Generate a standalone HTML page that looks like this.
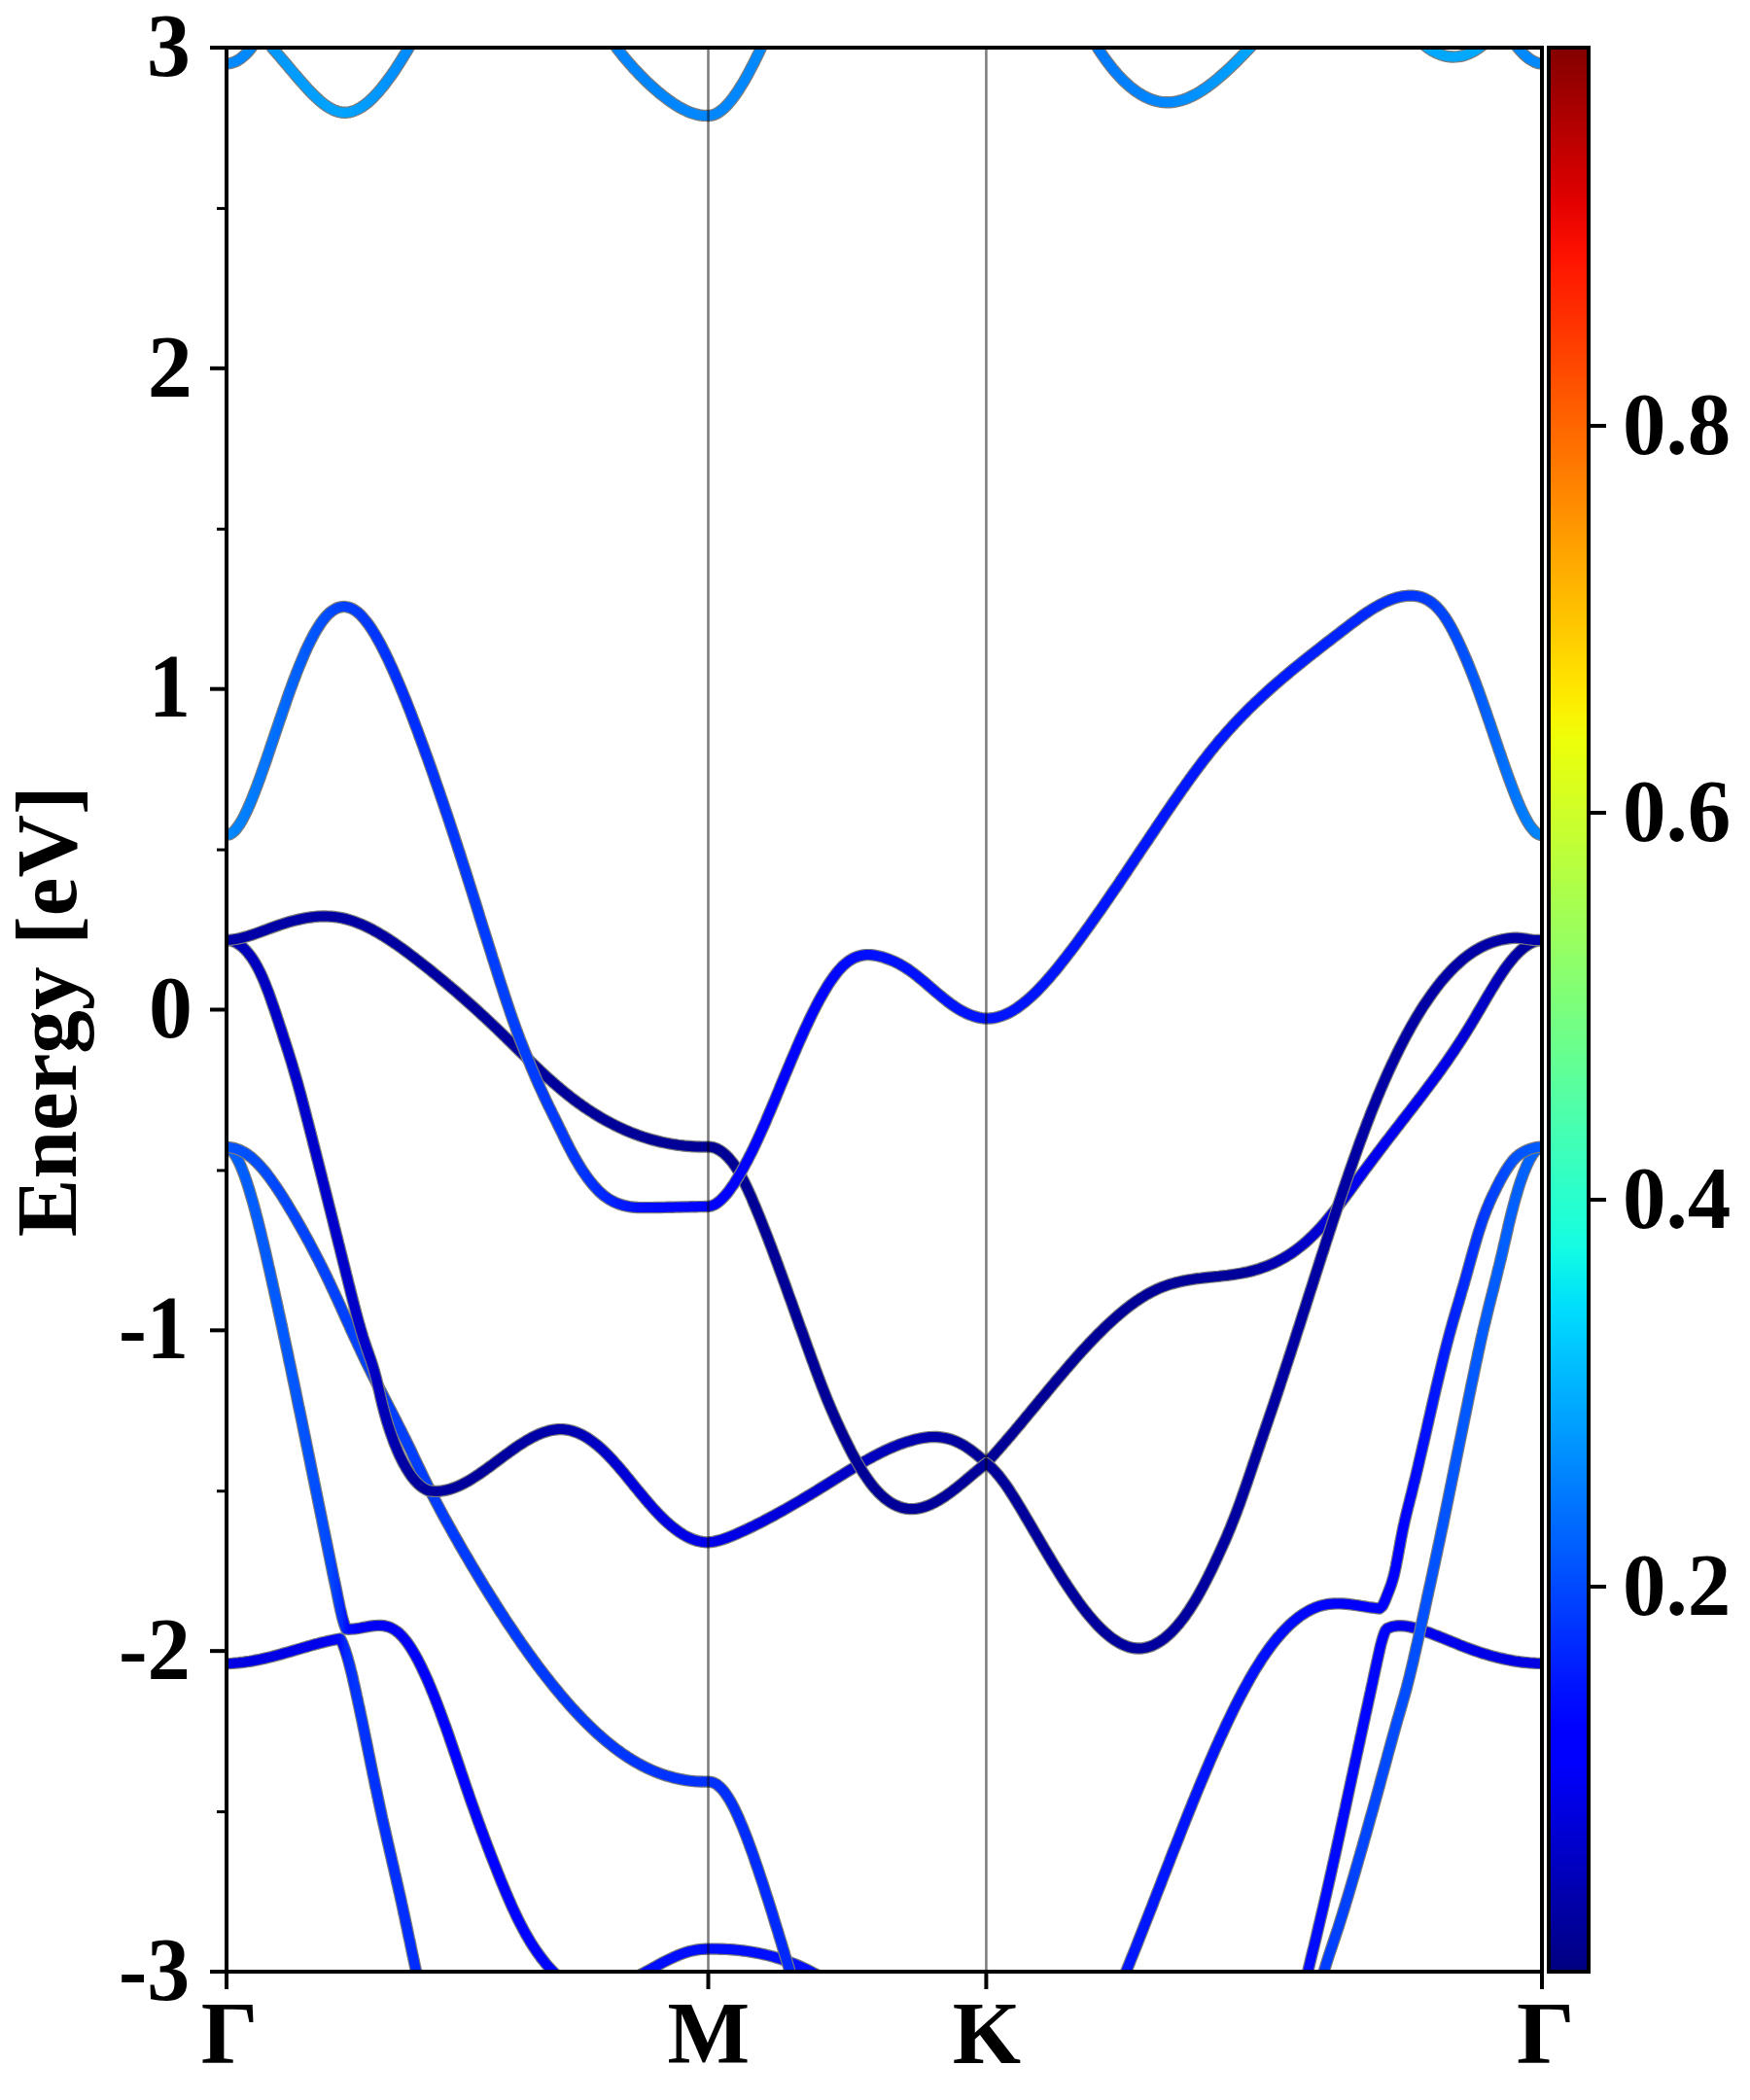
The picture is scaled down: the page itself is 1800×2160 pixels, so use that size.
<!DOCTYPE html>
<html lang="en"><head><meta charset="utf-8"><title>Band structure</title>
<style>html,body{margin:0;padding:0;background:#fff;overflow:hidden}svg{display:block}</style></head>
<body><svg width="1800" height="2160" viewBox="0 0 1800 2160"><defs><linearGradient id="gT1" gradientUnits="userSpaceOnUse" x1="233" y1="0" x2="265" y2="0"><stop offset="0.0000" stop-color="#0088ff"/><stop offset="1.0000" stop-color="#0088ff"/></linearGradient><linearGradient id="gT2" gradientUnits="userSpaceOnUse" x1="270" y1="0" x2="427" y2="0"><stop offset="0.0000" stop-color="#0096ff"/><stop offset="0.5223" stop-color="#00a4ff"/><stop offset="1.0000" stop-color="#0088ff"/></linearGradient><linearGradient id="gT3" gradientUnits="userSpaceOnUse" x1="626" y1="0" x2="788" y2="0"><stop offset="0.0000" stop-color="#0084ff"/><stop offset="1.0000" stop-color="#0088ff"/></linearGradient><linearGradient id="gT4" gradientUnits="userSpaceOnUse" x1="1122" y1="0" x2="1296" y2="0"><stop offset="0.0000" stop-color="#0078ff"/><stop offset="0.4540" stop-color="#0088ff"/><stop offset="1.0000" stop-color="#00a8ff"/></linearGradient><linearGradient id="gT5" gradientUnits="userSpaceOnUse" x1="1456" y1="0" x2="1534" y2="0"><stop offset="0.0000" stop-color="#00a8ff"/><stop offset="1.0000" stop-color="#00a8ff"/></linearGradient><linearGradient id="gT6" gradientUnits="userSpaceOnUse" x1="1554" y1="0" x2="1586" y2="0"><stop offset="0.0000" stop-color="#0088ff"/><stop offset="1.0000" stop-color="#0088ff"/></linearGradient><linearGradient id="gH" gradientUnits="userSpaceOnUse" x1="640" y1="0" x2="850" y2="0"><stop offset="0.0000" stop-color="#000cff"/><stop offset="1.0000" stop-color="#0010ff"/></linearGradient><linearGradient id="gG" gradientUnits="userSpaceOnUse" x1="233" y1="0" x2="433" y2="0"><stop offset="0.0000" stop-color="#0000e1"/><stop offset="0.4850" stop-color="#0000eb"/><stop offset="0.5800" stop-color="#0008fa"/><stop offset="0.6050" stop-color="#0024ff"/><stop offset="0.6600" stop-color="#0034ff"/><stop offset="1.0000" stop-color="#002cff"/></linearGradient><linearGradient id="gE" gradientUnits="userSpaceOnUse" x1="233" y1="0" x2="590" y2="0"><stop offset="0.0000" stop-color="#0060ff"/><stop offset="0.1877" stop-color="#0058ff"/><stop offset="0.2997" stop-color="#0048ff"/><stop offset="0.3333" stop-color="#0028ff"/><stop offset="0.3501" stop-color="#0008ff"/><stop offset="0.3838" stop-color="#0000f5"/><stop offset="0.6078" stop-color="#0000ff"/><stop offset="1.0000" stop-color="#0004ff"/></linearGradient><linearGradient id="gD" gradientUnits="userSpaceOnUse" x1="233" y1="0" x2="820" y2="0"><stop offset="0.0000" stop-color="#0054ff"/><stop offset="0.1141" stop-color="#0044ff"/><stop offset="0.3697" stop-color="#003cff"/><stop offset="0.6252" stop-color="#0038ff"/><stop offset="0.8433" stop-color="#0030ff"/><stop offset="1.0000" stop-color="#0028ff"/></linearGradient><linearGradient id="gC" gradientUnits="userSpaceOnUse" x1="233" y1="0" x2="1586" y2="0"><stop offset="0.0000" stop-color="#0000b4"/><stop offset="0.0495" stop-color="#0000cd"/><stop offset="0.1086" stop-color="#0000c8"/><stop offset="0.1382" stop-color="#0000a0"/><stop offset="0.1973" stop-color="#00009b"/><stop offset="0.2572" stop-color="#0000af"/><stop offset="0.3082" stop-color="#0000dc"/><stop offset="0.3659" stop-color="#0000eb"/><stop offset="0.4339" stop-color="#0000d7"/><stop offset="0.4930" stop-color="#0000be"/><stop offset="0.5373" stop-color="#0000aa"/><stop offset="0.5772" stop-color="#000096"/><stop offset="0.7738" stop-color="#00009b"/><stop offset="0.8182" stop-color="#0000c8"/><stop offset="0.8625" stop-color="#0000f0"/><stop offset="0.9217" stop-color="#0000eb"/><stop offset="0.9586" stop-color="#0000c3"/><stop offset="0.9845" stop-color="#0000a0"/><stop offset="1.0000" stop-color="#0000a0"/></linearGradient><linearGradient id="gB" gradientUnits="userSpaceOnUse" x1="233" y1="0" x2="1586" y2="0"><stop offset="0.0000" stop-color="#0000a8"/><stop offset="0.3659" stop-color="#000096"/><stop offset="0.5772" stop-color="#00009b"/><stop offset="1.0000" stop-color="#0000a8"/></linearGradient><linearGradient id="gA" gradientUnits="userSpaceOnUse" x1="233" y1="0" x2="1586" y2="0"><stop offset="0.0000" stop-color="#0088ff"/><stop offset="0.0347" stop-color="#0070ff"/><stop offset="0.0717" stop-color="#0050ff"/><stop offset="0.0894" stop-color="#0040ff"/><stop offset="0.1382" stop-color="#002cff"/><stop offset="0.2121" stop-color="#0040ff"/><stop offset="0.2712" stop-color="#0034ff"/><stop offset="0.3156" stop-color="#000cff"/><stop offset="0.3659" stop-color="#0000ff"/><stop offset="0.4560" stop-color="#0004ff"/><stop offset="0.4930" stop-color="#0010ff"/><stop offset="0.5772" stop-color="#0014ff"/><stop offset="0.7886" stop-color="#0018ff"/><stop offset="0.8625" stop-color="#0028ff"/><stop offset="0.8995" stop-color="#0034ff"/><stop offset="0.9364" stop-color="#004cff"/><stop offset="0.9734" stop-color="#0070ff"/><stop offset="1.0000" stop-color="#0088ff"/></linearGradient><linearGradient id="gG2" gradientUnits="userSpaceOnUse" x1="1340" y1="0" x2="1586" y2="0"><stop offset="0.0000" stop-color="#000cff"/><stop offset="0.3252" stop-color="#0004ff"/><stop offset="0.4065" stop-color="#0000f0"/><stop offset="1.0000" stop-color="#0000e1"/></linearGradient><linearGradient id="gE2" gradientUnits="userSpaceOnUse" x1="1355" y1="0" x2="1586" y2="0"><stop offset="0.0000" stop-color="#003cff"/><stop offset="0.4545" stop-color="#0050ff"/><stop offset="0.7576" stop-color="#005cff"/><stop offset="1.0000" stop-color="#0064ff"/></linearGradient><linearGradient id="gF2" gradientUnits="userSpaceOnUse" x1="1150" y1="0" x2="1586" y2="0"><stop offset="0.0000" stop-color="#0018ff"/><stop offset="0.3440" stop-color="#0010ff"/><stop offset="0.5275" stop-color="#0000fa"/><stop offset="0.6651" stop-color="#0000ff"/><stop offset="0.7569" stop-color="#0018ff"/><stop offset="0.8486" stop-color="#0034ff"/><stop offset="0.9404" stop-color="#0054ff"/><stop offset="1.0000" stop-color="#005cff"/></linearGradient><linearGradient id="jet" x1="0" y1="0" x2="0" y2="1"><stop offset="0.0000" stop-color="#840000"/><stop offset="0.0156" stop-color="#960000"/><stop offset="0.0312" stop-color="#a80000"/><stop offset="0.0469" stop-color="#bb0000"/><stop offset="0.0625" stop-color="#cd0000"/><stop offset="0.0781" stop-color="#df0000"/><stop offset="0.0938" stop-color="#f10800"/><stop offset="0.1094" stop-color="#ff1300"/><stop offset="0.1250" stop-color="#ff2200"/><stop offset="0.1406" stop-color="#ff3000"/><stop offset="0.1562" stop-color="#ff3f00"/><stop offset="0.1719" stop-color="#ff4e00"/><stop offset="0.1875" stop-color="#ff5d00"/><stop offset="0.2031" stop-color="#ff6c00"/><stop offset="0.2188" stop-color="#ff7a00"/><stop offset="0.2344" stop-color="#ff8900"/><stop offset="0.2500" stop-color="#ff9800"/><stop offset="0.2656" stop-color="#ffa700"/><stop offset="0.2812" stop-color="#ffb600"/><stop offset="0.2969" stop-color="#ffc400"/><stop offset="0.3125" stop-color="#ffd300"/><stop offset="0.3281" stop-color="#ffe200"/><stop offset="0.3438" stop-color="#fbf100"/><stop offset="0.3594" stop-color="#eeff09"/><stop offset="0.3750" stop-color="#e1ff16"/><stop offset="0.3906" stop-color="#d4ff23"/><stop offset="0.4062" stop-color="#c7ff30"/><stop offset="0.4219" stop-color="#baff3c"/><stop offset="0.4375" stop-color="#adff49"/><stop offset="0.4531" stop-color="#a0ff56"/><stop offset="0.4688" stop-color="#94ff63"/><stop offset="0.4844" stop-color="#87ff70"/><stop offset="0.5000" stop-color="#7aff7d"/><stop offset="0.5156" stop-color="#6dff8a"/><stop offset="0.5312" stop-color="#60ff97"/><stop offset="0.5469" stop-color="#53ffa4"/><stop offset="0.5625" stop-color="#46ffb1"/><stop offset="0.5781" stop-color="#39ffbe"/><stop offset="0.5938" stop-color="#2cffca"/><stop offset="0.6094" stop-color="#1fffd7"/><stop offset="0.6250" stop-color="#13fce4"/><stop offset="0.6406" stop-color="#06ecf1"/><stop offset="0.6562" stop-color="#00dcfe"/><stop offset="0.6719" stop-color="#00ccff"/><stop offset="0.6875" stop-color="#00bcff"/><stop offset="0.7031" stop-color="#00acff"/><stop offset="0.7188" stop-color="#009cff"/><stop offset="0.7344" stop-color="#008cff"/><stop offset="0.7500" stop-color="#007cff"/><stop offset="0.7656" stop-color="#006cff"/><stop offset="0.7812" stop-color="#005cff"/><stop offset="0.7969" stop-color="#004cff"/><stop offset="0.8125" stop-color="#003cff"/><stop offset="0.8281" stop-color="#002cff"/><stop offset="0.8438" stop-color="#001cff"/><stop offset="0.8594" stop-color="#000cff"/><stop offset="0.8750" stop-color="#0000ff"/><stop offset="0.8906" stop-color="#0000ff"/><stop offset="0.9062" stop-color="#0000ed"/><stop offset="0.9219" stop-color="#0000da"/><stop offset="0.9375" stop-color="#0000c8"/><stop offset="0.9531" stop-color="#0000b6"/><stop offset="0.9688" stop-color="#0000a4"/><stop offset="0.9844" stop-color="#000092"/><stop offset="1.0000" stop-color="#000080"/></linearGradient><clipPath id="ax"><rect x="233" y="49" width="1353" height="1979"/></clipPath></defs><rect width="1800" height="2160" fill="#fff"/><g clip-path="url(#ax)" fill="none" stroke-linejoin="round" stroke-linecap="butt"><path d="M233 65.5L236 65.2L239 64.5L241.8 63.5L244.6 62.1L247.2 60.4L249.6 58.5L251.9 56.4L254.1 54.3L256.2 52L258.1 49.6L260 47.2L261.8 44.7L263.5 42.2L265 40.0" stroke="#7c7c7c" stroke-width="12.4"/><path d="M233 65.5L236 65.2L239 64.5L241.8 63.5L244.6 62.1L247.2 60.4L249.6 58.5L251.9 56.4L254.1 54.3L256.2 52L258.1 49.6L260 47.2L261.8 44.7L263.5 42.2L265 40.0" stroke="url(#gT1)" stroke-width="10"/><path d="M270 38L272 40.2L274 42.5L276 44.7L278 47L280 49.2L281.9 51.5L283.9 53.8L285.9 56L287.9 58.3L289.8 60.6L291.8 62.9L293.7 65.1L295.7 67.4L297.6 69.7L299.5 72L301.5 74.3L303.4 76.6L305.4 78.9L307.3 81.1L309.3 83.4L311.3 85.6L313.3 87.9L315.3 90.1L317.3 92.3L319.3 94.4L321.4 96.5L323.5 98.6L325.7 100.7L327.9 102.7L330.1 104.6L332.4 106.5L334.8 108.2L337.2 109.9L339.8 111.4L342.4 112.8L345.1 113.9L347.9 114.9L350.8 115.5L353.7 115.8L356.7 115.7L359.7 115.3L362.7 114.5L365.5 113.5L368.3 112.2L371 110.7L373.5 109L376 107.2L378.4 105.3L380.6 103.3L382.9 101.2L385 99L387.1 96.8L389.1 94.6L391.1 92.3L393.1 89.9L394.9 87.6L396.8 85.2L398.6 82.7L400.4 80.3L402.2 77.8L403.9 75.4L405.6 72.9L407.3 70.3L408.9 67.8L410.6 65.3L412.2 62.7L413.8 60.2L415.4 57.6L416.9 55.1L418.5 52.5L420 49.9L421.6 47.3L423.1 44.7L424.6 42.1L426.1 39.5L427 38.0" stroke="#7c7c7c" stroke-width="12.4"/><path d="M270 38L272 40.2L274 42.5L276 44.7L278 47L280 49.2L281.9 51.5L283.9 53.8L285.9 56L287.9 58.3L289.8 60.6L291.8 62.9L293.7 65.1L295.7 67.4L297.6 69.7L299.5 72L301.5 74.3L303.4 76.6L305.4 78.9L307.3 81.1L309.3 83.4L311.3 85.6L313.3 87.9L315.3 90.1L317.3 92.3L319.3 94.4L321.4 96.5L323.5 98.6L325.7 100.7L327.9 102.7L330.1 104.6L332.4 106.5L334.8 108.2L337.2 109.9L339.8 111.4L342.4 112.8L345.1 113.9L347.9 114.9L350.8 115.5L353.7 115.8L356.7 115.7L359.7 115.3L362.7 114.5L365.5 113.5L368.3 112.2L371 110.7L373.5 109L376 107.2L378.4 105.3L380.6 103.3L382.9 101.2L385 99L387.1 96.8L389.1 94.6L391.1 92.3L393.1 89.9L394.9 87.6L396.8 85.2L398.6 82.7L400.4 80.3L402.2 77.8L403.9 75.4L405.6 72.9L407.3 70.3L408.9 67.8L410.6 65.3L412.2 62.7L413.8 60.2L415.4 57.6L416.9 55.1L418.5 52.5L420 49.9L421.6 47.3L423.1 44.7L424.6 42.1L426.1 39.5L427 38.0" stroke="url(#gT2)" stroke-width="10"/><path d="M626 38L627.7 40.4L629.5 42.8L631.3 45.2L633.1 47.6L634.9 50L636.7 52.3L638.6 54.7L640.4 57L642.3 59.3L644.3 61.6L646.2 63.9L648.2 66.1L650.1 68.3L652.1 70.6L654.2 72.7L656.2 74.9L658.3 77.1L660.4 79.2L662.5 81.3L664.6 83.4L666.8 85.5L668.9 87.5L671.2 89.5L673.4 91.5L675.6 93.4L677.9 95.4L680.2 97.3L682.6 99.1L684.9 100.9L687.3 102.7L689.7 104.4L692.2 106.1L694.7 107.7L697.2 109.3L699.8 110.8L702.4 112.2L705.1 113.5L707.8 114.8L710.5 115.9L713.4 116.8L716.2 117.6L719.1 118.3L722.1 118.7L725.1 118.9L728.1 119L728.4 119L731.4 118.7L734.3 117.9L737.2 116.7L739.8 115.1L742.3 113.2L744.7 111.2L746.9 109.1L749 106.8L751 104.5L752.9 102.1L754.7 99.7L756.5 97.2L758.2 94.7L759.9 92.2L761.5 89.6L763.1 87L764.7 84.4L766.2 81.8L767.7 79.2L769.2 76.5L770.6 73.9L772 71.2L773.4 68.5L774.8 65.8L776.2 63.1L777.5 60.4L778.8 57.7L780.2 55L781.4 52.3L782.7 49.6L784 46.8L785.3 44.1L786.5 41.3L787.7 38.6L788 38.0" stroke="#7c7c7c" stroke-width="12.4"/><path d="M626 38L627.7 40.4L629.5 42.8L631.3 45.2L633.1 47.6L634.9 50L636.7 52.3L638.6 54.7L640.4 57L642.3 59.3L644.3 61.6L646.2 63.9L648.2 66.1L650.1 68.3L652.1 70.6L654.2 72.7L656.2 74.9L658.3 77.1L660.4 79.2L662.5 81.3L664.6 83.4L666.8 85.5L668.9 87.5L671.2 89.5L673.4 91.5L675.6 93.4L677.9 95.4L680.2 97.3L682.6 99.1L684.9 100.9L687.3 102.7L689.7 104.4L692.2 106.1L694.7 107.7L697.2 109.3L699.8 110.8L702.4 112.2L705.1 113.5L707.8 114.8L710.5 115.9L713.4 116.8L716.2 117.6L719.1 118.3L722.1 118.7L725.1 118.9L728.1 119L728.4 119L731.4 118.7L734.3 117.9L737.2 116.7L739.8 115.1L742.3 113.2L744.7 111.2L746.9 109.1L749 106.8L751 104.5L752.9 102.1L754.7 99.7L756.5 97.2L758.2 94.7L759.9 92.2L761.5 89.6L763.1 87L764.7 84.4L766.2 81.8L767.7 79.2L769.2 76.5L770.6 73.9L772 71.2L773.4 68.5L774.8 65.8L776.2 63.1L777.5 60.4L778.8 57.7L780.2 55L781.4 52.3L782.7 49.6L784 46.8L785.3 44.1L786.5 41.3L787.7 38.6L788 38.0" stroke="url(#gT3)" stroke-width="10"/><path d="M1122 38L1123.5 40.5L1125.1 43.1L1126.6 45.6L1128.2 48.1L1129.9 50.6L1131.5 53.1L1133.2 55.6L1134.9 58L1136.6 60.4L1138.3 62.8L1140.1 65.2L1142 67.6L1143.8 69.9L1145.7 72.2L1147.6 74.4L1149.6 76.7L1151.6 78.9L1153.6 81L1155.7 83.1L1157.9 85.1L1160.1 87.1L1162.3 89.1L1164.6 90.9L1167 92.7L1169.4 94.5L1171.9 96.1L1174.4 97.6L1177 99.1L1179.7 100.4L1182.4 101.6L1185.2 102.6L1188 103.5L1190.9 104.2L1193.8 104.8L1196.8 105.1L1199.8 105.3L1202.8 105.2L1205.8 105L1208.7 104.6L1211.7 104L1214.6 103.3L1217.5 102.4L1220.4 101.4L1223.2 100.2L1225.9 98.9L1228.6 97.6L1231.3 96.1L1233.9 94.6L1236.4 93L1239 91.3L1241.4 89.6L1243.9 87.8L1246.3 86L1248.7 84.1L1251 82.2L1253.3 80.3L1255.6 78.3L1257.9 76.3L1260.1 74.3L1262.4 72.3L1264.6 70.2L1266.7 68.2L1268.9 66.1L1271 64L1273.2 61.8L1275.3 59.7L1277.4 57.5L1279.5 55.4L1281.6 53.2L1283.7 51.1L1285.7 48.9L1287.8 46.7L1289.9 44.5L1291.9 42.3L1294 40.1L1296 38.0" stroke="#7c7c7c" stroke-width="12.4"/><path d="M1122 38L1123.5 40.5L1125.1 43.1L1126.6 45.6L1128.2 48.1L1129.9 50.6L1131.5 53.1L1133.2 55.6L1134.9 58L1136.6 60.4L1138.3 62.8L1140.1 65.2L1142 67.6L1143.8 69.9L1145.7 72.2L1147.6 74.4L1149.6 76.7L1151.6 78.9L1153.6 81L1155.7 83.1L1157.9 85.1L1160.1 87.1L1162.3 89.1L1164.6 90.9L1167 92.7L1169.4 94.5L1171.9 96.1L1174.4 97.6L1177 99.1L1179.7 100.4L1182.4 101.6L1185.2 102.6L1188 103.5L1190.9 104.2L1193.8 104.8L1196.8 105.1L1199.8 105.3L1202.8 105.2L1205.8 105L1208.7 104.6L1211.7 104L1214.6 103.3L1217.5 102.4L1220.4 101.4L1223.2 100.2L1225.9 98.9L1228.6 97.6L1231.3 96.1L1233.9 94.6L1236.4 93L1239 91.3L1241.4 89.6L1243.9 87.8L1246.3 86L1248.7 84.1L1251 82.2L1253.3 80.3L1255.6 78.3L1257.9 76.3L1260.1 74.3L1262.4 72.3L1264.6 70.2L1266.7 68.2L1268.9 66.1L1271 64L1273.2 61.8L1275.3 59.7L1277.4 57.5L1279.5 55.4L1281.6 53.2L1283.7 51.1L1285.7 48.9L1287.8 46.7L1289.9 44.5L1291.9 42.3L1294 40.1L1296 38.0" stroke="url(#gT4)" stroke-width="10"/><path d="M1456 38L1458.1 40.1L1460.2 42.2L1462.4 44.2L1464.6 46.1L1467 47.9L1469.4 49.6L1471.8 51.3L1474.4 52.8L1477 54.1L1479.7 55.3L1482.5 56.4L1485.3 57.2L1488.2 57.9L1491.2 58.3L1494.1 58.5L1497.1 58.4L1500.1 58.1L1503.1 57.6L1506 56.9L1508.9 55.9L1511.7 54.7L1514.5 53.4L1517.1 51.9L1519.7 50.3L1522.2 48.5L1524.6 46.7L1526.9 44.7L1529.2 42.7L1531.4 40.6L1533.6 38.5L1534 38.0" stroke="#7c7c7c" stroke-width="12.4"/><path d="M1456 38L1458.1 40.1L1460.2 42.2L1462.4 44.2L1464.6 46.1L1467 47.9L1469.4 49.6L1471.8 51.3L1474.4 52.8L1477 54.1L1479.7 55.3L1482.5 56.4L1485.3 57.2L1488.2 57.9L1491.2 58.3L1494.1 58.5L1497.1 58.4L1500.1 58.1L1503.1 57.6L1506 56.9L1508.9 55.9L1511.7 54.7L1514.5 53.4L1517.1 51.9L1519.7 50.3L1522.2 48.5L1524.6 46.7L1526.9 44.7L1529.2 42.7L1531.4 40.6L1533.6 38.5L1534 38.0" stroke="url(#gT5)" stroke-width="10"/><path d="M1554 40L1555.8 42.4L1557.6 44.7L1559.5 47L1561.4 49.3L1563.3 51.5L1565.3 53.7L1567.4 55.8L1569.6 57.7L1571.8 59.6L1574.2 61.3L1576.7 62.8L1579.3 64.1L1582.1 65L1585 65.4L1586 65.5" stroke="#7c7c7c" stroke-width="12.4"/><path d="M1554 40L1555.8 42.4L1557.6 44.7L1559.5 47L1561.4 49.3L1563.3 51.5L1565.3 53.7L1567.4 55.8L1569.6 57.7L1571.8 59.6L1574.2 61.3L1576.7 62.8L1579.3 64.1L1582.1 65L1585 65.4L1586 65.5" stroke="url(#gT6)" stroke-width="10"/><path d="M640 2040L642.8 2038.9L645.6 2037.7L648.3 2036.4L651 2035.1L653.7 2033.8L656.4 2032.4L659 2031L661.7 2029.6L664.3 2028.1L667 2026.7L669.6 2025.3L672.2 2023.8L674.9 2022.4L677.5 2020.9L680.1 2019.5L682.8 2018.1L685.4 2016.8L688.1 2015.4L690.8 2014.2L693.5 2012.9L696.3 2011.7L699 2010.6L701.8 2009.5L704.6 2008.5L707.5 2007.6L710.4 2006.8L713.3 2006.2L716.2 2005.6L719.2 2005.2L722.1 2004.9L725.1 2004.7L728.1 2004.6L728.6 2004.6L731.6 2004.6L734.6 2004.6L737.6 2004.6L740.6 2004.7L743.6 2004.8L746.6 2004.9L749.6 2005.1L752.6 2005.3L755.6 2005.5L758.6 2005.8L761.6 2006.1L764.5 2006.5L767.5 2006.9L770.5 2007.3L773.4 2007.8L776.4 2008.3L779.4 2008.9L782.3 2009.5L785.2 2010.1L788.2 2010.8L791.1 2011.5L794 2012.3L796.9 2013.1L799.8 2014L802.6 2014.8L805.5 2015.8L808.3 2016.8L811.2 2017.8L814 2018.9L816.8 2020L819.5 2021.1L822.3 2022.3L825.1 2023.5L827.8 2024.8L830.5 2026.1L833.2 2027.5L835.9 2028.9L838.5 2030.3L841.1 2031.7L843.8 2033.2L846.4 2034.8L848.9 2036.3L850 2037.0" stroke="#7c7c7c" stroke-width="12.4"/><path d="M640 2040L642.8 2038.9L645.6 2037.7L648.3 2036.4L651 2035.1L653.7 2033.8L656.4 2032.4L659 2031L661.7 2029.6L664.3 2028.1L667 2026.7L669.6 2025.3L672.2 2023.8L674.9 2022.4L677.5 2020.9L680.1 2019.5L682.8 2018.1L685.4 2016.8L688.1 2015.4L690.8 2014.2L693.5 2012.9L696.3 2011.7L699 2010.6L701.8 2009.5L704.6 2008.5L707.5 2007.6L710.4 2006.8L713.3 2006.2L716.2 2005.6L719.2 2005.2L722.1 2004.9L725.1 2004.7L728.1 2004.6L728.6 2004.6L731.6 2004.6L734.6 2004.6L737.6 2004.6L740.6 2004.7L743.6 2004.8L746.6 2004.9L749.6 2005.1L752.6 2005.3L755.6 2005.5L758.6 2005.8L761.6 2006.1L764.5 2006.5L767.5 2006.9L770.5 2007.3L773.4 2007.8L776.4 2008.3L779.4 2008.9L782.3 2009.5L785.2 2010.1L788.2 2010.8L791.1 2011.5L794 2012.3L796.9 2013.1L799.8 2014L802.6 2014.8L805.5 2015.8L808.3 2016.8L811.2 2017.8L814 2018.9L816.8 2020L819.5 2021.1L822.3 2022.3L825.1 2023.5L827.8 2024.8L830.5 2026.1L833.2 2027.5L835.9 2028.9L838.5 2030.3L841.1 2031.7L843.8 2033.2L846.4 2034.8L848.9 2036.3L850 2037.0" stroke="url(#gH)" stroke-width="10"/><path d="M233 1711.2L236 1711.1L239 1710.9L242 1710.6L245 1710.4L248 1710L250.9 1709.7L253.9 1709.2L256.9 1708.8L259.8 1708.3L262.8 1707.7L265.7 1707.2L268.7 1706.5L271.6 1705.9L274.5 1705.2L277.5 1704.5L280.4 1703.8L283.3 1703L286.2 1702.2L289.1 1701.4L292 1700.6L294.9 1699.8L297.7 1699L300.6 1698.1L303.5 1697.3L306.4 1696.4L309.2 1695.6L312.1 1694.7L315 1693.9L317.9 1693.1L320.8 1692.2L323.7 1691.4L326.6 1690.7L329.4 1689.9L332.4 1689.2L335.3 1688.5L338.2 1687.8L341.1 1687.2L344 1686.6L347 1686L349.9 1685.5L350 1685.5L351.5 1688.4L352.8 1691.3L353.9 1694.3L355 1697.2L355.9 1700.2L356.8 1703.1L357.7 1706L358.5 1709L359.3 1711.9L360.1 1714.9L360.8 1717.8L361.6 1720.8L362.3 1723.7L363 1726.7L363.6 1729.6L364.3 1732.6L365 1735.5L365.6 1738.4L366.3 1741.4L366.9 1744.3L367.6 1747.3L368.2 1750.2L368.8 1753.1L369.5 1756.1L370.1 1759L370.7 1762L371.3 1764.9L372 1767.9L372.6 1770.8L373.2 1773.7L373.8 1776.7L374.4 1779.6L375 1782.6L375.6 1785.5L376.2 1788.5L376.8 1791.4L377.4 1794.3L378 1797.3L378.6 1800.2L379.2 1803.2L379.8 1806.1L380.4 1809L381 1812L381.6 1814.9L382.2 1817.9L382.8 1820.8L383.4 1823.7L384 1826.7L384.6 1829.6L385.2 1832.5L385.8 1835.5L386.4 1838.4L387.1 1841.3L387.7 1844.3L388.3 1847.2L388.9 1850.1L389.5 1853L390.2 1856L390.8 1858.9L391.4 1861.8L392.1 1864.7L392.7 1867.7L393.3 1870.6L394 1873.5L394.6 1876.4L395.3 1879.3L396 1882.3L396.6 1885.2L397.3 1888.1L397.9 1891L398.6 1893.9L399.3 1896.9L400 1899.8L400.6 1902.7L401.3 1905.6L402 1908.5L402.7 1911.5L403.3 1914.4L404 1917.3L404.7 1920.2L405.4 1923.2L406 1926.1L406.7 1929L407.4 1931.9L408 1934.9L408.7 1937.8L409.4 1940.7L410 1943.7L410.7 1946.6L411.4 1949.5L412 1952.5L412.7 1955.4L413.3 1958.3L414 1961.3L414.6 1964.2L415.2 1967.2L415.9 1970.1L416.5 1973L417.1 1976L417.7 1978.9L418.4 1981.9L419 1984.8L419.6 1987.7L420.2 1990.7L420.8 1993.6L421.5 1996.5L422.1 1999.5L422.7 2002.4L423.3 2005.4L423.9 2008.3L424.5 2011.2L425.2 2014.2L425.8 2017.1L426.4 2020L427 2022.9L427.7 2025.9L428.3 2028.8L428.9 2031.7L429.6 2034.6L430.2 2037.6L430.8 2040.5L431.5 2043.4L432.2 2046.3L432.8 2049.2L433 2050.0" stroke="#7c7c7c" stroke-width="12.4"/><path d="M233 1711.2L236 1711.1L239 1710.9L242 1710.6L245 1710.4L248 1710L250.9 1709.7L253.9 1709.2L256.9 1708.8L259.8 1708.3L262.8 1707.7L265.7 1707.2L268.7 1706.5L271.6 1705.9L274.5 1705.2L277.5 1704.5L280.4 1703.8L283.3 1703L286.2 1702.2L289.1 1701.4L292 1700.6L294.9 1699.8L297.7 1699L300.6 1698.1L303.5 1697.3L306.4 1696.4L309.2 1695.6L312.1 1694.7L315 1693.9L317.9 1693.1L320.8 1692.2L323.7 1691.4L326.6 1690.7L329.4 1689.9L332.4 1689.2L335.3 1688.5L338.2 1687.8L341.1 1687.2L344 1686.6L347 1686L349.9 1685.5L350 1685.5L351.5 1688.4L352.8 1691.3L353.9 1694.3L355 1697.2L355.9 1700.2L356.8 1703.1L357.7 1706L358.5 1709L359.3 1711.9L360.1 1714.9L360.8 1717.8L361.6 1720.8L362.3 1723.7L363 1726.7L363.6 1729.6L364.3 1732.6L365 1735.5L365.6 1738.4L366.3 1741.4L366.9 1744.3L367.6 1747.3L368.2 1750.2L368.8 1753.1L369.5 1756.1L370.1 1759L370.7 1762L371.3 1764.9L372 1767.9L372.6 1770.8L373.2 1773.7L373.8 1776.7L374.4 1779.6L375 1782.6L375.6 1785.5L376.2 1788.5L376.8 1791.4L377.4 1794.3L378 1797.3L378.6 1800.2L379.2 1803.2L379.8 1806.1L380.4 1809L381 1812L381.6 1814.9L382.2 1817.9L382.8 1820.8L383.4 1823.7L384 1826.7L384.6 1829.6L385.2 1832.5L385.8 1835.5L386.4 1838.4L387.1 1841.3L387.7 1844.3L388.3 1847.2L388.9 1850.1L389.5 1853L390.2 1856L390.8 1858.9L391.4 1861.8L392.1 1864.7L392.7 1867.7L393.3 1870.6L394 1873.5L394.6 1876.4L395.3 1879.3L396 1882.3L396.6 1885.2L397.3 1888.1L397.9 1891L398.6 1893.9L399.3 1896.9L400 1899.8L400.6 1902.7L401.3 1905.6L402 1908.5L402.7 1911.5L403.3 1914.4L404 1917.3L404.7 1920.2L405.4 1923.2L406 1926.1L406.7 1929L407.4 1931.9L408 1934.9L408.7 1937.8L409.4 1940.7L410 1943.7L410.7 1946.6L411.4 1949.5L412 1952.5L412.7 1955.4L413.3 1958.3L414 1961.3L414.6 1964.2L415.2 1967.2L415.9 1970.1L416.5 1973L417.1 1976L417.7 1978.9L418.4 1981.9L419 1984.8L419.6 1987.7L420.2 1990.7L420.8 1993.6L421.5 1996.5L422.1 1999.5L422.7 2002.4L423.3 2005.4L423.9 2008.3L424.5 2011.2L425.2 2014.2L425.8 2017.1L426.4 2020L427 2022.9L427.7 2025.9L428.3 2028.8L428.9 2031.7L429.6 2034.6L430.2 2037.6L430.8 2040.5L431.5 2043.4L432.2 2046.3L432.8 2049.2L433 2050.0" stroke="url(#gG)" stroke-width="10"/><path d="M233 1180L235.9 1181.3L238.4 1183.5L240.5 1186L242.2 1188.6L243.8 1191.4L245.2 1194.1L246.6 1196.9L247.8 1199.7L249 1202.6L250.1 1205.4L251.2 1208.3L252.2 1211.2L253.2 1214.1L254.2 1217L255.1 1219.8L256 1222.7L256.9 1225.6L257.8 1228.6L258.6 1231.5L259.5 1234.4L260.3 1237.3L261.1 1240.2L261.9 1243.1L262.7 1246L263.4 1249L264.2 1251.9L265 1254.8L265.7 1257.7L266.4 1260.6L267.2 1263.6L267.9 1266.5L268.6 1269.4L269.3 1272.4L270 1275.3L270.7 1278.2L271.4 1281.1L272.1 1284.1L272.8 1287L273.5 1289.9L274.1 1292.9L274.8 1295.8L275.5 1298.7L276.1 1301.6L276.8 1304.6L277.5 1307.5L278.1 1310.4L278.8 1313.4L279.4 1316.3L280.1 1319.2L280.7 1322.2L281.4 1325.1L282 1328L282.7 1331L283.3 1333.9L284 1336.8L284.6 1339.8L285.3 1342.7L285.9 1345.6L286.5 1348.6L287.2 1351.5L287.8 1354.4L288.5 1357.4L289.1 1360.3L289.7 1363.2L290.4 1366.2L291 1369.1L291.6 1372.1L292.2 1375L292.9 1377.9L293.5 1380.9L294.1 1383.8L294.7 1386.7L295.4 1389.7L296 1392.6L296.6 1395.5L297.2 1398.5L297.8 1401.4L298.5 1404.4L299.1 1407.3L299.7 1410.2L300.3 1413.2L300.9 1416.1L301.5 1419L302.2 1422L302.8 1424.9L303.4 1427.9L304 1430.8L304.6 1433.7L305.2 1436.7L305.8 1439.6L306.4 1442.6L307 1445.5L307.6 1448.4L308.3 1451.4L308.9 1454.3L309.5 1457.3L310.1 1460.2L310.7 1463.1L311.3 1466.1L311.9 1469L312.5 1472L313.1 1474.9L313.7 1477.8L314.3 1480.8L314.9 1483.7L315.5 1486.7L316.1 1489.6L316.7 1492.5L317.3 1495.5L317.9 1498.4L318.5 1501.3L319.1 1504.3L319.7 1507.2L320.3 1510.2L320.9 1513.1L321.5 1516L322.1 1519L322.7 1521.9L323.3 1524.9L323.9 1527.8L324.5 1530.7L325.1 1533.7L325.7 1536.6L326.3 1539.6L326.9 1542.5L327.5 1545.4L328.1 1548.4L328.7 1551.3L329.3 1554.3L329.9 1557.2L330.5 1560.1L331.1 1563.1L331.7 1566L332.3 1569L332.9 1571.9L333.5 1574.8L334.1 1577.8L334.7 1580.7L335.3 1583.7L335.9 1586.6L336.5 1589.5L337.1 1592.5L337.7 1595.4L338.3 1598.3L338.9 1601.3L339.5 1604.2L340.1 1607.2L340.7 1610.1L341.3 1613L341.9 1616L342.5 1618.9L343.1 1621.9L343.7 1624.8L344.4 1627.7L345 1630.7L345.6 1633.6L346.2 1636.5L346.8 1639.5L347.4 1642.4L348 1645.3L348.6 1648.3L349.2 1651.2L349.8 1654.1L350.5 1657L351.2 1659.8L351.8 1662.7L352.6 1665.5L353.4 1668.3L354.2 1671L355.2 1673.6L356 1675.5L359 1675.7L362 1675.6L365 1675.4L368 1675L370.9 1674.5L373.9 1673.9L376.8 1673.4L379.8 1672.8L382.7 1672.4L385.7 1672.1L388.7 1671.9L391.7 1671.9L394.7 1672.2L397.7 1672.8L400.6 1673.7L403.4 1675L406 1676.5L408.6 1678.3L410.9 1680.3L413.1 1682.5L415.2 1684.8L417.1 1687.2L419 1689.6L420.8 1692.2L422.4 1694.7L424.1 1697.3L425.6 1699.9L427.2 1702.6L428.6 1705.2L430.1 1707.9L431.4 1710.6L432.8 1713.3L434.1 1716L435.4 1718.8L436.7 1721.5L438 1724.3L439.2 1727L440.4 1729.8L441.6 1732.6L442.8 1735.4L443.9 1738.2L445.1 1741L446.2 1743.8L447.3 1746.6L448.4 1749.4L449.5 1752.2L450.6 1755L451.6 1757.8L452.7 1760.6L453.7 1763.5L454.8 1766.3L455.8 1769.1L456.8 1772L457.9 1774.8L458.9 1777.6L459.9 1780.5L460.9 1783.3L461.9 1786.1L462.8 1789L463.8 1791.8L464.8 1794.7L465.8 1797.5L466.7 1800.4L467.7 1803.2L468.7 1806L469.6 1808.9L470.6 1811.7L471.6 1814.6L472.5 1817.4L473.5 1820.3L474.4 1823.1L475.4 1825.9L476.4 1828.8L477.3 1831.6L478.3 1834.5L479.2 1837.3L480.2 1840.1L481.2 1843L482.2 1845.8L483.1 1848.6L484.1 1851.5L485.1 1854.3L486.1 1857.1L487.1 1859.9L488.1 1862.7L489.1 1865.6L490.1 1868.4L491.1 1871.2L492.1 1874L493.2 1876.8L494.2 1879.6L495.2 1882.4L496.3 1885.2L497.3 1888L498.4 1890.9L499.4 1893.7L500.5 1896.5L501.5 1899.3L502.6 1902.1L503.7 1904.9L504.7 1907.7L505.8 1910.4L506.9 1913.2L508 1916L509.1 1918.8L510.2 1921.6L511.3 1924.4L512.4 1927.2L513.5 1929.9L514.6 1932.7L515.7 1935.5L516.9 1938.3L518 1941L519.2 1943.8L520.3 1946.5L521.5 1949.3L522.7 1952L523.9 1954.7L525.1 1957.5L526.3 1960.2L527.5 1962.9L528.8 1965.6L530 1968.3L531.3 1971L532.6 1973.7L533.9 1976.3L535.3 1979L536.7 1981.6L538.1 1984.3L539.5 1986.9L540.9 1989.5L542.4 1992L543.9 1994.6L545.4 1997.1L547 1999.7L548.6 2002.2L550.2 2004.6L551.9 2007.1L553.6 2009.5L555.4 2011.9L557.1 2014.3L559 2016.6L560.8 2019L562.7 2021.2L564.7 2023.5L566.7 2025.7L568.7 2027.8L570.8 2030L572.9 2032L575 2034.1L577.3 2036.1L579.5 2038L581.8 2039.9L584.1 2041.7L586.5 2043.5L588.9 2045.3L590 2046.0" stroke="#7c7c7c" stroke-width="12.4"/><path d="M233 1180L235.9 1181.3L238.4 1183.5L240.5 1186L242.2 1188.6L243.8 1191.4L245.2 1194.1L246.6 1196.9L247.8 1199.7L249 1202.6L250.1 1205.4L251.2 1208.3L252.2 1211.2L253.2 1214.1L254.2 1217L255.1 1219.8L256 1222.7L256.9 1225.6L257.8 1228.6L258.6 1231.5L259.5 1234.4L260.3 1237.3L261.1 1240.2L261.9 1243.1L262.7 1246L263.4 1249L264.2 1251.9L265 1254.8L265.7 1257.7L266.4 1260.6L267.2 1263.6L267.9 1266.5L268.6 1269.4L269.3 1272.4L270 1275.3L270.7 1278.2L271.4 1281.1L272.1 1284.1L272.8 1287L273.5 1289.9L274.1 1292.9L274.8 1295.8L275.5 1298.7L276.1 1301.6L276.8 1304.6L277.5 1307.5L278.1 1310.4L278.8 1313.4L279.4 1316.3L280.1 1319.2L280.7 1322.2L281.4 1325.1L282 1328L282.7 1331L283.3 1333.9L284 1336.8L284.6 1339.8L285.3 1342.7L285.9 1345.6L286.5 1348.6L287.2 1351.5L287.8 1354.4L288.5 1357.4L289.1 1360.3L289.7 1363.2L290.4 1366.2L291 1369.1L291.6 1372.1L292.2 1375L292.9 1377.9L293.5 1380.9L294.1 1383.8L294.7 1386.7L295.4 1389.7L296 1392.6L296.6 1395.5L297.2 1398.5L297.8 1401.4L298.5 1404.4L299.1 1407.3L299.7 1410.2L300.3 1413.2L300.9 1416.1L301.5 1419L302.2 1422L302.8 1424.9L303.4 1427.9L304 1430.8L304.6 1433.7L305.2 1436.7L305.8 1439.6L306.4 1442.6L307 1445.5L307.6 1448.4L308.3 1451.4L308.9 1454.3L309.5 1457.3L310.1 1460.2L310.7 1463.1L311.3 1466.1L311.9 1469L312.5 1472L313.1 1474.9L313.7 1477.8L314.3 1480.8L314.9 1483.7L315.5 1486.7L316.1 1489.6L316.7 1492.5L317.3 1495.5L317.9 1498.4L318.5 1501.3L319.1 1504.3L319.7 1507.2L320.3 1510.2L320.9 1513.1L321.5 1516L322.1 1519L322.7 1521.9L323.3 1524.9L323.9 1527.8L324.5 1530.7L325.1 1533.7L325.7 1536.6L326.3 1539.6L326.9 1542.5L327.5 1545.4L328.1 1548.4L328.7 1551.3L329.3 1554.3L329.9 1557.2L330.5 1560.1L331.1 1563.1L331.7 1566L332.3 1569L332.9 1571.9L333.5 1574.8L334.1 1577.8L334.7 1580.7L335.3 1583.7L335.9 1586.6L336.5 1589.5L337.1 1592.5L337.7 1595.4L338.3 1598.3L338.9 1601.3L339.5 1604.2L340.1 1607.2L340.7 1610.1L341.3 1613L341.9 1616L342.5 1618.9L343.1 1621.9L343.7 1624.8L344.4 1627.7L345 1630.7L345.6 1633.6L346.2 1636.5L346.8 1639.5L347.4 1642.4L348 1645.3L348.6 1648.3L349.2 1651.2L349.8 1654.1L350.5 1657L351.2 1659.8L351.8 1662.7L352.6 1665.5L353.4 1668.3L354.2 1671L355.2 1673.6L356 1675.5L359 1675.7L362 1675.6L365 1675.4L368 1675L370.9 1674.5L373.9 1673.9L376.8 1673.4L379.8 1672.8L382.7 1672.4L385.7 1672.1L388.7 1671.9L391.7 1671.9L394.7 1672.2L397.7 1672.8L400.6 1673.7L403.4 1675L406 1676.5L408.6 1678.3L410.9 1680.3L413.1 1682.5L415.2 1684.8L417.1 1687.2L419 1689.6L420.8 1692.2L422.4 1694.7L424.1 1697.3L425.6 1699.9L427.2 1702.6L428.6 1705.2L430.1 1707.9L431.4 1710.6L432.8 1713.3L434.1 1716L435.4 1718.8L436.7 1721.5L438 1724.3L439.2 1727L440.4 1729.8L441.6 1732.6L442.8 1735.4L443.9 1738.2L445.1 1741L446.2 1743.8L447.3 1746.6L448.4 1749.4L449.5 1752.2L450.6 1755L451.6 1757.8L452.7 1760.6L453.7 1763.5L454.8 1766.3L455.8 1769.1L456.8 1772L457.9 1774.8L458.9 1777.6L459.9 1780.5L460.9 1783.3L461.9 1786.1L462.8 1789L463.8 1791.8L464.8 1794.7L465.8 1797.5L466.7 1800.4L467.7 1803.2L468.7 1806L469.6 1808.9L470.6 1811.7L471.6 1814.6L472.5 1817.4L473.5 1820.3L474.4 1823.1L475.4 1825.9L476.4 1828.8L477.3 1831.6L478.3 1834.5L479.2 1837.3L480.2 1840.1L481.2 1843L482.2 1845.8L483.1 1848.6L484.1 1851.5L485.1 1854.3L486.1 1857.1L487.1 1859.9L488.1 1862.7L489.1 1865.6L490.1 1868.4L491.1 1871.2L492.1 1874L493.2 1876.8L494.2 1879.6L495.2 1882.4L496.3 1885.2L497.3 1888L498.4 1890.9L499.4 1893.7L500.5 1896.5L501.5 1899.3L502.6 1902.1L503.7 1904.9L504.7 1907.7L505.8 1910.4L506.9 1913.2L508 1916L509.1 1918.8L510.2 1921.6L511.3 1924.4L512.4 1927.2L513.5 1929.9L514.6 1932.7L515.7 1935.5L516.9 1938.3L518 1941L519.2 1943.8L520.3 1946.5L521.5 1949.3L522.7 1952L523.9 1954.7L525.1 1957.5L526.3 1960.2L527.5 1962.9L528.8 1965.6L530 1968.3L531.3 1971L532.6 1973.7L533.9 1976.3L535.3 1979L536.7 1981.6L538.1 1984.3L539.5 1986.9L540.9 1989.5L542.4 1992L543.9 1994.6L545.4 1997.1L547 1999.7L548.6 2002.2L550.2 2004.6L551.9 2007.1L553.6 2009.5L555.4 2011.9L557.1 2014.3L559 2016.6L560.8 2019L562.7 2021.2L564.7 2023.5L566.7 2025.7L568.7 2027.8L570.8 2030L572.9 2032L575 2034.1L577.3 2036.1L579.5 2038L581.8 2039.9L584.1 2041.7L586.5 2043.5L588.9 2045.3L590 2046.0" stroke="url(#gE)" stroke-width="10"/><path d="M233 1180L236 1180.1L239 1180.6L241.9 1181.3L244.8 1182.3L247.6 1183.5L250.3 1184.9L252.9 1186.4L255.5 1188.2L257.9 1190L260.2 1192L262.5 1194.1L264.6 1196.2L266.7 1198.4L268.8 1200.7L270.8 1203L272.7 1205.3L274.6 1207.7L276.4 1210.1L278.2 1212.5L280 1215L281.7 1217.5L283.5 1220L285.2 1222.5L286.8 1225L288.5 1227.5L290.1 1230L291.7 1232.6L293.3 1235.2L294.9 1237.7L296.4 1240.3L298 1242.9L299.5 1245.5L301.1 1248L302.6 1250.6L304.1 1253.2L305.6 1255.8L307.1 1258.4L308.6 1261.1L310.1 1263.7L311.6 1266.3L313 1268.9L314.5 1271.6L315.9 1274.2L317.4 1276.8L318.8 1279.5L320.2 1282.1L321.6 1284.8L323 1287.5L324.4 1290.1L325.8 1292.8L327.2 1295.5L328.6 1298.2L329.9 1300.9L331.3 1303.5L332.6 1306.2L333.9 1308.9L335.3 1311.6L336.6 1314.4L337.9 1317.1L339.2 1319.8L340.4 1322.5L341.7 1325.2L343 1328L344.3 1330.7L345.5 1333.4L346.8 1336.1L348 1338.9L349.3 1341.6L350.5 1344.3L351.7 1347.1L353 1349.8L354.2 1352.6L355.4 1355.3L356.7 1358L357.9 1360.7L359.2 1363.5L360.4 1366.2L361.6 1368.9L362.9 1371.7L364.1 1374.4L365.4 1377.1L366.7 1379.8L367.9 1382.5L369.2 1385.2L370.5 1387.9L371.7 1390.7L373 1393.4L374.3 1396.1L375.6 1398.8L376.9 1401.4L378.2 1404.1L379.5 1406.8L380.9 1409.5L382.2 1412.2L383.5 1414.9L384.9 1417.5L386.2 1420.2L387.6 1422.9L389 1425.6L390.3 1428.2L391.7 1430.9L393.1 1433.5L394.4 1436.2L395.8 1438.9L397.2 1441.5L398.6 1444.2L399.9 1446.9L401.3 1449.5L402.7 1452.2L404.1 1454.9L405.4 1457.5L406.8 1460.2L408.2 1462.9L409.5 1465.6L410.9 1468.3L412.3 1470.9L413.6 1473.6L414.9 1476.3L416.3 1479L417.6 1481.7L418.9 1484.4L420.3 1487.1L421.6 1489.8L422.9 1492.5L424.2 1495.2L425.4 1498L426.7 1500.7L428 1503.4L429.3 1506.1L430.6 1508.8L431.9 1511.5L433.2 1514.2L434.5 1516.9L435.8 1519.6L437.1 1522.3L438.4 1525L439.7 1527.7L441 1530.3L442.4 1533L443.7 1535.7L445.1 1538.3L446.5 1541L447.9 1543.6L449.3 1546.3L450.7 1548.9L452.1 1551.6L453.5 1554.2L454.9 1556.8L456.3 1559.5L457.8 1562.1L459.2 1564.7L460.7 1567.3L462.1 1569.9L463.6 1572.6L465.1 1575.2L466.5 1577.8L468 1580.4L469.5 1583L471 1585.6L472.4 1588.2L473.9 1590.8L475.4 1593.4L476.9 1596L478.4 1598.6L480 1601.1L481.5 1603.7L483 1606.3L484.5 1608.9L486 1611.5L487.6 1614L489.1 1616.6L490.7 1619.2L492.2 1621.7L493.8 1624.3L495.3 1626.9L496.9 1629.4L498.4 1632L500 1634.5L501.6 1637.1L503.2 1639.6L504.8 1642.2L506.4 1644.7L508 1647.2L509.6 1649.8L511.2 1652.3L512.8 1654.8L514.4 1657.3L516 1659.8L517.7 1662.3L519.3 1664.9L520.9 1667.4L522.6 1669.9L524.2 1672.3L525.9 1674.8L527.6 1677.3L529.3 1679.8L530.9 1682.3L532.6 1684.8L534.3 1687.2L536 1689.7L537.7 1692.1L539.5 1694.6L541.2 1697L542.9 1699.5L544.7 1701.9L546.4 1704.3L548.2 1706.7L550 1709.1L551.7 1711.6L553.5 1714L555.3 1716.3L557.1 1718.7L559 1721.1L560.8 1723.5L562.6 1725.8L564.5 1728.2L566.3 1730.5L568.2 1732.9L570.1 1735.2L572 1737.5L573.9 1739.8L575.8 1742.1L577.7 1744.4L579.6 1746.7L581.6 1748.9L583.6 1751.2L585.5 1753.4L587.5 1755.7L589.5 1757.9L591.6 1760.1L593.6 1762.3L595.6 1764.4L597.7 1766.6L599.8 1768.8L601.9 1770.9L604 1773L606.1 1775.1L608.3 1777.2L610.4 1779.2L612.6 1781.3L614.8 1783.3L617.1 1785.3L619.3 1787.3L621.6 1789.2L623.8 1791.1L626.1 1793L628.5 1794.9L630.8 1796.8L633.2 1798.6L635.6 1800.4L638 1802.1L640.4 1803.9L642.9 1805.5L645.4 1807.2L647.9 1808.8L650.4 1810.4L653 1811.9L655.6 1813.4L658.2 1814.8L660.8 1816.2L663.5 1817.6L666.2 1818.9L668.9 1820.1L671.6 1821.3L674.4 1822.5L677.2 1823.6L680 1824.6L682.8 1825.6L685.6 1826.5L688.5 1827.3L691.4 1828.1L694.3 1828.9L697.2 1829.5L700.1 1830.1L703.1 1830.7L706 1831.2L709 1831.6L712 1831.9L715 1832.2L717.9 1832.4L720.9 1832.5L723.9 1832.6L726.9 1832.6L728.6 1832.6L731.6 1832.9L734.5 1833.9L737.3 1835.4L739.7 1837.4L742 1839.6L744.1 1841.9L746 1844.4L747.7 1846.9L749.4 1849.5L751 1852.2L752.5 1854.8L753.9 1857.5L755.3 1860.2L756.6 1863L757.9 1865.7L759.2 1868.5L760.4 1871.3L761.6 1874.1L762.8 1876.9L764 1879.7L765.1 1882.5L766.2 1885.3L767.3 1888.1L768.4 1890.9L769.4 1893.7L770.5 1896.6L771.5 1899.4L772.5 1902.2L773.6 1905.1L774.6 1907.9L775.6 1910.8L776.5 1913.6L777.5 1916.5L778.5 1919.3L779.5 1922.1L780.4 1925L781.4 1927.9L782.3 1930.7L783.3 1933.6L784.2 1936.4L785.2 1939.3L786.1 1942.1L787 1945L787.9 1947.9L788.8 1950.7L789.8 1953.6L790.7 1956.5L791.6 1959.3L792.5 1962.2L793.4 1965.1L794.3 1967.9L795.2 1970.8L796 1973.7L796.9 1976.5L797.8 1979.4L798.7 1982.3L799.6 1985.1L800.5 1988L801.3 1990.9L802.2 1993.8L803.1 1996.6L804 1999.5L804.8 2002.4L805.7 2005.3L806.6 2008.1L807.4 2011L808.3 2013.9L809.2 2016.7L810 2019.6L810.9 2022.5L811.8 2025.4L812.6 2028.2L813.5 2031.1L814.4 2034L815.2 2036.9L816.1 2039.7L817 2042.6L817.8 2045.5L818.7 2048.3L819.6 2051.2L820.4 2054.1L821 2056.0" stroke="#7c7c7c" stroke-width="12.4"/><path d="M233 1180L236 1180.1L239 1180.6L241.9 1181.3L244.8 1182.3L247.6 1183.5L250.3 1184.9L252.9 1186.4L255.5 1188.2L257.9 1190L260.2 1192L262.5 1194.1L264.6 1196.2L266.7 1198.4L268.8 1200.7L270.8 1203L272.7 1205.3L274.6 1207.7L276.4 1210.1L278.2 1212.5L280 1215L281.7 1217.5L283.5 1220L285.2 1222.5L286.8 1225L288.5 1227.5L290.1 1230L291.7 1232.6L293.3 1235.2L294.9 1237.7L296.4 1240.3L298 1242.9L299.5 1245.5L301.1 1248L302.6 1250.6L304.1 1253.2L305.6 1255.8L307.1 1258.4L308.6 1261.1L310.1 1263.7L311.6 1266.3L313 1268.9L314.5 1271.6L315.9 1274.2L317.4 1276.8L318.8 1279.5L320.2 1282.1L321.6 1284.8L323 1287.5L324.4 1290.1L325.8 1292.8L327.2 1295.5L328.6 1298.2L329.9 1300.9L331.3 1303.5L332.6 1306.2L333.9 1308.9L335.3 1311.6L336.6 1314.4L337.9 1317.1L339.2 1319.8L340.4 1322.5L341.7 1325.2L343 1328L344.3 1330.7L345.5 1333.4L346.8 1336.1L348 1338.9L349.3 1341.6L350.5 1344.3L351.7 1347.1L353 1349.8L354.2 1352.6L355.4 1355.3L356.7 1358L357.9 1360.7L359.2 1363.5L360.4 1366.2L361.6 1368.9L362.9 1371.7L364.1 1374.4L365.4 1377.1L366.7 1379.8L367.9 1382.5L369.2 1385.2L370.5 1387.9L371.7 1390.7L373 1393.4L374.3 1396.1L375.6 1398.8L376.9 1401.4L378.2 1404.1L379.5 1406.8L380.9 1409.5L382.2 1412.2L383.5 1414.9L384.9 1417.5L386.2 1420.2L387.6 1422.9L389 1425.6L390.3 1428.2L391.7 1430.9L393.1 1433.5L394.4 1436.2L395.8 1438.9L397.2 1441.5L398.6 1444.2L399.9 1446.9L401.3 1449.5L402.7 1452.2L404.1 1454.9L405.4 1457.5L406.8 1460.2L408.2 1462.9L409.5 1465.6L410.9 1468.3L412.3 1470.9L413.6 1473.6L414.9 1476.3L416.3 1479L417.6 1481.7L418.9 1484.4L420.3 1487.1L421.6 1489.8L422.9 1492.5L424.2 1495.2L425.4 1498L426.7 1500.7L428 1503.4L429.3 1506.1L430.6 1508.8L431.9 1511.5L433.2 1514.2L434.5 1516.9L435.8 1519.6L437.1 1522.3L438.4 1525L439.7 1527.7L441 1530.3L442.4 1533L443.7 1535.7L445.1 1538.3L446.5 1541L447.9 1543.6L449.3 1546.3L450.7 1548.9L452.1 1551.6L453.5 1554.2L454.9 1556.8L456.3 1559.5L457.8 1562.1L459.2 1564.7L460.7 1567.3L462.1 1569.9L463.6 1572.6L465.1 1575.2L466.5 1577.8L468 1580.4L469.5 1583L471 1585.6L472.4 1588.2L473.9 1590.8L475.4 1593.4L476.9 1596L478.4 1598.6L480 1601.1L481.5 1603.7L483 1606.3L484.5 1608.9L486 1611.5L487.6 1614L489.1 1616.6L490.7 1619.2L492.2 1621.7L493.8 1624.3L495.3 1626.9L496.9 1629.4L498.4 1632L500 1634.5L501.6 1637.1L503.2 1639.6L504.8 1642.2L506.4 1644.7L508 1647.2L509.6 1649.8L511.2 1652.3L512.8 1654.8L514.4 1657.3L516 1659.8L517.7 1662.3L519.3 1664.9L520.9 1667.4L522.6 1669.9L524.2 1672.3L525.9 1674.8L527.6 1677.3L529.3 1679.8L530.9 1682.3L532.6 1684.8L534.3 1687.2L536 1689.7L537.7 1692.1L539.5 1694.6L541.2 1697L542.9 1699.5L544.7 1701.9L546.4 1704.3L548.2 1706.7L550 1709.1L551.7 1711.6L553.5 1714L555.3 1716.3L557.1 1718.7L559 1721.1L560.8 1723.5L562.6 1725.8L564.5 1728.2L566.3 1730.5L568.2 1732.9L570.1 1735.2L572 1737.5L573.9 1739.8L575.8 1742.1L577.7 1744.4L579.6 1746.7L581.6 1748.9L583.6 1751.2L585.5 1753.4L587.5 1755.7L589.5 1757.9L591.6 1760.1L593.6 1762.3L595.6 1764.4L597.7 1766.6L599.8 1768.8L601.9 1770.9L604 1773L606.1 1775.1L608.3 1777.2L610.4 1779.2L612.6 1781.3L614.8 1783.3L617.1 1785.3L619.3 1787.3L621.6 1789.2L623.8 1791.1L626.1 1793L628.5 1794.9L630.8 1796.8L633.2 1798.6L635.6 1800.4L638 1802.1L640.4 1803.9L642.9 1805.5L645.4 1807.2L647.9 1808.8L650.4 1810.4L653 1811.9L655.6 1813.4L658.2 1814.8L660.8 1816.2L663.5 1817.6L666.2 1818.9L668.9 1820.1L671.6 1821.3L674.4 1822.5L677.2 1823.6L680 1824.6L682.8 1825.6L685.6 1826.5L688.5 1827.3L691.4 1828.1L694.3 1828.9L697.2 1829.5L700.1 1830.1L703.1 1830.7L706 1831.2L709 1831.6L712 1831.9L715 1832.2L717.9 1832.4L720.9 1832.5L723.9 1832.6L726.9 1832.6L728.6 1832.6L731.6 1832.9L734.5 1833.9L737.3 1835.4L739.7 1837.4L742 1839.6L744.1 1841.9L746 1844.4L747.7 1846.9L749.4 1849.5L751 1852.2L752.5 1854.8L753.9 1857.5L755.3 1860.2L756.6 1863L757.9 1865.7L759.2 1868.5L760.4 1871.3L761.6 1874.1L762.8 1876.9L764 1879.7L765.1 1882.5L766.2 1885.3L767.3 1888.1L768.4 1890.9L769.4 1893.7L770.5 1896.6L771.5 1899.4L772.5 1902.2L773.6 1905.1L774.6 1907.9L775.6 1910.8L776.5 1913.6L777.5 1916.5L778.5 1919.3L779.5 1922.1L780.4 1925L781.4 1927.9L782.3 1930.7L783.3 1933.6L784.2 1936.4L785.2 1939.3L786.1 1942.1L787 1945L787.9 1947.9L788.8 1950.7L789.8 1953.6L790.7 1956.5L791.6 1959.3L792.5 1962.2L793.4 1965.1L794.3 1967.9L795.2 1970.8L796 1973.7L796.9 1976.5L797.8 1979.4L798.7 1982.3L799.6 1985.1L800.5 1988L801.3 1990.9L802.2 1993.8L803.1 1996.6L804 1999.5L804.8 2002.4L805.7 2005.3L806.6 2008.1L807.4 2011L808.3 2013.9L809.2 2016.7L810 2019.6L810.9 2022.5L811.8 2025.4L812.6 2028.2L813.5 2031.1L814.4 2034L815.2 2036.9L816.1 2039.7L817 2042.6L817.8 2045.5L818.7 2048.3L819.6 2051.2L820.4 2054.1L821 2056.0" stroke="url(#gD)" stroke-width="10"/><path d="M233 967L236 967.2L239 967.9L241.8 969L244.5 970.5L247.1 972.2L249.5 974.2L251.7 976.3L253.9 978.6L255.8 980.9L257.7 983.4L259.5 985.9L261.2 988.5L262.7 991.1L264.3 993.8L265.7 996.5L267.1 999.3L268.4 1002L269.7 1004.8L270.9 1007.6L272.1 1010.4L273.2 1013.2L274.3 1016.1L275.4 1018.9L276.5 1021.7L277.5 1024.6L278.5 1027.4L279.5 1030.3L280.5 1033.1L281.5 1036L282.5 1038.8L283.4 1041.7L284.4 1044.5L285.3 1047.4L286.3 1050.3L287.2 1053.1L288.1 1056L289.1 1058.8L290 1061.7L290.9 1064.5L291.8 1067.4L292.7 1070.3L293.7 1073.1L294.6 1076L295.5 1078.9L296.4 1081.7L297.3 1084.6L298.2 1087.5L299.1 1090.3L300 1093.2L300.8 1096.1L301.7 1099L302.5 1101.9L303.4 1104.8L304.2 1107.7L305.1 1110.6L305.9 1113.5L306.7 1116.4L307.5 1119.3L308.3 1122.2L309.1 1125.1L309.9 1128L310.6 1130.9L311.4 1133.8L312.2 1136.8L312.9 1139.7L313.7 1142.6L314.4 1145.5L315.2 1148.4L315.9 1151.3L316.7 1154.2L317.4 1157.1L318.2 1160L318.9 1162.9L319.7 1165.8L320.4 1168.7L321.2 1171.7L321.9 1174.6L322.6 1177.5L323.4 1180.4L324.1 1183.3L324.9 1186.2L325.6 1189.1L326.3 1192L327.1 1194.9L327.8 1197.8L328.5 1200.7L329.3 1203.6L330 1206.6L330.8 1209.5L331.5 1212.4L332.2 1215.3L333 1218.2L333.7 1221.1L334.4 1224L335.2 1226.9L335.9 1229.8L336.6 1232.7L337.4 1235.7L338.1 1238.6L338.8 1241.5L339.6 1244.4L340.3 1247.3L341 1250.2L341.8 1253.1L342.5 1256L343.2 1258.9L343.9 1261.8L344.7 1264.8L345.4 1267.7L346.1 1270.6L346.9 1273.5L347.6 1276.4L348.3 1279.3L349.1 1282.2L349.8 1285.1L350.5 1288L351.2 1290.9L352 1293.9L352.7 1296.8L353.4 1299.7L354.2 1302.6L354.9 1305.5L355.6 1308.4L356.3 1311.3L357.1 1314.2L357.8 1317.1L358.5 1320L359.3 1323L360 1325.9L360.7 1328.8L361.4 1331.7L362.2 1334.6L362.9 1337.5L363.7 1340.4L364.4 1343.3L365.2 1346.2L365.9 1349L366.7 1351.9L367.5 1354.8L368.3 1357.7L369 1360.6L369.9 1363.4L370.7 1366.3L371.5 1369.1L372.4 1372L373.2 1374.8L374.1 1377.6L375 1380.4L376 1383.2L376.9 1386.1L377.9 1388.9L378.9 1391.7L379.9 1394.5L380.9 1397.4L381.9 1400.3L382.8 1403.2L383.7 1406.1L384.6 1409.1L385.4 1412L386.2 1415L387 1417.9L387.7 1420.9L388.4 1423.9L389.1 1426.8L389.8 1429.7L390.5 1432.7L391.1 1435.6L391.8 1438.5L392.5 1441.4L393.2 1444.3L393.9 1447.1L394.7 1450L395.4 1452.8L396.2 1455.7L397 1458.5L397.8 1461.4L398.7 1464.2L399.6 1467L400.5 1469.8L401.4 1472.6L402.4 1475.4L403.4 1478.2L404.4 1481L405.4 1483.8L406.5 1486.5L407.6 1489.2L408.8 1492L410 1494.7L411.2 1497.4L412.5 1500L413.8 1502.7L415.1 1505.3L416.6 1507.8L418 1510.4L419.6 1512.9L421.2 1515.4L422.8 1517.8L424.6 1520.1L426.4 1522.3L428.4 1524.5L430.5 1526.6L432.7 1528.5L435 1530.2L437.5 1531.7L440 1533L442.9 1533.5L445.9 1533.8L448.9 1533.9L451.9 1533.8L454.9 1533.4L457.9 1532.9L460.8 1532.2L463.7 1531.4L466.6 1530.4L469.4 1529.4L472.2 1528.2L474.9 1526.9L477.6 1525.5L480.3 1524.1L482.9 1522.6L485.5 1521L488 1519.4L490.5 1517.8L493.1 1516.1L495.5 1514.4L498 1512.7L500.4 1510.9L502.9 1509.1L505.3 1507.4L507.7 1505.6L510.1 1503.8L512.5 1502L514.9 1500.2L517.3 1498.4L519.7 1496.6L522.2 1494.9L524.6 1493.1L527 1491.4L529.5 1489.6L531.9 1487.9L534.4 1486.3L536.9 1484.7L539.4 1483.1L542 1481.5L544.6 1480.1L547.2 1478.6L549.9 1477.3L552.5 1476L555.3 1474.8L558.1 1473.7L560.9 1472.8L563.7 1471.9L566.6 1471.2L569.6 1470.7L572.5 1470.3L575.5 1470.1L578.5 1470.1L581.5 1470.4L584.5 1470.8L587.4 1471.5L590.3 1472.4L593.2 1473.4L596 1474.6L598.7 1475.9L601.4 1477.4L604 1478.9L606.5 1480.6L609 1482.3L611.4 1484.2L613.8 1486L616.1 1488L618.4 1490L620.6 1492.1L622.8 1494.2L624.9 1496.3L627 1498.5L629.1 1500.7L631.1 1502.9L633.1 1505.2L635.1 1507.4L637.1 1509.7L639 1512L641 1514.3L642.9 1516.6L644.8 1519L646.7 1521.3L648.6 1523.6L650.5 1525.9L652.4 1528.3L654.3 1530.6L656.2 1532.9L658.1 1535.2L660 1537.5L661.9 1539.8L663.8 1542.1L665.8 1544.4L667.7 1546.7L669.7 1548.9L671.7 1551.2L673.7 1553.4L675.7 1555.5L677.8 1557.7L679.8 1559.8L682 1561.9L684.1 1564L686.3 1566L688.5 1567.9L690.8 1569.9L693.1 1571.7L695.5 1573.5L697.9 1575.3L700.3 1576.9L702.8 1578.5L705.4 1580L708.1 1581.3L710.8 1582.6L713.5 1583.6L716.3 1584.6L719.2 1585.3L722.1 1585.9L725.1 1586.2L728.1 1586.4L728.6 1586.4L731.6 1586L734.6 1585.6L737.5 1584.9L740.4 1584.2L743.3 1583.3L746.2 1582.3L749 1581.3L751.8 1580.2L754.6 1579.1L757.4 1577.9L760.1 1576.6L762.8 1575.4L765.6 1574.2L768.3 1572.9L771 1571.6L773.7 1570.3L776.4 1569L779.1 1567.6L781.8 1566.3L784.5 1564.9L787.1 1563.5L789.8 1562.1L792.4 1560.7L795.1 1559.3L797.7 1557.8L800.3 1556.4L803 1554.9L805.6 1553.5L808.2 1552L810.8 1550.5L813.4 1549L816 1547.5L818.6 1546L821.2 1544.5L823.8 1543L826.4 1541.4L829 1539.9L831.5 1538.3L834.1 1536.8L836.7 1535.2L839.2 1533.7L841.8 1532.1L844.3 1530.5L846.9 1528.9L849.4 1527.4L852 1525.8L854.5 1524.2L857.1 1522.6L859.6 1521L862.2 1519.4L864.7 1517.8L867.3 1516.3L869.8 1514.7L872.4 1513.1L874.9 1511.6L877.5 1510L880.1 1508.5L882.7 1507L885.2 1505.4L887.8 1503.9L890.4 1502.5L893 1501L895.7 1499.6L898.3 1498.1L901 1496.7L903.6 1495.4L906.3 1494L909 1492.7L911.7 1491.4L914.4 1490.2L917.1 1489L919.9 1487.8L922.7 1486.7L925.4 1485.6L928.3 1484.6L931.1 1483.6L933.9 1482.7L936.8 1481.9L939.7 1481.1L942.6 1480.3L945.5 1479.7L948.4 1479.1L951.4 1478.7L954.4 1478.3L957.4 1478.1L960.4 1478L963.4 1478L966.3 1478.2L969.3 1478.6L972.3 1479.1L975.2 1479.8L978.2 1480.6L981 1481.6L983.8 1482.8L986.6 1484.1L989.2 1485.5L991.9 1487L994.4 1488.6L996.9 1490.3L999.4 1492.1L1001.8 1493.9L1004.2 1495.8L1006.5 1497.8L1008.8 1499.8L1011 1501.8L1013.2 1503.9L1014.4 1505L1016.4 1502.8L1018.5 1500.6L1020.5 1498.3L1022.5 1496.1L1024.5 1493.8L1026.5 1491.6L1028.5 1489.3L1030.4 1487.1L1032.4 1484.8L1034.4 1482.5L1036.3 1480.2L1038.3 1478L1040.2 1475.7L1042.2 1473.4L1044.1 1471.1L1046 1468.8L1048 1466.5L1049.9 1464.2L1051.8 1461.9L1053.7 1459.6L1055.6 1457.3L1057.6 1454.9L1059.5 1452.6L1061.4 1450.3L1063.3 1448L1065.2 1445.7L1067.1 1443.4L1069 1441.1L1070.9 1438.8L1072.9 1436.5L1074.8 1434.2L1076.7 1431.8L1078.6 1429.5L1080.5 1427.2L1082.5 1424.9L1084.4 1422.6L1086.3 1420.3L1088.2 1418.1L1090.2 1415.8L1092.1 1413.5L1094.1 1411.2L1096 1408.9L1098 1406.7L1099.9 1404.4L1101.9 1402.1L1103.9 1399.9L1105.8 1397.6L1107.8 1395.4L1109.8 1393.2L1111.8 1390.9L1113.8 1388.7L1115.9 1386.5L1117.9 1384.3L1119.9 1382.1L1122 1380L1124.1 1377.8L1126.1 1375.7L1128.2 1373.5L1130.3 1371.4L1132.5 1369.3L1134.6 1367.2L1136.7 1365.1L1138.9 1363L1141.1 1361L1143.3 1359L1145.5 1357L1147.7 1355L1150 1353L1152.2 1351.1L1154.5 1349.2L1156.8 1347.3L1159.2 1345.4L1161.5 1343.6L1163.9 1341.8L1166.3 1340.1L1168.8 1338.3L1171.3 1336.7L1173.8 1335L1176.3 1333.5L1178.8 1331.9L1181.4 1330.5L1184.1 1329L1186.7 1327.7L1189.4 1326.4L1192.1 1325.2L1194.9 1324L1197.7 1323L1200.5 1322L1203.3 1321L1206.2 1320.2L1209.1 1319.4L1212 1318.7L1214.9 1318L1217.8 1317.4L1220.8 1316.8L1223.7 1316.3L1226.7 1315.9L1229.6 1315.4L1232.6 1315L1235.6 1314.7L1238.6 1314.3L1241.5 1314L1244.5 1313.7L1247.5 1313.4L1250.5 1313.1L1253.5 1312.8L1256.5 1312.4L1259.4 1312.1L1262.4 1311.8L1265.4 1311.4L1268.4 1311L1271.4 1310.5L1274.3 1310L1277.3 1309.5L1280.2 1308.9L1283.2 1308.3L1286.1 1307.6L1289 1306.9L1291.9 1306L1294.8 1305.2L1297.6 1304.2L1300.5 1303.2L1303.3 1302.2L1306.1 1301L1308.9 1299.8L1311.6 1298.6L1314.3 1297.2L1317 1295.8L1319.6 1294.4L1322.2 1292.9L1324.8 1291.3L1327.3 1289.7L1329.9 1288L1332.3 1286.2L1334.7 1284.4L1337.1 1282.6L1339.5 1280.7L1341.8 1278.7L1344.1 1276.7L1346.3 1274.7L1348.5 1272.6L1350.7 1270.5L1352.8 1268.4L1354.9 1266.2L1357 1264L1359 1261.7L1361 1259.5L1363 1257.2L1364.9 1254.9L1366.9 1252.5L1368.8 1250.2L1370.6 1247.9L1372.5 1245.5L1374.4 1243.1L1376.2 1240.8L1378 1238.4L1379.9 1236L1381.7 1233.6L1383.5 1231.2L1385.3 1228.7L1387.1 1226.3L1388.8 1223.9L1390.6 1221.5L1392.4 1219.1L1394.2 1216.6L1395.9 1214.2L1397.7 1211.8L1399.5 1209.4L1401.2 1207L1403 1204.5L1404.8 1202.1L1406.6 1199.7L1408.4 1197.3L1410.2 1194.9L1412 1192.5L1413.8 1190.1L1415.6 1187.7L1417.4 1185.3L1419.2 1183L1421 1180.6L1422.8 1178.2L1424.6 1175.8L1426.4 1173.4L1428.3 1171L1430.1 1168.7L1431.9 1166.3L1433.8 1163.9L1435.6 1161.5L1437.4 1159.2L1439.3 1156.8L1441.1 1154.4L1442.9 1152L1444.8 1149.7L1446.6 1147.3L1448.4 1144.9L1450.3 1142.6L1452.1 1140.2L1454 1137.8L1455.8 1135.4L1457.6 1133.1L1459.4 1130.7L1461.3 1128.3L1463.1 1125.9L1464.9 1123.5L1466.7 1121.1L1468.5 1118.7L1470.3 1116.3L1472.1 1113.9L1473.9 1111.5L1475.7 1109.1L1477.5 1106.7L1479.3 1104.2L1481 1101.8L1482.8 1099.3L1484.5 1096.9L1486.3 1094.4L1488 1092L1489.7 1089.5L1491.4 1087L1493.1 1084.5L1494.8 1082.1L1496.5 1079.6L1498.1 1077L1499.8 1074.5L1501.4 1072L1503.1 1069.5L1504.7 1067L1506.3 1064.4L1507.9 1061.9L1509.5 1059.3L1511.1 1056.7L1512.7 1054.2L1514.2 1051.6L1515.8 1049L1517.3 1046.4L1518.8 1043.8L1520.3 1041.2L1521.9 1038.7L1523.4 1036.1L1524.9 1033.5L1526.4 1030.9L1527.9 1028.3L1529.4 1025.7L1531 1023.1L1532.5 1020.6L1534 1018L1535.6 1015.5L1537.2 1012.9L1538.7 1010.4L1540.3 1007.9L1541.9 1005.4L1543.6 1002.9L1545.2 1000.4L1546.9 997.9L1548.6 995.5L1550.4 993.1L1552.2 990.8L1554 988.4L1555.9 986.2L1557.8 983.9L1559.8 981.8L1561.9 979.7L1564 977.6L1566.3 975.7L1568.6 973.9L1571 972.2L1573.5 970.7L1576.1 969.4L1578.9 968.3L1581.7 967.5L1584.6 967.1L1586 967.0" stroke="#7c7c7c" stroke-width="12.4"/><path d="M233 967L236 967.2L239 967.9L241.8 969L244.5 970.5L247.1 972.2L249.5 974.2L251.7 976.3L253.9 978.6L255.8 980.9L257.7 983.4L259.5 985.9L261.2 988.5L262.7 991.1L264.3 993.8L265.7 996.5L267.1 999.3L268.4 1002L269.7 1004.8L270.9 1007.6L272.1 1010.4L273.2 1013.2L274.3 1016.1L275.4 1018.9L276.5 1021.7L277.5 1024.6L278.5 1027.4L279.5 1030.3L280.5 1033.1L281.5 1036L282.5 1038.8L283.4 1041.7L284.4 1044.5L285.3 1047.4L286.3 1050.3L287.2 1053.1L288.1 1056L289.1 1058.8L290 1061.7L290.9 1064.5L291.8 1067.4L292.7 1070.3L293.7 1073.1L294.6 1076L295.5 1078.9L296.4 1081.7L297.3 1084.6L298.2 1087.5L299.1 1090.3L300 1093.2L300.8 1096.1L301.7 1099L302.5 1101.9L303.4 1104.8L304.2 1107.7L305.1 1110.6L305.9 1113.5L306.7 1116.4L307.5 1119.3L308.3 1122.2L309.1 1125.1L309.9 1128L310.6 1130.9L311.4 1133.8L312.2 1136.8L312.9 1139.7L313.7 1142.6L314.4 1145.5L315.2 1148.4L315.9 1151.3L316.7 1154.2L317.4 1157.1L318.2 1160L318.9 1162.9L319.7 1165.8L320.4 1168.7L321.2 1171.7L321.9 1174.6L322.6 1177.5L323.4 1180.4L324.1 1183.3L324.9 1186.2L325.6 1189.1L326.3 1192L327.1 1194.9L327.8 1197.8L328.5 1200.7L329.3 1203.6L330 1206.6L330.8 1209.5L331.5 1212.4L332.2 1215.3L333 1218.2L333.7 1221.1L334.4 1224L335.2 1226.9L335.9 1229.8L336.6 1232.7L337.4 1235.7L338.1 1238.6L338.8 1241.5L339.6 1244.4L340.3 1247.3L341 1250.2L341.8 1253.1L342.5 1256L343.2 1258.9L343.9 1261.8L344.7 1264.8L345.4 1267.7L346.1 1270.6L346.9 1273.5L347.6 1276.4L348.3 1279.3L349.1 1282.2L349.8 1285.1L350.5 1288L351.2 1290.9L352 1293.9L352.7 1296.8L353.4 1299.7L354.2 1302.6L354.9 1305.5L355.6 1308.4L356.3 1311.3L357.1 1314.2L357.8 1317.1L358.5 1320L359.3 1323L360 1325.9L360.7 1328.8L361.4 1331.7L362.2 1334.6L362.9 1337.5L363.7 1340.4L364.4 1343.3L365.2 1346.2L365.9 1349L366.7 1351.9L367.5 1354.8L368.3 1357.7L369 1360.6L369.9 1363.4L370.7 1366.3L371.5 1369.1L372.4 1372L373.2 1374.8L374.1 1377.6L375 1380.4L376 1383.2L376.9 1386.1L377.9 1388.9L378.9 1391.7L379.9 1394.5L380.9 1397.4L381.9 1400.3L382.8 1403.2L383.7 1406.1L384.6 1409.1L385.4 1412L386.2 1415L387 1417.9L387.7 1420.9L388.4 1423.9L389.1 1426.8L389.8 1429.7L390.5 1432.7L391.1 1435.6L391.8 1438.5L392.5 1441.4L393.2 1444.3L393.9 1447.1L394.7 1450L395.4 1452.8L396.2 1455.7L397 1458.5L397.8 1461.4L398.7 1464.2L399.6 1467L400.5 1469.8L401.4 1472.6L402.4 1475.4L403.4 1478.2L404.4 1481L405.4 1483.8L406.5 1486.5L407.6 1489.2L408.8 1492L410 1494.7L411.2 1497.4L412.5 1500L413.8 1502.7L415.1 1505.3L416.6 1507.8L418 1510.4L419.6 1512.9L421.2 1515.4L422.8 1517.8L424.6 1520.1L426.4 1522.3L428.4 1524.5L430.5 1526.6L432.7 1528.5L435 1530.2L437.5 1531.7L440 1533L442.9 1533.5L445.9 1533.8L448.9 1533.9L451.9 1533.8L454.9 1533.4L457.9 1532.9L460.8 1532.2L463.7 1531.4L466.6 1530.4L469.4 1529.4L472.2 1528.2L474.9 1526.9L477.6 1525.5L480.3 1524.1L482.9 1522.6L485.5 1521L488 1519.4L490.5 1517.8L493.1 1516.1L495.5 1514.4L498 1512.7L500.4 1510.9L502.9 1509.1L505.3 1507.4L507.7 1505.6L510.1 1503.8L512.5 1502L514.9 1500.2L517.3 1498.4L519.7 1496.6L522.2 1494.9L524.6 1493.1L527 1491.4L529.5 1489.6L531.9 1487.9L534.4 1486.3L536.9 1484.7L539.4 1483.1L542 1481.5L544.6 1480.1L547.2 1478.6L549.9 1477.3L552.5 1476L555.3 1474.8L558.1 1473.7L560.9 1472.8L563.7 1471.9L566.6 1471.2L569.6 1470.7L572.5 1470.3L575.5 1470.1L578.5 1470.1L581.5 1470.4L584.5 1470.8L587.4 1471.5L590.3 1472.4L593.2 1473.4L596 1474.6L598.7 1475.9L601.4 1477.4L604 1478.9L606.5 1480.6L609 1482.3L611.4 1484.2L613.8 1486L616.1 1488L618.4 1490L620.6 1492.1L622.8 1494.2L624.9 1496.3L627 1498.5L629.1 1500.7L631.1 1502.9L633.1 1505.2L635.1 1507.4L637.1 1509.7L639 1512L641 1514.3L642.9 1516.6L644.8 1519L646.7 1521.3L648.6 1523.6L650.5 1525.9L652.4 1528.3L654.3 1530.6L656.2 1532.9L658.1 1535.2L660 1537.5L661.9 1539.8L663.8 1542.1L665.8 1544.4L667.7 1546.7L669.7 1548.9L671.7 1551.2L673.7 1553.4L675.7 1555.5L677.8 1557.7L679.8 1559.8L682 1561.9L684.1 1564L686.3 1566L688.5 1567.9L690.8 1569.9L693.1 1571.7L695.5 1573.5L697.9 1575.3L700.3 1576.9L702.8 1578.5L705.4 1580L708.1 1581.3L710.8 1582.6L713.5 1583.6L716.3 1584.6L719.2 1585.3L722.1 1585.9L725.1 1586.2L728.1 1586.4L728.6 1586.4L731.6 1586L734.6 1585.6L737.5 1584.9L740.4 1584.2L743.3 1583.3L746.2 1582.3L749 1581.3L751.8 1580.2L754.6 1579.1L757.4 1577.9L760.1 1576.6L762.8 1575.4L765.6 1574.2L768.3 1572.9L771 1571.6L773.7 1570.3L776.4 1569L779.1 1567.6L781.8 1566.3L784.5 1564.9L787.1 1563.5L789.8 1562.1L792.4 1560.7L795.1 1559.3L797.7 1557.8L800.3 1556.4L803 1554.9L805.6 1553.5L808.2 1552L810.8 1550.5L813.4 1549L816 1547.5L818.6 1546L821.2 1544.5L823.8 1543L826.4 1541.4L829 1539.9L831.5 1538.3L834.1 1536.8L836.7 1535.2L839.2 1533.7L841.8 1532.1L844.3 1530.5L846.9 1528.9L849.4 1527.4L852 1525.8L854.5 1524.2L857.1 1522.6L859.6 1521L862.2 1519.4L864.7 1517.8L867.3 1516.3L869.8 1514.7L872.4 1513.1L874.9 1511.6L877.5 1510L880.1 1508.5L882.7 1507L885.2 1505.4L887.8 1503.9L890.4 1502.5L893 1501L895.7 1499.6L898.3 1498.1L901 1496.7L903.6 1495.4L906.3 1494L909 1492.7L911.7 1491.4L914.4 1490.2L917.1 1489L919.9 1487.8L922.7 1486.7L925.4 1485.6L928.3 1484.6L931.1 1483.6L933.9 1482.7L936.8 1481.9L939.7 1481.1L942.6 1480.3L945.5 1479.7L948.4 1479.1L951.4 1478.7L954.4 1478.3L957.4 1478.1L960.4 1478L963.4 1478L966.3 1478.2L969.3 1478.6L972.3 1479.1L975.2 1479.8L978.2 1480.6L981 1481.6L983.8 1482.8L986.6 1484.1L989.2 1485.5L991.9 1487L994.4 1488.6L996.9 1490.3L999.4 1492.1L1001.8 1493.9L1004.2 1495.8L1006.5 1497.8L1008.8 1499.8L1011 1501.8L1013.2 1503.9L1014.4 1505L1016.4 1502.8L1018.5 1500.6L1020.5 1498.3L1022.5 1496.1L1024.5 1493.8L1026.5 1491.6L1028.5 1489.3L1030.4 1487.1L1032.4 1484.8L1034.4 1482.5L1036.3 1480.2L1038.3 1478L1040.2 1475.7L1042.2 1473.4L1044.1 1471.1L1046 1468.8L1048 1466.5L1049.9 1464.2L1051.8 1461.9L1053.7 1459.6L1055.6 1457.3L1057.6 1454.9L1059.5 1452.6L1061.4 1450.3L1063.3 1448L1065.2 1445.7L1067.1 1443.4L1069 1441.1L1070.9 1438.8L1072.9 1436.5L1074.8 1434.2L1076.7 1431.8L1078.6 1429.5L1080.5 1427.2L1082.5 1424.9L1084.4 1422.6L1086.3 1420.3L1088.2 1418.1L1090.2 1415.8L1092.1 1413.5L1094.1 1411.2L1096 1408.9L1098 1406.7L1099.9 1404.4L1101.9 1402.1L1103.9 1399.9L1105.8 1397.6L1107.8 1395.4L1109.8 1393.2L1111.8 1390.9L1113.8 1388.7L1115.9 1386.5L1117.9 1384.3L1119.9 1382.1L1122 1380L1124.1 1377.8L1126.1 1375.7L1128.2 1373.5L1130.3 1371.4L1132.5 1369.3L1134.6 1367.2L1136.7 1365.1L1138.9 1363L1141.1 1361L1143.3 1359L1145.5 1357L1147.7 1355L1150 1353L1152.2 1351.1L1154.5 1349.2L1156.8 1347.3L1159.2 1345.4L1161.5 1343.6L1163.9 1341.8L1166.3 1340.1L1168.8 1338.3L1171.3 1336.7L1173.8 1335L1176.3 1333.5L1178.8 1331.9L1181.4 1330.5L1184.1 1329L1186.7 1327.7L1189.4 1326.4L1192.1 1325.2L1194.9 1324L1197.7 1323L1200.5 1322L1203.3 1321L1206.2 1320.2L1209.1 1319.4L1212 1318.7L1214.9 1318L1217.8 1317.4L1220.8 1316.8L1223.7 1316.3L1226.7 1315.9L1229.6 1315.4L1232.6 1315L1235.6 1314.7L1238.6 1314.3L1241.5 1314L1244.5 1313.7L1247.5 1313.4L1250.5 1313.1L1253.5 1312.8L1256.5 1312.4L1259.4 1312.1L1262.4 1311.8L1265.4 1311.4L1268.4 1311L1271.4 1310.5L1274.3 1310L1277.3 1309.5L1280.2 1308.9L1283.2 1308.3L1286.1 1307.6L1289 1306.9L1291.9 1306L1294.8 1305.2L1297.6 1304.2L1300.5 1303.2L1303.3 1302.2L1306.1 1301L1308.9 1299.8L1311.6 1298.6L1314.3 1297.2L1317 1295.8L1319.6 1294.4L1322.2 1292.9L1324.8 1291.3L1327.3 1289.7L1329.9 1288L1332.3 1286.2L1334.7 1284.4L1337.1 1282.6L1339.5 1280.7L1341.8 1278.7L1344.1 1276.7L1346.3 1274.7L1348.5 1272.6L1350.7 1270.5L1352.8 1268.4L1354.9 1266.2L1357 1264L1359 1261.7L1361 1259.5L1363 1257.2L1364.9 1254.9L1366.9 1252.5L1368.8 1250.2L1370.6 1247.9L1372.5 1245.5L1374.4 1243.1L1376.2 1240.8L1378 1238.4L1379.9 1236L1381.7 1233.6L1383.5 1231.2L1385.3 1228.7L1387.1 1226.3L1388.8 1223.9L1390.6 1221.5L1392.4 1219.1L1394.2 1216.6L1395.9 1214.2L1397.7 1211.8L1399.5 1209.4L1401.2 1207L1403 1204.5L1404.8 1202.1L1406.6 1199.7L1408.4 1197.3L1410.2 1194.9L1412 1192.5L1413.8 1190.1L1415.6 1187.7L1417.4 1185.3L1419.2 1183L1421 1180.6L1422.8 1178.2L1424.6 1175.8L1426.4 1173.4L1428.3 1171L1430.1 1168.7L1431.9 1166.3L1433.8 1163.9L1435.6 1161.5L1437.4 1159.2L1439.3 1156.8L1441.1 1154.4L1442.9 1152L1444.8 1149.7L1446.6 1147.3L1448.4 1144.9L1450.3 1142.6L1452.1 1140.2L1454 1137.8L1455.8 1135.4L1457.6 1133.1L1459.4 1130.7L1461.3 1128.3L1463.1 1125.9L1464.9 1123.5L1466.7 1121.1L1468.5 1118.7L1470.3 1116.3L1472.1 1113.9L1473.9 1111.5L1475.7 1109.1L1477.5 1106.7L1479.3 1104.2L1481 1101.8L1482.8 1099.3L1484.5 1096.9L1486.3 1094.4L1488 1092L1489.7 1089.5L1491.4 1087L1493.1 1084.5L1494.8 1082.1L1496.5 1079.6L1498.1 1077L1499.8 1074.5L1501.4 1072L1503.1 1069.5L1504.7 1067L1506.3 1064.4L1507.9 1061.9L1509.5 1059.3L1511.1 1056.7L1512.7 1054.2L1514.2 1051.6L1515.8 1049L1517.3 1046.4L1518.8 1043.8L1520.3 1041.2L1521.9 1038.7L1523.4 1036.1L1524.9 1033.5L1526.4 1030.9L1527.9 1028.3L1529.4 1025.7L1531 1023.1L1532.5 1020.6L1534 1018L1535.6 1015.5L1537.2 1012.9L1538.7 1010.4L1540.3 1007.9L1541.9 1005.4L1543.6 1002.9L1545.2 1000.4L1546.9 997.9L1548.6 995.5L1550.4 993.1L1552.2 990.8L1554 988.4L1555.9 986.2L1557.8 983.9L1559.8 981.8L1561.9 979.7L1564 977.6L1566.3 975.7L1568.6 973.9L1571 972.2L1573.5 970.7L1576.1 969.4L1578.9 968.3L1581.7 967.5L1584.6 967.1L1586 967.0" stroke="url(#gC)" stroke-width="10"/><path d="M233 967L236 966.8L239 966.5L242 966L244.9 965.5L247.9 964.8L250.8 964.1L253.7 963.3L256.6 962.4L259.4 961.5L262.3 960.5L265.1 959.5L267.9 958.5L270.7 957.4L273.6 956.4L276.4 955.3L279.2 954.3L282 953.3L284.8 952.3L287.7 951.3L290.5 950.4L293.4 949.5L296.2 948.6L299.1 947.8L302 947L304.9 946.3L307.8 945.6L310.7 945L313.7 944.4L316.6 943.9L319.6 943.5L322.6 943.1L325.5 942.8L328.5 942.6L331.5 942.5L334.5 942.5L337.5 942.6L340.5 942.7L343.5 943L346.5 943.4L349.5 943.8L352.4 944.4L355.4 945.1L358.3 945.9L361.2 946.8L364 947.7L366.8 948.8L369.6 949.9L372.4 951L375.2 952.3L377.9 953.6L380.6 954.9L383.3 956.3L385.9 957.8L388.5 959.2L391.1 960.8L393.7 962.3L396.3 963.9L398.8 965.5L401.3 967.2L403.8 968.8L406.3 970.5L408.8 972.3L411.2 974L413.7 975.7L416.1 977.5L418.5 979.3L420.9 981.1L423.3 982.9L425.7 984.7L428.1 986.6L430.5 988.4L432.9 990.3L435.2 992.1L437.6 994L439.9 995.8L442.3 997.7L444.6 999.6L446.9 1001.5L449.3 1003.4L451.6 1005.3L453.9 1007.2L456.2 1009.1L458.5 1011L460.8 1013L463.1 1014.9L465.4 1016.9L467.7 1018.8L470 1020.8L472.2 1022.7L474.5 1024.7L476.8 1026.7L479 1028.7L481.3 1030.7L483.5 1032.7L485.8 1034.7L488 1036.7L490.2 1038.7L492.4 1040.7L494.6 1042.8L496.8 1044.8L499.1 1046.8L501.2 1048.9L503.4 1050.9L505.6 1053L507.8 1055.1L510 1057.1L512.1 1059.2L514.3 1061.3L516.5 1063.4L518.6 1065.5L520.8 1067.6L522.9 1069.7L525.1 1071.8L527.2 1073.9L529.4 1076L531.5 1078.1L533.6 1080.2L535.8 1082.3L537.9 1084.4L540.1 1086.4L542.2 1088.5L544.4 1090.6L546.6 1092.7L548.7 1094.8L550.9 1096.8L553.1 1098.9L555.2 1101L557.4 1103L559.6 1105L561.8 1107.1L564 1109.1L566.3 1111.1L568.5 1113.1L570.8 1115L573 1117L575.3 1118.9L577.6 1120.9L579.9 1122.8L582.2 1124.7L584.5 1126.5L586.9 1128.4L589.3 1130.2L591.6 1132L594 1133.8L596.5 1135.5L598.9 1137.3L601.4 1139L603.8 1140.6L606.3 1142.3L608.8 1143.9L611.3 1145.5L613.9 1147.1L616.4 1148.6L619 1150.2L621.6 1151.6L624.2 1153.1L626.9 1154.5L629.5 1155.9L632.2 1157.3L634.9 1158.6L637.6 1159.9L640.3 1161.1L643 1162.4L645.7 1163.5L648.5 1164.7L651.3 1165.8L654.1 1166.8L656.9 1167.9L659.7 1168.9L662.6 1169.8L665.4 1170.7L668.3 1171.6L671.2 1172.4L674.1 1173.1L677 1173.9L679.9 1174.6L682.8 1175.2L685.7 1175.8L688.7 1176.4L691.6 1176.9L694.6 1177.3L697.6 1177.8L700.5 1178.1L703.5 1178.5L706.5 1178.8L709.5 1179L712.5 1179.2L715.5 1179.4L718.5 1179.5L721.5 1179.6L724.5 1179.6L727.5 1179.6L728.4 1179.6L731.4 1179.8L734.4 1180.4L737.2 1181.5L740 1183L742.6 1184.7L745 1186.6L747.3 1188.7L749.4 1190.9L751.4 1193.2L753.4 1195.6L755.2 1198.1L756.9 1200.6L758.6 1203.2L760.1 1205.8L761.7 1208.5L763.1 1211.2L764.5 1213.9L765.9 1216.6L767.2 1219.3L768.5 1222.1L769.8 1224.8L771 1227.6L772.3 1230.3L773.5 1233.1L774.6 1235.9L775.8 1238.7L777 1241.4L778.1 1244.2L779.3 1247L780.4 1249.8L781.6 1252.6L782.7 1255.4L783.8 1258.2L784.9 1261L786 1263.8L787.1 1266.6L788.2 1269.4L789.3 1272.2L790.4 1275L791.4 1277.8L792.5 1280.6L793.6 1283.4L794.6 1286.2L795.7 1289L796.7 1291.9L797.8 1294.7L798.8 1297.5L799.9 1300.3L800.9 1303.1L801.9 1306L803 1308.8L804 1311.6L805 1314.4L806 1317.2L807.1 1320.1L808.1 1322.9L809.1 1325.7L810.1 1328.5L811.1 1331.4L812.1 1334.2L813.2 1337L814.2 1339.8L815.2 1342.7L816.2 1345.5L817.2 1348.3L818.2 1351.2L819.2 1354L820.2 1356.8L821.2 1359.6L822.2 1362.5L823.2 1365.3L824.3 1368.1L825.3 1370.9L826.3 1373.7L827.3 1376.6L828.3 1379.4L829.3 1382.2L830.3 1385L831.4 1387.9L832.4 1390.7L833.4 1393.5L834.4 1396.3L835.4 1399.1L836.5 1401.9L837.5 1404.7L838.5 1407.6L839.6 1410.4L840.6 1413.2L841.7 1416L842.7 1418.8L843.8 1421.6L844.8 1424.4L845.9 1427.1L847 1429.9L848.1 1432.7L849.2 1435.5L850.3 1438.3L851.4 1441L852.6 1443.8L853.7 1446.5L854.9 1449.3L856.1 1452L857.3 1454.7L858.5 1457.5L859.7 1460.2L860.9 1462.9L862.2 1465.6L863.4 1468.3L864.7 1471.1L866 1473.8L867.2 1476.4L868.5 1479.1L869.9 1481.8L871.2 1484.5L872.5 1487.2L873.9 1489.8L875.2 1492.5L876.6 1495.1L878 1497.7L879.5 1500.3L880.9 1502.9L882.4 1505.5L883.9 1508.1L885.4 1510.6L887 1513.2L888.6 1515.7L890.2 1518.1L891.9 1520.6L893.6 1523L895.3 1525.4L897.1 1527.7L899 1530L900.9 1532.2L902.9 1534.4L905 1536.5L907.1 1538.5L909.3 1540.5L911.6 1542.3L914 1544.1L916.5 1545.7L919 1547.2L921.7 1548.5L924.4 1549.6L927.2 1550.6L930.1 1551.3L933 1551.8L936 1552.1L939 1552.1L942 1551.9L945 1551.4L947.9 1550.8L950.8 1549.9L953.7 1548.9L956.5 1547.8L959.2 1546.5L961.9 1545.2L964.6 1543.7L967.2 1542.1L969.7 1540.5L972.3 1538.9L974.7 1537.1L977.2 1535.4L979.6 1533.6L982 1531.7L984.4 1529.9L986.7 1528L989.1 1526.1L991.4 1524.2L993.7 1522.3L996 1520.3L998.3 1518.4L1000.6 1516.4L1002.9 1514.5L1005.2 1512.6L1007.5 1510.7L1009.8 1508.8L1012.1 1506.9L1014.4 1505L1016.8 1506.9L1019.1 1508.9L1021.3 1511.1L1023.4 1513.3L1025.4 1515.6L1027.4 1517.9L1029.3 1520.3L1031.1 1522.7L1032.9 1525.2L1034.7 1527.6L1036.4 1530.1L1038.1 1532.6L1039.7 1535.2L1041.4 1537.7L1043 1540.3L1044.6 1542.8L1046.2 1545.4L1047.7 1548L1049.3 1550.5L1050.8 1553.1L1052.4 1555.7L1053.9 1558.3L1055.4 1560.9L1057 1563.5L1058.5 1566.1L1060 1568.6L1061.5 1571.2L1063 1573.8L1064.5 1576.4L1066.1 1579L1067.6 1581.6L1069.1 1584.2L1070.6 1586.8L1072.1 1589.3L1073.6 1591.9L1075.2 1594.5L1076.7 1597.1L1078.2 1599.7L1079.8 1602.2L1081.3 1604.8L1082.9 1607.4L1084.4 1609.9L1086 1612.5L1087.6 1615L1089.1 1617.5L1090.7 1620.1L1092.3 1622.6L1093.9 1625.1L1095.5 1627.6L1097.2 1630.1L1098.8 1632.6L1100.5 1635.1L1102.2 1637.6L1103.9 1640.1L1105.6 1642.5L1107.3 1644.9L1109 1647.4L1110.8 1649.8L1112.6 1652.2L1114.4 1654.5L1116.2 1656.9L1118.1 1659.2L1119.9 1661.5L1121.9 1663.8L1123.8 1666L1125.8 1668.3L1127.8 1670.5L1129.8 1672.6L1131.9 1674.7L1134.1 1676.8L1136.2 1678.8L1138.5 1680.7L1140.7 1682.6L1143.1 1684.5L1145.5 1686.2L1148 1687.8L1150.5 1689.4L1153.1 1690.8L1155.8 1692L1158.5 1693.1L1161.3 1694.1L1164.2 1694.8L1167.1 1695.3L1170.1 1695.5L1173.1 1695.5L1176.1 1695.2L1179.1 1694.6L1182 1693.8L1184.9 1692.8L1187.6 1691.5L1190.3 1690.1L1192.9 1688.5L1195.5 1686.8L1197.9 1685L1200.2 1683L1202.5 1681L1204.7 1678.9L1206.9 1676.7L1208.9 1674.5L1210.9 1672.2L1212.9 1669.9L1214.8 1667.5L1216.7 1665.1L1218.5 1662.7L1220.2 1660.2L1222 1657.7L1223.7 1655.2L1225.3 1652.6L1226.9 1650.1L1228.5 1647.5L1230.1 1644.9L1231.6 1642.3L1233.1 1639.7L1234.6 1637L1236 1634.4L1237.5 1631.7L1238.9 1629L1240.3 1626.3L1241.6 1623.7L1243 1621L1244.3 1618.3L1245.7 1615.6L1247 1612.8L1248.3 1610.1L1249.6 1607.4L1250.8 1604.7L1252.1 1602L1253.4 1599.2L1254.6 1596.5L1255.9 1593.7L1257.1 1591L1258.3 1588.2L1259.6 1585.5L1260.8 1582.7L1262 1580L1263.1 1577.2L1264.3 1574.4L1265.5 1571.6L1266.6 1568.8L1267.7 1566L1268.8 1563.2L1269.9 1560.4L1271 1557.6L1272.1 1554.7L1273.1 1551.9L1274.2 1549.1L1275.2 1546.3L1276.2 1543.4L1277.2 1540.6L1278.2 1537.7L1279.2 1534.9L1280.2 1532.1L1281.2 1529.2L1282.2 1526.4L1283.2 1523.5L1284.1 1520.7L1285.1 1517.8L1286.1 1515L1287 1512.2L1288 1509.3L1288.9 1506.5L1289.9 1503.6L1290.9 1500.8L1291.8 1497.9L1292.8 1495.1L1293.7 1492.3L1294.7 1489.4L1295.7 1486.6L1296.6 1483.7L1297.6 1480.9L1298.6 1478.1L1299.5 1475.2L1300.5 1472.4L1301.5 1469.5L1302.4 1466.7L1303.4 1463.9L1304.4 1461L1305.3 1458.2L1306.3 1455.3L1307.3 1452.5L1308.2 1449.7L1309.2 1446.8L1310.2 1444L1311.1 1441.1L1312.1 1438.3L1313 1435.4L1314 1432.6L1314.9 1429.7L1315.9 1426.9L1316.8 1424L1317.7 1421.2L1318.7 1418.3L1319.6 1415.5L1320.5 1412.6L1321.5 1409.8L1322.4 1406.9L1323.3 1404L1324.3 1401.2L1325.2 1398.3L1326.1 1395.5L1327.1 1392.6L1328 1389.8L1328.9 1386.9L1329.8 1384.1L1330.8 1381.2L1331.7 1378.3L1332.6 1375.5L1333.5 1372.6L1334.4 1369.8L1335.3 1366.9L1336.3 1364.1L1337.2 1361.2L1338.1 1358.3L1339 1355.5L1339.9 1352.6L1340.8 1349.8L1341.8 1346.9L1342.7 1344.1L1343.6 1341.2L1344.5 1338.3L1345.4 1335.5L1346.3 1332.6L1347.2 1329.8L1348.1 1326.9L1349.1 1324L1350 1321.2L1350.9 1318.3L1351.8 1315.5L1352.7 1312.6L1353.6 1309.8L1354.5 1306.9L1355.5 1304L1356.4 1301.2L1357.3 1298.3L1358.2 1295.5L1359.1 1292.6L1360 1289.8L1361 1286.9L1361.9 1284.1L1362.8 1281.2L1363.7 1278.4L1364.6 1275.5L1365.6 1272.7L1366.5 1269.8L1367.4 1266.9L1368.4 1264.1L1369.3 1261.2L1370.2 1258.4L1371.1 1255.6L1372.1 1252.7L1373 1249.9L1374 1247L1374.9 1244.2L1375.8 1241.3L1376.8 1238.5L1377.7 1235.6L1378.7 1232.8L1379.6 1230L1380.6 1227.1L1381.5 1224.3L1382.5 1221.4L1383.5 1218.6L1384.4 1215.8L1385.4 1212.9L1386.4 1210.1L1387.3 1207.3L1388.3 1204.4L1389.3 1201.6L1390.3 1198.8L1391.3 1196L1392.3 1193.1L1393.3 1190.3L1394.3 1187.5L1395.3 1184.7L1396.3 1181.8L1397.3 1179L1398.3 1176.2L1399.3 1173.4L1400.4 1170.6L1401.4 1167.8L1402.5 1165L1403.5 1162.2L1404.6 1159.4L1405.6 1156.6L1406.7 1153.8L1407.8 1151L1408.9 1148.2L1409.9 1145.4L1411 1142.7L1412.1 1139.9L1413.3 1137.1L1414.4 1134.3L1415.5 1131.6L1416.6 1128.8L1417.8 1126L1419 1123.3L1420.1 1120.5L1421.3 1117.8L1422.5 1115L1423.7 1112.3L1424.9 1109.6L1426.1 1106.8L1427.3 1104.1L1428.5 1101.4L1429.8 1098.7L1431 1096L1432.3 1093.3L1433.6 1090.6L1434.9 1087.9L1436.2 1085.2L1437.5 1082.5L1438.8 1079.8L1440.1 1077.2L1441.5 1074.5L1442.9 1071.8L1444.2 1069.2L1445.6 1066.6L1447 1063.9L1448.5 1061.3L1449.9 1058.7L1451.3 1056.1L1452.8 1053.5L1454.3 1050.9L1455.8 1048.3L1457.3 1045.8L1458.9 1043.2L1460.4 1040.7L1462 1038.2L1463.6 1035.6L1465.3 1033.1L1466.9 1030.7L1468.6 1028.2L1470.3 1025.7L1472 1023.3L1473.7 1020.9L1475.5 1018.5L1477.3 1016.1L1479.1 1013.8L1480.9 1011.4L1482.8 1009.1L1484.7 1006.8L1486.7 1004.6L1488.6 1002.4L1490.7 1000.2L1492.7 998L1494.8 995.9L1496.9 993.8L1499.1 991.8L1501.3 989.8L1503.5 987.8L1505.8 985.9L1508.1 984.1L1510.5 982.3L1512.9 980.6L1515.4 978.9L1517.9 977.4L1520.5 975.9L1523.1 974.4L1525.8 973.1L1528.5 971.8L1531.2 970.7L1534 969.6L1536.8 968.6L1539.7 967.8L1542.5 967L1545.4 966.3L1548.4 965.8L1551.3 965.3L1554.3 965L1557.3 964.8L1560.3 964.8L1563.3 965L1566.3 965.3L1569.3 965.7L1572.2 966.2L1575.2 966.6L1578.2 966.9L1581.2 967L1584.2 967L1586 967.0" stroke="#7c7c7c" stroke-width="12.4"/><path d="M233 967L236 966.8L239 966.5L242 966L244.9 965.5L247.9 964.8L250.8 964.1L253.7 963.3L256.6 962.4L259.4 961.5L262.3 960.5L265.1 959.5L267.9 958.5L270.7 957.4L273.6 956.4L276.4 955.3L279.2 954.3L282 953.3L284.8 952.3L287.7 951.3L290.5 950.4L293.4 949.5L296.2 948.6L299.1 947.8L302 947L304.9 946.3L307.8 945.6L310.7 945L313.7 944.4L316.6 943.9L319.6 943.5L322.6 943.1L325.5 942.8L328.5 942.6L331.5 942.5L334.5 942.5L337.5 942.6L340.5 942.7L343.5 943L346.5 943.4L349.5 943.8L352.4 944.4L355.4 945.1L358.3 945.9L361.2 946.8L364 947.7L366.8 948.8L369.6 949.9L372.4 951L375.2 952.3L377.9 953.6L380.6 954.9L383.3 956.3L385.9 957.8L388.5 959.2L391.1 960.8L393.7 962.3L396.3 963.9L398.8 965.5L401.3 967.2L403.8 968.8L406.3 970.5L408.8 972.3L411.2 974L413.7 975.7L416.1 977.5L418.5 979.3L420.9 981.1L423.3 982.9L425.7 984.7L428.1 986.6L430.5 988.4L432.9 990.3L435.2 992.1L437.6 994L439.9 995.8L442.3 997.7L444.6 999.6L446.9 1001.5L449.3 1003.4L451.6 1005.3L453.9 1007.2L456.2 1009.1L458.5 1011L460.8 1013L463.1 1014.9L465.4 1016.9L467.7 1018.8L470 1020.8L472.2 1022.7L474.5 1024.7L476.8 1026.7L479 1028.7L481.3 1030.7L483.5 1032.7L485.8 1034.7L488 1036.7L490.2 1038.7L492.4 1040.7L494.6 1042.8L496.8 1044.8L499.1 1046.8L501.2 1048.9L503.4 1050.9L505.6 1053L507.8 1055.1L510 1057.1L512.1 1059.2L514.3 1061.3L516.5 1063.4L518.6 1065.5L520.8 1067.6L522.9 1069.7L525.1 1071.8L527.2 1073.9L529.4 1076L531.5 1078.1L533.6 1080.2L535.8 1082.3L537.9 1084.4L540.1 1086.4L542.2 1088.5L544.4 1090.6L546.6 1092.7L548.7 1094.8L550.9 1096.8L553.1 1098.9L555.2 1101L557.4 1103L559.6 1105L561.8 1107.1L564 1109.1L566.3 1111.1L568.5 1113.1L570.8 1115L573 1117L575.3 1118.9L577.6 1120.9L579.9 1122.8L582.2 1124.7L584.5 1126.5L586.9 1128.4L589.3 1130.2L591.6 1132L594 1133.8L596.5 1135.5L598.9 1137.3L601.4 1139L603.8 1140.6L606.3 1142.3L608.8 1143.9L611.3 1145.5L613.9 1147.1L616.4 1148.6L619 1150.2L621.6 1151.6L624.2 1153.1L626.9 1154.5L629.5 1155.9L632.2 1157.3L634.9 1158.6L637.6 1159.9L640.3 1161.1L643 1162.4L645.7 1163.5L648.5 1164.7L651.3 1165.8L654.1 1166.8L656.9 1167.9L659.7 1168.9L662.6 1169.8L665.4 1170.7L668.3 1171.6L671.2 1172.4L674.1 1173.1L677 1173.9L679.9 1174.6L682.8 1175.2L685.7 1175.8L688.7 1176.4L691.6 1176.9L694.6 1177.3L697.6 1177.8L700.5 1178.1L703.5 1178.5L706.5 1178.8L709.5 1179L712.5 1179.2L715.5 1179.4L718.5 1179.5L721.5 1179.6L724.5 1179.6L727.5 1179.6L728.4 1179.6L731.4 1179.8L734.4 1180.4L737.2 1181.5L740 1183L742.6 1184.7L745 1186.6L747.3 1188.7L749.4 1190.9L751.4 1193.2L753.4 1195.6L755.2 1198.1L756.9 1200.6L758.6 1203.2L760.1 1205.8L761.7 1208.5L763.1 1211.2L764.5 1213.9L765.9 1216.6L767.2 1219.3L768.5 1222.1L769.8 1224.8L771 1227.6L772.3 1230.3L773.5 1233.1L774.6 1235.9L775.8 1238.7L777 1241.4L778.1 1244.2L779.3 1247L780.4 1249.8L781.6 1252.6L782.7 1255.4L783.8 1258.2L784.9 1261L786 1263.8L787.1 1266.6L788.2 1269.4L789.3 1272.2L790.4 1275L791.4 1277.8L792.5 1280.6L793.6 1283.4L794.6 1286.2L795.7 1289L796.7 1291.9L797.8 1294.7L798.8 1297.5L799.9 1300.3L800.9 1303.1L801.9 1306L803 1308.8L804 1311.6L805 1314.4L806 1317.2L807.1 1320.1L808.1 1322.9L809.1 1325.7L810.1 1328.5L811.1 1331.4L812.1 1334.2L813.2 1337L814.2 1339.8L815.2 1342.7L816.2 1345.5L817.2 1348.3L818.2 1351.2L819.2 1354L820.2 1356.8L821.2 1359.6L822.2 1362.5L823.2 1365.3L824.3 1368.1L825.3 1370.9L826.3 1373.7L827.3 1376.6L828.3 1379.4L829.3 1382.2L830.3 1385L831.4 1387.9L832.4 1390.7L833.4 1393.5L834.4 1396.3L835.4 1399.1L836.5 1401.9L837.5 1404.7L838.5 1407.6L839.6 1410.4L840.6 1413.2L841.7 1416L842.7 1418.8L843.8 1421.6L844.8 1424.4L845.9 1427.1L847 1429.9L848.1 1432.7L849.2 1435.5L850.3 1438.3L851.4 1441L852.6 1443.8L853.7 1446.5L854.9 1449.3L856.1 1452L857.3 1454.7L858.5 1457.5L859.7 1460.2L860.9 1462.9L862.2 1465.6L863.4 1468.3L864.7 1471.1L866 1473.8L867.2 1476.4L868.5 1479.1L869.9 1481.8L871.2 1484.5L872.5 1487.2L873.9 1489.8L875.2 1492.5L876.6 1495.1L878 1497.7L879.5 1500.3L880.9 1502.9L882.4 1505.5L883.9 1508.1L885.4 1510.6L887 1513.2L888.6 1515.7L890.2 1518.1L891.9 1520.6L893.6 1523L895.3 1525.4L897.1 1527.7L899 1530L900.9 1532.2L902.9 1534.4L905 1536.5L907.1 1538.5L909.3 1540.5L911.6 1542.3L914 1544.1L916.5 1545.7L919 1547.2L921.7 1548.5L924.4 1549.6L927.2 1550.6L930.1 1551.3L933 1551.8L936 1552.1L939 1552.1L942 1551.9L945 1551.4L947.9 1550.8L950.8 1549.9L953.7 1548.9L956.5 1547.8L959.2 1546.5L961.9 1545.2L964.6 1543.7L967.2 1542.1L969.7 1540.5L972.3 1538.9L974.7 1537.1L977.2 1535.4L979.6 1533.6L982 1531.7L984.4 1529.9L986.7 1528L989.1 1526.1L991.4 1524.2L993.7 1522.3L996 1520.3L998.3 1518.4L1000.6 1516.4L1002.9 1514.5L1005.2 1512.6L1007.5 1510.7L1009.8 1508.8L1012.1 1506.9L1014.4 1505L1016.8 1506.9L1019.1 1508.9L1021.3 1511.1L1023.4 1513.3L1025.4 1515.6L1027.4 1517.9L1029.3 1520.3L1031.1 1522.7L1032.9 1525.2L1034.7 1527.6L1036.4 1530.1L1038.1 1532.6L1039.7 1535.2L1041.4 1537.7L1043 1540.3L1044.6 1542.8L1046.2 1545.4L1047.7 1548L1049.3 1550.5L1050.8 1553.1L1052.4 1555.7L1053.9 1558.3L1055.4 1560.9L1057 1563.5L1058.5 1566.1L1060 1568.6L1061.5 1571.2L1063 1573.8L1064.5 1576.4L1066.1 1579L1067.6 1581.6L1069.1 1584.2L1070.6 1586.8L1072.1 1589.3L1073.6 1591.9L1075.2 1594.5L1076.7 1597.1L1078.2 1599.7L1079.8 1602.2L1081.3 1604.8L1082.9 1607.4L1084.4 1609.9L1086 1612.5L1087.6 1615L1089.1 1617.5L1090.7 1620.1L1092.3 1622.6L1093.9 1625.1L1095.5 1627.6L1097.2 1630.1L1098.8 1632.6L1100.5 1635.1L1102.2 1637.6L1103.9 1640.1L1105.6 1642.5L1107.3 1644.9L1109 1647.4L1110.8 1649.8L1112.6 1652.2L1114.4 1654.5L1116.2 1656.9L1118.1 1659.2L1119.9 1661.5L1121.9 1663.8L1123.8 1666L1125.8 1668.3L1127.8 1670.5L1129.8 1672.6L1131.9 1674.7L1134.1 1676.8L1136.2 1678.8L1138.5 1680.7L1140.7 1682.6L1143.1 1684.5L1145.5 1686.2L1148 1687.8L1150.5 1689.4L1153.1 1690.8L1155.8 1692L1158.5 1693.1L1161.3 1694.1L1164.2 1694.8L1167.1 1695.3L1170.1 1695.5L1173.1 1695.5L1176.1 1695.2L1179.1 1694.6L1182 1693.8L1184.9 1692.8L1187.6 1691.5L1190.3 1690.1L1192.9 1688.5L1195.5 1686.8L1197.9 1685L1200.2 1683L1202.5 1681L1204.7 1678.9L1206.9 1676.7L1208.9 1674.5L1210.9 1672.2L1212.9 1669.9L1214.8 1667.5L1216.7 1665.1L1218.5 1662.7L1220.2 1660.2L1222 1657.7L1223.7 1655.2L1225.3 1652.6L1226.9 1650.1L1228.5 1647.5L1230.1 1644.9L1231.6 1642.3L1233.1 1639.7L1234.6 1637L1236 1634.4L1237.5 1631.7L1238.9 1629L1240.3 1626.3L1241.6 1623.7L1243 1621L1244.3 1618.3L1245.7 1615.6L1247 1612.8L1248.3 1610.1L1249.6 1607.4L1250.8 1604.7L1252.1 1602L1253.4 1599.2L1254.6 1596.5L1255.9 1593.7L1257.1 1591L1258.3 1588.2L1259.6 1585.5L1260.8 1582.7L1262 1580L1263.1 1577.2L1264.3 1574.4L1265.5 1571.6L1266.6 1568.8L1267.7 1566L1268.8 1563.2L1269.9 1560.4L1271 1557.6L1272.1 1554.7L1273.1 1551.9L1274.2 1549.1L1275.2 1546.3L1276.2 1543.4L1277.2 1540.6L1278.2 1537.7L1279.2 1534.9L1280.2 1532.1L1281.2 1529.2L1282.2 1526.4L1283.2 1523.5L1284.1 1520.7L1285.1 1517.8L1286.1 1515L1287 1512.2L1288 1509.3L1288.9 1506.5L1289.9 1503.6L1290.9 1500.8L1291.8 1497.9L1292.8 1495.1L1293.7 1492.3L1294.7 1489.4L1295.7 1486.6L1296.6 1483.7L1297.6 1480.9L1298.6 1478.1L1299.5 1475.2L1300.5 1472.4L1301.5 1469.5L1302.4 1466.7L1303.4 1463.9L1304.4 1461L1305.3 1458.2L1306.3 1455.3L1307.3 1452.5L1308.2 1449.7L1309.2 1446.8L1310.2 1444L1311.1 1441.1L1312.1 1438.3L1313 1435.4L1314 1432.6L1314.9 1429.7L1315.9 1426.9L1316.8 1424L1317.7 1421.2L1318.7 1418.3L1319.6 1415.5L1320.5 1412.6L1321.5 1409.8L1322.4 1406.9L1323.3 1404L1324.3 1401.2L1325.2 1398.3L1326.1 1395.5L1327.1 1392.6L1328 1389.8L1328.9 1386.9L1329.8 1384.1L1330.8 1381.2L1331.7 1378.3L1332.6 1375.5L1333.5 1372.6L1334.4 1369.8L1335.3 1366.9L1336.3 1364.1L1337.2 1361.2L1338.1 1358.3L1339 1355.5L1339.9 1352.6L1340.8 1349.8L1341.8 1346.9L1342.7 1344.1L1343.6 1341.2L1344.5 1338.3L1345.4 1335.5L1346.3 1332.6L1347.2 1329.8L1348.1 1326.9L1349.1 1324L1350 1321.2L1350.9 1318.3L1351.8 1315.5L1352.7 1312.6L1353.6 1309.8L1354.5 1306.9L1355.5 1304L1356.4 1301.2L1357.3 1298.3L1358.2 1295.5L1359.1 1292.6L1360 1289.8L1361 1286.9L1361.9 1284.1L1362.8 1281.2L1363.7 1278.4L1364.6 1275.5L1365.6 1272.7L1366.5 1269.8L1367.4 1266.9L1368.4 1264.1L1369.3 1261.2L1370.2 1258.4L1371.1 1255.6L1372.1 1252.7L1373 1249.9L1374 1247L1374.9 1244.2L1375.8 1241.3L1376.8 1238.5L1377.7 1235.6L1378.7 1232.8L1379.6 1230L1380.6 1227.1L1381.5 1224.3L1382.5 1221.4L1383.5 1218.6L1384.4 1215.8L1385.4 1212.9L1386.4 1210.1L1387.3 1207.3L1388.3 1204.4L1389.3 1201.6L1390.3 1198.8L1391.3 1196L1392.3 1193.1L1393.3 1190.3L1394.3 1187.5L1395.3 1184.7L1396.3 1181.8L1397.3 1179L1398.3 1176.2L1399.3 1173.4L1400.4 1170.6L1401.4 1167.8L1402.5 1165L1403.5 1162.2L1404.6 1159.4L1405.6 1156.6L1406.7 1153.8L1407.8 1151L1408.9 1148.2L1409.9 1145.4L1411 1142.7L1412.1 1139.9L1413.3 1137.1L1414.4 1134.3L1415.5 1131.6L1416.6 1128.8L1417.8 1126L1419 1123.3L1420.1 1120.5L1421.3 1117.8L1422.5 1115L1423.7 1112.3L1424.9 1109.6L1426.1 1106.8L1427.3 1104.1L1428.5 1101.4L1429.8 1098.7L1431 1096L1432.3 1093.3L1433.6 1090.6L1434.9 1087.9L1436.2 1085.2L1437.5 1082.5L1438.8 1079.8L1440.1 1077.2L1441.5 1074.5L1442.9 1071.8L1444.2 1069.2L1445.6 1066.6L1447 1063.9L1448.5 1061.3L1449.9 1058.7L1451.3 1056.1L1452.8 1053.5L1454.3 1050.9L1455.8 1048.3L1457.3 1045.8L1458.9 1043.2L1460.4 1040.7L1462 1038.2L1463.6 1035.6L1465.3 1033.1L1466.9 1030.7L1468.6 1028.2L1470.3 1025.7L1472 1023.3L1473.7 1020.9L1475.5 1018.5L1477.3 1016.1L1479.1 1013.8L1480.9 1011.4L1482.8 1009.1L1484.7 1006.8L1486.7 1004.6L1488.6 1002.4L1490.7 1000.2L1492.7 998L1494.8 995.9L1496.9 993.8L1499.1 991.8L1501.3 989.8L1503.5 987.8L1505.8 985.9L1508.1 984.1L1510.5 982.3L1512.9 980.6L1515.4 978.9L1517.9 977.4L1520.5 975.9L1523.1 974.4L1525.8 973.1L1528.5 971.8L1531.2 970.7L1534 969.6L1536.8 968.6L1539.7 967.8L1542.5 967L1545.4 966.3L1548.4 965.8L1551.3 965.3L1554.3 965L1557.3 964.8L1560.3 964.8L1563.3 965L1566.3 965.3L1569.3 965.7L1572.2 966.2L1575.2 966.6L1578.2 966.9L1581.2 967L1584.2 967L1586 967.0" stroke="url(#gB)" stroke-width="10"/><path d="M233 859L236 858.3L238.8 856.7L241.2 854.6L243.3 852.2L245.1 849.7L246.9 847.1L248.5 844.4L250 841.7L251.4 839L252.7 836.3L254.1 833.5L255.3 830.8L256.5 828L257.7 825.2L258.9 822.4L260 819.6L261.1 816.7L262.2 813.9L263.3 811.1L264.4 808.3L265.4 805.4L266.5 802.6L267.5 799.8L268.5 797L269.5 794.1L270.5 791.3L271.5 788.4L272.5 785.6L273.5 782.8L274.5 779.9L275.4 777.1L276.4 774.2L277.4 771.4L278.3 768.5L279.3 765.7L280.3 762.8L281.2 760L282.2 757.2L283.1 754.3L284.1 751.5L285.1 748.6L286 745.8L287 742.9L287.9 740.1L288.9 737.3L289.9 734.4L290.8 731.6L291.8 728.8L292.8 725.9L293.8 723.1L294.7 720.3L295.7 717.5L296.7 714.6L297.7 711.8L298.7 709L299.8 706.2L300.8 703.4L301.8 700.6L302.9 697.8L304 695L305 692.2L306.1 689.5L307.2 686.7L308.3 683.9L309.5 681.2L310.6 678.4L311.8 675.7L312.9 673L314.1 670.2L315.4 667.5L316.6 664.8L317.9 662.2L319.2 659.5L320.6 656.9L321.9 654.3L323.3 651.7L324.8 649.1L326.3 646.6L327.9 644.1L329.5 641.6L331.2 639.2L333 636.9L334.8 634.7L336.8 632.5L338.9 630.5L341.2 628.7L343.6 627.1L346.1 625.7L348.9 624.7L351.8 624.1L354.7 624L357.7 624.5L360.7 625.4L363.4 626.7L366 628.4L368.5 630.3L370.8 632.4L372.9 634.7L374.9 637L376.8 639.4L378.7 641.8L380.4 644.3L382.1 646.8L383.8 649.4L385.4 652L386.9 654.6L388.4 657.3L389.9 659.9L391.4 662.6L392.8 665.3L394.1 667.9L395.5 670.6L396.8 673.4L398.2 676.1L399.5 678.8L400.7 681.5L402 684.3L403.3 687L404.5 689.8L405.7 692.5L406.9 695.3L408.1 698.1L409.3 700.8L410.5 703.6L411.7 706.4L412.8 709.2L414 711.9L415.1 714.7L416.2 717.5L417.4 720.3L418.5 723.1L419.6 725.9L420.7 728.7L421.8 731.5L422.9 734.3L423.9 737.1L425 739.9L426.1 742.8L427.1 745.6L428.2 748.4L429.3 751.2L430.3 754L431.3 756.8L432.4 759.7L433.4 762.5L434.4 765.3L435.5 768.1L436.5 771L437.5 773.8L438.5 776.6L439.6 779.4L440.6 782.3L441.6 785.1L442.6 787.9L443.6 790.8L444.6 793.6L445.6 796.4L446.6 799.3L447.5 802.1L448.5 804.9L449.5 807.8L450.5 810.6L451.5 813.5L452.5 816.3L453.4 819.1L454.4 822L455.4 824.8L456.3 827.7L457.3 830.5L458.2 833.4L459.2 836.2L460.2 839.1L461.1 841.9L462.1 844.8L463 847.6L464 850.5L464.9 853.3L465.8 856.2L466.8 859L467.7 861.9L468.6 864.7L469.6 867.6L470.5 870.4L471.4 873.3L472.4 876.2L473.3 879L474.2 881.9L475.1 884.7L476 887.6L476.9 890.5L477.9 893.3L478.8 896.2L479.7 899L480.6 901.9L481.5 904.8L482.4 907.6L483.3 910.5L484.2 913.4L485.1 916.2L486 919.1L486.9 921.9L487.8 924.8L488.7 927.7L489.6 930.5L490.5 933.4L491.4 936.3L492.3 939.1L493.1 942L494 944.9L494.9 947.7L495.8 950.6L496.7 953.5L497.6 956.3L498.5 959.2L499.4 962.1L500.3 964.9L501.2 967.8L502.1 970.6L503 973.5L503.9 976.4L504.8 979.2L505.7 982.1L506.5 984.9L507.5 987.8L508.4 990.7L509.3 993.5L510.2 996.4L511.1 999.2L512 1002.1L512.9 1004.9L513.8 1007.8L514.7 1010.6L515.6 1013.5L516.6 1016.3L517.5 1019.2L518.4 1022L519.3 1024.9L520.3 1027.7L521.2 1030.6L522.2 1033.4L523.1 1036.2L524.1 1039.1L525 1041.9L526 1044.7L527 1047.6L528 1050.4L529 1053.2L530 1056L531 1058.8L532 1061.6L533.1 1064.4L534.1 1067.2L535.2 1070L536.3 1072.7L537.4 1075.5L538.5 1078.3L539.6 1081.1L540.7 1083.8L541.9 1086.6L543 1089.4L544.1 1092.1L545.3 1094.9L546.4 1097.7L547.6 1100.4L548.8 1103.2L549.9 1105.9L551.1 1108.7L552.3 1111.4L553.5 1114.2L554.7 1116.9L555.9 1119.6L557.2 1122.3L558.4 1125L559.7 1127.7L560.9 1130.4L562.2 1133.1L563.5 1135.8L564.8 1138.5L566.2 1141.2L567.5 1143.9L568.8 1146.6L570.1 1149.3L571.5 1151.9L572.8 1154.6L574.1 1157.3L575.4 1160L576.8 1162.7L578.1 1165.4L579.4 1168.1L580.7 1170.8L582 1173.5L583.4 1176.2L584.7 1178.8L586.1 1181.5L587.5 1184.1L588.9 1186.7L590.3 1189.3L591.8 1191.9L593.3 1194.5L594.8 1197L596.3 1199.6L597.9 1202.1L599.5 1204.6L601.2 1207L602.9 1209.5L604.6 1211.9L606.4 1214.2L608.2 1216.5L610.1 1218.8L612.1 1221L614.1 1223.2L616.1 1225.3L618.3 1227.3L620.5 1229.2L622.9 1231L625.3 1232.7L627.8 1234.2L630.4 1235.7L633 1236.9L635.8 1238.1L638.6 1239L641.4 1239.9L644.4 1240.5L647.3 1241.1L650.3 1241.5L653.2 1241.8L656.2 1242L659.2 1242.1L662.2 1242.1L665.2 1242.1L668.2 1242.1L671.2 1242.1L674.2 1242L677.2 1242L680.2 1242L683.2 1241.9L686.2 1241.8L689.2 1241.8L692.2 1241.7L695.2 1241.6L698.2 1241.6L701.2 1241.5L704.2 1241.4L707.2 1241.4L710.2 1241.3L713.2 1241.3L716.2 1241.2L719.2 1241.1L722.2 1241.1L725.2 1241L728.2 1241L728.4 1241L731.4 1240.4L734.3 1239.3L737 1237.8L739.5 1235.9L741.8 1233.9L744 1231.7L746.1 1229.4L748.1 1227.1L749.9 1224.7L751.7 1222.2L753.5 1219.7L755.2 1217.2L756.8 1214.6L758.4 1212L760 1209.4L761.5 1206.8L763 1204.2L764.5 1201.5L765.9 1198.9L767.3 1196.2L768.8 1193.6L770.1 1190.9L771.5 1188.2L772.9 1185.5L774.2 1182.8L775.5 1180.1L776.8 1177.3L778.1 1174.6L779.4 1171.9L780.6 1169.1L781.9 1166.4L783.1 1163.6L784.3 1160.9L785.6 1158.1L786.8 1155.4L788 1152.6L789.1 1149.8L790.3 1147.1L791.5 1144.3L792.7 1141.5L793.8 1138.8L795 1136L796.2 1133.2L797.3 1130.5L798.5 1127.7L799.6 1124.9L800.8 1122.1L801.9 1119.4L803 1116.6L804.2 1113.8L805.3 1111.1L806.5 1108.3L807.6 1105.5L808.8 1102.8L810 1100L811.1 1097.2L812.3 1094.5L813.4 1091.7L814.6 1088.9L815.8 1086.2L817 1083.4L818.2 1080.7L819.3 1077.9L820.5 1075.2L821.7 1072.5L822.9 1069.7L824.2 1067L825.4 1064.3L826.6 1061.5L827.8 1058.8L829.1 1056.1L830.4 1053.4L831.6 1050.7L832.9 1048L834.2 1045.3L835.5 1042.6L836.8 1040L838.2 1037.3L839.5 1034.6L840.9 1032L842.3 1029.4L843.7 1026.8L845.2 1024.2L846.7 1021.6L848.2 1019L849.7 1016.5L851.2 1013.9L852.8 1011.5L854.5 1009L856.2 1006.6L857.9 1004.2L859.7 1001.8L861.5 999.5L863.4 997.3L865.4 995.1L867.5 993L869.7 991.1L871.9 989.3L874.3 987.6L876.9 986.1L879.5 984.8L882.3 983.8L885.1 983L888 982.4L891 982.1L894 982.1L897 982.3L900 982.7L902.9 983.3L905.9 984L908.8 984.8L911.6 985.8L914.5 986.8L917.3 987.9L920.1 989.1L922.8 990.4L925.5 991.8L928.1 993.3L930.7 994.8L933.2 996.5L935.7 998.2L938.2 1000L940.6 1001.8L943 1003.7L945.3 1005.6L947.7 1007.5L950 1009.4L952.3 1011.3L954.5 1013.3L956.8 1015.3L959.1 1017.2L961.4 1019.2L963.6 1021.1L965.9 1023L968.2 1024.9L970.5 1026.8L972.9 1028.7L975.2 1030.5L977.6 1032.3L980.1 1034L982.5 1035.7L985 1037.3L987.6 1038.8L990.2 1040.3L992.8 1041.6L995.5 1042.9L998.3 1044L1001.1 1045L1003.9 1045.9L1006.8 1046.6L1009.7 1047.1L1012.7 1047.5L1014.4 1047.6L1017.4 1047.5L1020.4 1047.3L1023.4 1046.8L1026.3 1046.1L1029.2 1045.3L1032.1 1044.2L1034.9 1043.1L1037.6 1041.8L1040.3 1040.3L1042.9 1038.8L1045.5 1037.2L1048 1035.4L1050.4 1033.6L1052.8 1031.8L1055.1 1029.9L1057.4 1027.9L1059.7 1025.9L1061.9 1023.9L1064.1 1021.8L1066.3 1019.7L1068.4 1017.5L1070.5 1015.3L1072.6 1013.1L1074.6 1010.9L1076.6 1008.7L1078.6 1006.4L1080.6 1004.1L1082.5 1001.8L1084.5 999.5L1086.4 997.2L1088.3 994.8L1090.2 992.5L1092 990.1L1093.9 987.8L1095.8 985.4L1097.6 983L1099.4 980.6L1101.3 978.3L1103.1 975.9L1104.9 973.5L1106.7 971.1L1108.5 968.6L1110.3 966.2L1112 963.8L1113.8 961.4L1115.6 958.9L1117.3 956.5L1119.1 954.1L1120.9 951.6L1122.6 949.2L1124.3 946.7L1126.1 944.3L1127.8 941.8L1129.5 939.4L1131.3 936.9L1133 934.4L1134.7 932L1136.4 929.5L1138.1 927L1139.8 924.6L1141.5 922.1L1143.2 919.6L1144.9 917.1L1146.6 914.7L1148.3 912.2L1150 909.7L1151.7 907.2L1153.3 904.7L1155 902.2L1156.7 899.7L1158.4 897.3L1160 894.8L1161.7 892.3L1163.4 889.8L1165.1 887.3L1166.7 884.8L1168.4 882.3L1170.1 879.8L1171.7 877.3L1173.4 874.8L1175.1 872.3L1176.8 869.8L1178.4 867.4L1180.1 864.9L1181.8 862.4L1183.4 859.9L1185.1 857.4L1186.8 854.9L1188.5 852.4L1190.1 849.9L1191.8 847.4L1193.5 844.9L1195.2 842.5L1196.8 840L1198.5 837.5L1200.2 835L1201.9 832.5L1203.6 830.1L1205.3 827.6L1207 825.1L1208.7 822.7L1210.4 820.2L1212.1 817.7L1213.8 815.3L1215.5 812.8L1217.3 810.4L1219 807.9L1220.7 805.5L1222.5 803.1L1224.2 800.6L1226 798.2L1227.7 795.8L1229.5 793.4L1231.3 791L1233.1 788.6L1234.9 786.2L1236.7 783.8L1238.5 781.4L1240.4 779.1L1242.2 776.7L1244 774.4L1245.9 772L1247.8 769.7L1249.7 767.4L1251.6 765.1L1253.5 762.8L1255.4 760.5L1257.4 758.3L1259.4 756L1261.3 753.8L1263.3 751.5L1265.3 749.3L1267.3 747.1L1269.4 744.9L1271.4 742.7L1273.5 740.5L1275.5 738.4L1277.6 736.2L1279.7 734.1L1281.8 732L1283.9 729.8L1286 727.7L1288.2 725.7L1290.3 723.6L1292.5 721.5L1294.7 719.5L1296.9 717.4L1299.1 715.4L1301.3 713.4L1303.5 711.3L1305.7 709.3L1307.9 707.3L1310.2 705.4L1312.4 703.4L1314.7 701.4L1317 699.5L1319.2 697.5L1321.5 695.6L1323.8 693.7L1326.1 691.7L1328.4 689.8L1330.7 687.9L1333.1 686L1335.4 684.1L1337.7 682.3L1340 680.4L1342.4 678.5L1344.7 676.6L1347.1 674.8L1349.4 672.9L1351.8 671.1L1354.1 669.2L1356.5 667.4L1358.9 665.5L1361.2 663.7L1363.6 661.8L1366 660L1368.4 658.2L1370.7 656.4L1373.1 654.5L1375.5 652.7L1377.9 650.9L1380.2 649L1382.6 647.2L1385 645.4L1387.4 643.6L1389.8 641.7L1392.2 639.9L1394.6 638.2L1397 636.4L1399.4 634.6L1401.8 632.9L1404.3 631.2L1406.8 629.5L1409.3 627.9L1411.8 626.3L1414.3 624.8L1416.9 623.3L1419.5 621.8L1422.2 620.5L1424.9 619.2L1427.6 618L1430.4 616.8L1433.2 615.8L1436 614.9L1438.9 614.2L1441.8 613.5L1444.7 613.1L1447.7 612.8L1450.7 612.7L1453.7 612.8L1456.7 613.1L1459.7 613.6L1462.6 614.5L1465.4 615.6L1468.2 617L1470.8 618.6L1473.3 620.4L1475.7 622.3L1477.9 624.5L1480 626.7L1482 629.1L1483.9 631.5L1485.7 634L1487.4 636.6L1489 639.2L1490.6 641.8L1492.1 644.4L1493.5 647.1L1495 649.8L1496.3 652.5L1497.7 655.2L1499 657.9L1500.3 660.7L1501.6 663.4L1502.8 666.2L1504.1 668.9L1505.3 671.7L1506.5 674.4L1507.7 677.2L1508.9 680L1510 682.8L1511.2 685.6L1512.3 688.4L1513.4 691.2L1514.5 694L1515.6 696.8L1516.7 699.6L1517.8 702.4L1518.8 705.3L1519.8 708.1L1520.9 710.9L1521.9 713.8L1522.9 716.6L1523.9 719.4L1524.9 722.3L1525.9 725.1L1526.9 728L1527.9 730.8L1528.9 733.6L1529.8 736.5L1530.8 739.3L1531.8 742.2L1532.8 745L1533.7 747.9L1534.7 750.7L1535.7 753.5L1536.6 756.4L1537.6 759.2L1538.5 762.1L1539.5 764.9L1540.5 767.7L1541.4 770.6L1542.4 773.4L1543.4 776.2L1544.4 779.1L1545.3 781.9L1546.3 784.7L1547.3 787.5L1548.3 790.4L1549.3 793.2L1550.3 796L1551.3 798.8L1552.3 801.6L1553.4 804.4L1554.4 807.2L1555.5 810L1556.5 812.8L1557.6 815.6L1558.7 818.4L1559.8 821.1L1560.9 823.9L1562.1 826.6L1563.2 829.3L1564.4 832L1565.7 834.7L1567 837.4L1568.3 840L1569.7 842.6L1571.1 845.1L1572.6 847.6L1574.2 850L1576 852.3L1577.9 854.5L1579.9 856.4L1582.3 857.9L1584.9 858.9L1586 859.0" stroke="#7c7c7c" stroke-width="12.4"/><path d="M233 859L236 858.3L238.8 856.7L241.2 854.6L243.3 852.2L245.1 849.7L246.9 847.1L248.5 844.4L250 841.7L251.4 839L252.7 836.3L254.1 833.5L255.3 830.8L256.5 828L257.7 825.2L258.9 822.4L260 819.6L261.1 816.7L262.2 813.9L263.3 811.1L264.4 808.3L265.4 805.4L266.5 802.6L267.5 799.8L268.5 797L269.5 794.1L270.5 791.3L271.5 788.4L272.5 785.6L273.5 782.8L274.5 779.9L275.4 777.1L276.4 774.2L277.4 771.4L278.3 768.5L279.3 765.7L280.3 762.8L281.2 760L282.2 757.2L283.1 754.3L284.1 751.5L285.1 748.6L286 745.8L287 742.9L287.9 740.1L288.9 737.3L289.9 734.4L290.8 731.6L291.8 728.8L292.8 725.9L293.8 723.1L294.7 720.3L295.7 717.5L296.7 714.6L297.7 711.8L298.7 709L299.8 706.2L300.8 703.4L301.8 700.6L302.9 697.8L304 695L305 692.2L306.1 689.5L307.2 686.7L308.3 683.9L309.5 681.2L310.6 678.4L311.8 675.7L312.9 673L314.1 670.2L315.4 667.5L316.6 664.8L317.9 662.2L319.2 659.5L320.6 656.9L321.9 654.3L323.3 651.7L324.8 649.1L326.3 646.6L327.9 644.1L329.5 641.6L331.2 639.2L333 636.9L334.8 634.7L336.8 632.5L338.9 630.5L341.2 628.7L343.6 627.1L346.1 625.7L348.9 624.7L351.8 624.1L354.7 624L357.7 624.5L360.7 625.4L363.4 626.7L366 628.4L368.5 630.3L370.8 632.4L372.9 634.7L374.9 637L376.8 639.4L378.7 641.8L380.4 644.3L382.1 646.8L383.8 649.4L385.4 652L386.9 654.6L388.4 657.3L389.9 659.9L391.4 662.6L392.8 665.3L394.1 667.9L395.5 670.6L396.8 673.4L398.2 676.1L399.5 678.8L400.7 681.5L402 684.3L403.3 687L404.5 689.8L405.7 692.5L406.9 695.3L408.1 698.1L409.3 700.8L410.5 703.6L411.7 706.4L412.8 709.2L414 711.9L415.1 714.7L416.2 717.5L417.4 720.3L418.5 723.1L419.6 725.9L420.7 728.7L421.8 731.5L422.9 734.3L423.9 737.1L425 739.9L426.1 742.8L427.1 745.6L428.2 748.4L429.3 751.2L430.3 754L431.3 756.8L432.4 759.7L433.4 762.5L434.4 765.3L435.5 768.1L436.5 771L437.5 773.8L438.5 776.6L439.6 779.4L440.6 782.3L441.6 785.1L442.6 787.9L443.6 790.8L444.6 793.6L445.6 796.4L446.6 799.3L447.5 802.1L448.5 804.9L449.5 807.8L450.5 810.6L451.5 813.5L452.5 816.3L453.4 819.1L454.4 822L455.4 824.8L456.3 827.7L457.3 830.5L458.2 833.4L459.2 836.2L460.2 839.1L461.1 841.9L462.1 844.8L463 847.6L464 850.5L464.9 853.3L465.8 856.2L466.8 859L467.7 861.9L468.6 864.7L469.6 867.6L470.5 870.4L471.4 873.3L472.4 876.2L473.3 879L474.2 881.9L475.1 884.7L476 887.6L476.9 890.5L477.9 893.3L478.8 896.2L479.7 899L480.6 901.9L481.5 904.8L482.4 907.6L483.3 910.5L484.2 913.4L485.1 916.2L486 919.1L486.9 921.9L487.8 924.8L488.7 927.7L489.6 930.5L490.5 933.4L491.4 936.3L492.3 939.1L493.1 942L494 944.9L494.9 947.7L495.8 950.6L496.7 953.5L497.6 956.3L498.5 959.2L499.4 962.1L500.3 964.9L501.2 967.8L502.1 970.6L503 973.5L503.9 976.4L504.8 979.2L505.7 982.1L506.5 984.9L507.5 987.8L508.4 990.7L509.3 993.5L510.2 996.4L511.1 999.2L512 1002.1L512.9 1004.9L513.8 1007.8L514.7 1010.6L515.6 1013.5L516.6 1016.3L517.5 1019.2L518.4 1022L519.3 1024.9L520.3 1027.7L521.2 1030.6L522.2 1033.4L523.1 1036.2L524.1 1039.1L525 1041.9L526 1044.7L527 1047.6L528 1050.4L529 1053.2L530 1056L531 1058.8L532 1061.6L533.1 1064.4L534.1 1067.2L535.2 1070L536.3 1072.7L537.4 1075.5L538.5 1078.3L539.6 1081.1L540.7 1083.8L541.9 1086.6L543 1089.4L544.1 1092.1L545.3 1094.9L546.4 1097.7L547.6 1100.4L548.8 1103.2L549.9 1105.9L551.1 1108.7L552.3 1111.4L553.5 1114.2L554.7 1116.9L555.9 1119.6L557.2 1122.3L558.4 1125L559.7 1127.7L560.9 1130.4L562.2 1133.1L563.5 1135.8L564.8 1138.5L566.2 1141.2L567.5 1143.9L568.8 1146.6L570.1 1149.3L571.5 1151.9L572.8 1154.6L574.1 1157.3L575.4 1160L576.8 1162.7L578.1 1165.4L579.4 1168.1L580.7 1170.8L582 1173.5L583.4 1176.2L584.7 1178.8L586.1 1181.5L587.5 1184.1L588.9 1186.7L590.3 1189.3L591.8 1191.9L593.3 1194.5L594.8 1197L596.3 1199.6L597.9 1202.1L599.5 1204.6L601.2 1207L602.9 1209.5L604.6 1211.9L606.4 1214.2L608.2 1216.5L610.1 1218.8L612.1 1221L614.1 1223.2L616.1 1225.3L618.3 1227.3L620.5 1229.2L622.9 1231L625.3 1232.7L627.8 1234.2L630.4 1235.7L633 1236.9L635.8 1238.1L638.6 1239L641.4 1239.9L644.4 1240.5L647.3 1241.1L650.3 1241.5L653.2 1241.8L656.2 1242L659.2 1242.1L662.2 1242.1L665.2 1242.1L668.2 1242.1L671.2 1242.1L674.2 1242L677.2 1242L680.2 1242L683.2 1241.9L686.2 1241.8L689.2 1241.8L692.2 1241.7L695.2 1241.6L698.2 1241.6L701.2 1241.5L704.2 1241.4L707.2 1241.4L710.2 1241.3L713.2 1241.3L716.2 1241.2L719.2 1241.1L722.2 1241.1L725.2 1241L728.2 1241L728.4 1241L731.4 1240.4L734.3 1239.3L737 1237.8L739.5 1235.9L741.8 1233.9L744 1231.7L746.1 1229.4L748.1 1227.1L749.9 1224.7L751.7 1222.2L753.5 1219.7L755.2 1217.2L756.8 1214.6L758.4 1212L760 1209.4L761.5 1206.8L763 1204.2L764.5 1201.5L765.9 1198.9L767.3 1196.2L768.8 1193.6L770.1 1190.9L771.5 1188.2L772.9 1185.5L774.2 1182.8L775.5 1180.1L776.8 1177.3L778.1 1174.6L779.4 1171.9L780.6 1169.1L781.9 1166.4L783.1 1163.6L784.3 1160.9L785.6 1158.1L786.8 1155.4L788 1152.6L789.1 1149.8L790.3 1147.1L791.5 1144.3L792.7 1141.5L793.8 1138.8L795 1136L796.2 1133.2L797.3 1130.5L798.5 1127.7L799.6 1124.9L800.8 1122.1L801.9 1119.4L803 1116.6L804.2 1113.8L805.3 1111.1L806.5 1108.3L807.6 1105.5L808.8 1102.8L810 1100L811.1 1097.2L812.3 1094.5L813.4 1091.7L814.6 1088.9L815.8 1086.2L817 1083.4L818.2 1080.7L819.3 1077.9L820.5 1075.2L821.7 1072.5L822.9 1069.7L824.2 1067L825.4 1064.3L826.6 1061.5L827.8 1058.8L829.1 1056.1L830.4 1053.4L831.6 1050.7L832.9 1048L834.2 1045.3L835.5 1042.6L836.8 1040L838.2 1037.3L839.5 1034.6L840.9 1032L842.3 1029.4L843.7 1026.8L845.2 1024.2L846.7 1021.6L848.2 1019L849.7 1016.5L851.2 1013.9L852.8 1011.5L854.5 1009L856.2 1006.6L857.9 1004.2L859.7 1001.8L861.5 999.5L863.4 997.3L865.4 995.1L867.5 993L869.7 991.1L871.9 989.3L874.3 987.6L876.9 986.1L879.5 984.8L882.3 983.8L885.1 983L888 982.4L891 982.1L894 982.1L897 982.3L900 982.7L902.9 983.3L905.9 984L908.8 984.8L911.6 985.8L914.5 986.8L917.3 987.9L920.1 989.1L922.8 990.4L925.5 991.8L928.1 993.3L930.7 994.8L933.2 996.5L935.7 998.2L938.2 1000L940.6 1001.8L943 1003.7L945.3 1005.6L947.7 1007.5L950 1009.4L952.3 1011.3L954.5 1013.3L956.8 1015.3L959.1 1017.2L961.4 1019.2L963.6 1021.1L965.9 1023L968.2 1024.9L970.5 1026.8L972.9 1028.7L975.2 1030.5L977.6 1032.3L980.1 1034L982.5 1035.7L985 1037.3L987.6 1038.8L990.2 1040.3L992.8 1041.6L995.5 1042.9L998.3 1044L1001.1 1045L1003.9 1045.9L1006.8 1046.6L1009.7 1047.1L1012.7 1047.5L1014.4 1047.6L1017.4 1047.5L1020.4 1047.3L1023.4 1046.8L1026.3 1046.1L1029.2 1045.3L1032.1 1044.2L1034.9 1043.1L1037.6 1041.8L1040.3 1040.3L1042.9 1038.8L1045.5 1037.2L1048 1035.4L1050.4 1033.6L1052.8 1031.8L1055.1 1029.9L1057.4 1027.9L1059.7 1025.9L1061.9 1023.9L1064.1 1021.8L1066.3 1019.7L1068.4 1017.5L1070.5 1015.3L1072.6 1013.1L1074.6 1010.9L1076.6 1008.7L1078.6 1006.4L1080.6 1004.1L1082.5 1001.8L1084.5 999.5L1086.4 997.2L1088.3 994.8L1090.2 992.5L1092 990.1L1093.9 987.8L1095.8 985.4L1097.6 983L1099.4 980.6L1101.3 978.3L1103.1 975.9L1104.9 973.5L1106.7 971.1L1108.5 968.6L1110.3 966.2L1112 963.8L1113.8 961.4L1115.6 958.9L1117.3 956.5L1119.1 954.1L1120.9 951.6L1122.6 949.2L1124.3 946.7L1126.1 944.3L1127.8 941.8L1129.5 939.4L1131.3 936.9L1133 934.4L1134.7 932L1136.4 929.5L1138.1 927L1139.8 924.6L1141.5 922.1L1143.2 919.6L1144.9 917.1L1146.6 914.7L1148.3 912.2L1150 909.7L1151.7 907.2L1153.3 904.7L1155 902.2L1156.7 899.7L1158.4 897.3L1160 894.8L1161.7 892.3L1163.4 889.8L1165.1 887.3L1166.7 884.8L1168.4 882.3L1170.1 879.8L1171.7 877.3L1173.4 874.8L1175.1 872.3L1176.8 869.8L1178.4 867.4L1180.1 864.9L1181.8 862.4L1183.4 859.9L1185.1 857.4L1186.8 854.9L1188.5 852.4L1190.1 849.9L1191.8 847.4L1193.5 844.9L1195.2 842.5L1196.8 840L1198.5 837.5L1200.2 835L1201.9 832.5L1203.6 830.1L1205.3 827.6L1207 825.1L1208.7 822.7L1210.4 820.2L1212.1 817.7L1213.8 815.3L1215.5 812.8L1217.3 810.4L1219 807.9L1220.7 805.5L1222.5 803.1L1224.2 800.6L1226 798.2L1227.7 795.8L1229.5 793.4L1231.3 791L1233.1 788.6L1234.9 786.2L1236.7 783.8L1238.5 781.4L1240.4 779.1L1242.2 776.7L1244 774.4L1245.9 772L1247.8 769.7L1249.7 767.4L1251.6 765.1L1253.5 762.8L1255.4 760.5L1257.4 758.3L1259.4 756L1261.3 753.8L1263.3 751.5L1265.3 749.3L1267.3 747.1L1269.4 744.9L1271.4 742.7L1273.5 740.5L1275.5 738.4L1277.6 736.2L1279.7 734.1L1281.8 732L1283.9 729.8L1286 727.7L1288.2 725.7L1290.3 723.6L1292.5 721.5L1294.7 719.5L1296.9 717.4L1299.1 715.4L1301.3 713.4L1303.5 711.3L1305.7 709.3L1307.9 707.3L1310.2 705.4L1312.4 703.4L1314.7 701.4L1317 699.5L1319.2 697.5L1321.5 695.6L1323.8 693.7L1326.1 691.7L1328.4 689.8L1330.7 687.9L1333.1 686L1335.4 684.1L1337.7 682.3L1340 680.4L1342.4 678.5L1344.7 676.6L1347.1 674.8L1349.4 672.9L1351.8 671.1L1354.1 669.2L1356.5 667.4L1358.9 665.5L1361.2 663.7L1363.6 661.8L1366 660L1368.4 658.2L1370.7 656.4L1373.1 654.5L1375.5 652.7L1377.9 650.9L1380.2 649L1382.6 647.2L1385 645.4L1387.4 643.6L1389.8 641.7L1392.2 639.9L1394.6 638.2L1397 636.4L1399.4 634.6L1401.8 632.9L1404.3 631.2L1406.8 629.5L1409.3 627.9L1411.8 626.3L1414.3 624.8L1416.9 623.3L1419.5 621.8L1422.2 620.5L1424.9 619.2L1427.6 618L1430.4 616.8L1433.2 615.8L1436 614.9L1438.9 614.2L1441.8 613.5L1444.7 613.1L1447.7 612.8L1450.7 612.7L1453.7 612.8L1456.7 613.1L1459.7 613.6L1462.6 614.5L1465.4 615.6L1468.2 617L1470.8 618.6L1473.3 620.4L1475.7 622.3L1477.9 624.5L1480 626.7L1482 629.1L1483.9 631.5L1485.7 634L1487.4 636.6L1489 639.2L1490.6 641.8L1492.1 644.4L1493.5 647.1L1495 649.8L1496.3 652.5L1497.7 655.2L1499 657.9L1500.3 660.7L1501.6 663.4L1502.8 666.2L1504.1 668.9L1505.3 671.7L1506.5 674.4L1507.7 677.2L1508.9 680L1510 682.8L1511.2 685.6L1512.3 688.4L1513.4 691.2L1514.5 694L1515.6 696.8L1516.7 699.6L1517.8 702.4L1518.8 705.3L1519.8 708.1L1520.9 710.9L1521.9 713.8L1522.9 716.6L1523.9 719.4L1524.9 722.3L1525.9 725.1L1526.9 728L1527.9 730.8L1528.9 733.6L1529.8 736.5L1530.8 739.3L1531.8 742.2L1532.8 745L1533.7 747.9L1534.7 750.7L1535.7 753.5L1536.6 756.4L1537.6 759.2L1538.5 762.1L1539.5 764.9L1540.5 767.7L1541.4 770.6L1542.4 773.4L1543.4 776.2L1544.4 779.1L1545.3 781.9L1546.3 784.7L1547.3 787.5L1548.3 790.4L1549.3 793.2L1550.3 796L1551.3 798.8L1552.3 801.6L1553.4 804.4L1554.4 807.2L1555.5 810L1556.5 812.8L1557.6 815.6L1558.7 818.4L1559.8 821.1L1560.9 823.9L1562.1 826.6L1563.2 829.3L1564.4 832L1565.7 834.7L1567 837.4L1568.3 840L1569.7 842.6L1571.1 845.1L1572.6 847.6L1574.2 850L1576 852.3L1577.9 854.5L1579.9 856.4L1582.3 857.9L1584.9 858.9L1586 859.0" stroke="url(#gA)" stroke-width="10"/><path d="M1340 2050L1340.7 2047.1L1341.4 2044.2L1342.1 2041.2L1342.8 2038.3L1343.5 2035.4L1344.1 2032.5L1344.8 2029.6L1345.5 2026.7L1346.2 2023.8L1346.9 2020.8L1347.6 2017.9L1348.3 2015L1349 2012.1L1349.7 2009.2L1350.4 2006.3L1351.2 2003.3L1351.9 2000.4L1352.6 1997.5L1353.3 1994.6L1354 1991.7L1354.7 1988.7L1355.4 1985.8L1356 1982.9L1356.7 1980L1357.4 1977.1L1358.1 1974.1L1358.8 1971.2L1359.5 1968.3L1360.2 1965.4L1360.9 1962.4L1361.6 1959.5L1362.2 1956.6L1362.9 1953.7L1363.6 1950.7L1364.3 1947.8L1364.9 1944.9L1365.6 1941.9L1366.3 1939L1366.9 1936.1L1367.6 1933.2L1368.3 1930.2L1368.9 1927.3L1369.6 1924.4L1370.2 1921.4L1370.9 1918.5L1371.5 1915.6L1372.2 1912.6L1372.8 1909.7L1373.5 1906.8L1374.1 1903.8L1374.8 1900.9L1375.4 1898L1376 1895L1376.7 1892.1L1377.3 1889.2L1378 1886.2L1378.6 1883.3L1379.2 1880.4L1379.9 1877.4L1380.5 1874.5L1381.1 1871.6L1381.8 1868.6L1382.4 1865.7L1383 1862.8L1383.7 1859.8L1384.3 1856.9L1384.9 1854L1385.6 1851L1386.2 1848.1L1386.8 1845.2L1387.5 1842.2L1388.1 1839.3L1388.7 1836.4L1389.4 1833.4L1390 1830.5L1390.6 1827.6L1391.3 1824.6L1391.9 1821.7L1392.5 1818.8L1393.2 1815.9L1393.8 1812.9L1394.4 1810L1395.1 1807.1L1395.7 1804.1L1396.4 1801.2L1397 1798.3L1397.6 1795.3L1398.3 1792.4L1398.9 1789.5L1399.5 1786.5L1400.2 1783.6L1400.8 1780.7L1401.5 1777.7L1402.1 1774.8L1402.7 1771.9L1403.4 1769L1404 1766L1404.6 1763.1L1405.3 1760.2L1405.9 1757.2L1406.6 1754.3L1407.2 1751.4L1407.8 1748.4L1408.5 1745.5L1409.1 1742.6L1409.8 1739.6L1410.4 1736.7L1411 1733.8L1411.7 1730.8L1412.3 1727.9L1412.9 1725L1413.6 1722L1414.2 1719.1L1414.8 1716.2L1415.5 1713.2L1416.1 1710.3L1416.7 1707.4L1417.4 1704.5L1418 1701.6L1418.7 1698.7L1419.3 1695.8L1420 1692.9L1420.7 1690.1L1421.5 1687.3L1422.3 1684.5L1423.2 1681.8L1424.1 1679.2L1425.3 1676.8L1426.9 1675.1L1427 1675L1429.7 1673.9L1432.6 1673L1435.5 1672.5L1438.4 1672.2L1441.4 1672.2L1444.4 1672.4L1447.4 1672.8L1450.4 1673.4L1453.3 1674.1L1456.2 1674.9L1459.1 1675.7L1462 1676.7L1464.8 1677.6L1467.6 1678.6L1470.5 1679.6L1473.3 1680.7L1476.1 1681.8L1478.9 1682.8L1481.7 1684L1484.5 1685.1L1487.2 1686.2L1490 1687.3L1492.8 1688.5L1495.6 1689.6L1498.4 1690.7L1501.1 1691.9L1503.9 1693L1506.7 1694.1L1509.5 1695.1L1512.3 1696.2L1515.1 1697.2L1518 1698.2L1520.8 1699.1L1523.6 1700.1L1526.5 1701L1529.4 1701.8L1532.2 1702.7L1535.1 1703.5L1538 1704.2L1540.9 1705L1543.8 1705.7L1546.8 1706.3L1549.7 1707L1552.6 1707.5L1555.6 1708.1L1558.5 1708.6L1561.5 1709L1564.5 1709.5L1567.4 1709.8L1570.4 1710.1L1573.4 1710.4L1576.4 1710.6L1579.4 1710.8L1582.4 1710.9L1585.4 1711L1586 1711.0" stroke="#7c7c7c" stroke-width="12.4"/><path d="M1340 2050L1340.7 2047.1L1341.4 2044.2L1342.1 2041.2L1342.8 2038.3L1343.5 2035.4L1344.1 2032.5L1344.8 2029.6L1345.5 2026.7L1346.2 2023.8L1346.9 2020.8L1347.6 2017.9L1348.3 2015L1349 2012.1L1349.7 2009.2L1350.4 2006.3L1351.2 2003.3L1351.9 2000.4L1352.6 1997.5L1353.3 1994.6L1354 1991.7L1354.7 1988.7L1355.4 1985.8L1356 1982.9L1356.7 1980L1357.4 1977.1L1358.1 1974.1L1358.8 1971.2L1359.5 1968.3L1360.2 1965.4L1360.9 1962.4L1361.6 1959.5L1362.2 1956.6L1362.9 1953.7L1363.6 1950.7L1364.3 1947.8L1364.9 1944.9L1365.6 1941.9L1366.3 1939L1366.9 1936.1L1367.6 1933.2L1368.3 1930.2L1368.9 1927.3L1369.6 1924.4L1370.2 1921.4L1370.9 1918.5L1371.5 1915.6L1372.2 1912.6L1372.8 1909.7L1373.5 1906.8L1374.1 1903.8L1374.8 1900.9L1375.4 1898L1376 1895L1376.7 1892.1L1377.3 1889.2L1378 1886.2L1378.6 1883.3L1379.2 1880.4L1379.9 1877.4L1380.5 1874.5L1381.1 1871.6L1381.8 1868.6L1382.4 1865.7L1383 1862.8L1383.7 1859.8L1384.3 1856.9L1384.9 1854L1385.6 1851L1386.2 1848.1L1386.8 1845.2L1387.5 1842.2L1388.1 1839.3L1388.7 1836.4L1389.4 1833.4L1390 1830.5L1390.6 1827.6L1391.3 1824.6L1391.9 1821.7L1392.5 1818.8L1393.2 1815.9L1393.8 1812.9L1394.4 1810L1395.1 1807.1L1395.7 1804.1L1396.4 1801.2L1397 1798.3L1397.6 1795.3L1398.3 1792.4L1398.9 1789.5L1399.5 1786.5L1400.2 1783.6L1400.8 1780.7L1401.5 1777.7L1402.1 1774.8L1402.7 1771.9L1403.4 1769L1404 1766L1404.6 1763.1L1405.3 1760.2L1405.9 1757.2L1406.6 1754.3L1407.2 1751.4L1407.8 1748.4L1408.5 1745.5L1409.1 1742.6L1409.8 1739.6L1410.4 1736.7L1411 1733.8L1411.7 1730.8L1412.3 1727.9L1412.9 1725L1413.6 1722L1414.2 1719.1L1414.8 1716.2L1415.5 1713.2L1416.1 1710.3L1416.7 1707.4L1417.4 1704.5L1418 1701.6L1418.7 1698.7L1419.3 1695.8L1420 1692.9L1420.7 1690.1L1421.5 1687.3L1422.3 1684.5L1423.2 1681.8L1424.1 1679.2L1425.3 1676.8L1426.9 1675.1L1427 1675L1429.7 1673.9L1432.6 1673L1435.5 1672.5L1438.4 1672.2L1441.4 1672.2L1444.4 1672.4L1447.4 1672.8L1450.4 1673.4L1453.3 1674.1L1456.2 1674.9L1459.1 1675.7L1462 1676.7L1464.8 1677.6L1467.6 1678.6L1470.5 1679.6L1473.3 1680.7L1476.1 1681.8L1478.9 1682.8L1481.7 1684L1484.5 1685.1L1487.2 1686.2L1490 1687.3L1492.8 1688.5L1495.6 1689.6L1498.4 1690.7L1501.1 1691.9L1503.9 1693L1506.7 1694.1L1509.5 1695.1L1512.3 1696.2L1515.1 1697.2L1518 1698.2L1520.8 1699.1L1523.6 1700.1L1526.5 1701L1529.4 1701.8L1532.2 1702.7L1535.1 1703.5L1538 1704.2L1540.9 1705L1543.8 1705.7L1546.8 1706.3L1549.7 1707L1552.6 1707.5L1555.6 1708.1L1558.5 1708.6L1561.5 1709L1564.5 1709.5L1567.4 1709.8L1570.4 1710.1L1573.4 1710.4L1576.4 1710.6L1579.4 1710.8L1582.4 1710.9L1585.4 1711L1586 1711.0" stroke="url(#gG2)" stroke-width="10"/><path d="M1356 2050L1356.7 2047.1L1357.4 2044.2L1358.1 2041.4L1358.9 2038.5L1359.6 2035.6L1360.4 2032.8L1361.2 2029.9L1362 2027.1L1362.9 2024.2L1363.7 2021.4L1364.6 2018.5L1365.5 2015.7L1366.4 2012.9L1367.3 2010L1368.3 2007.2L1369.2 2004.4L1370.2 2001.5L1371.1 1998.7L1372.1 1995.8L1373 1993L1374 1990.1L1374.9 1987.3L1375.9 1984.4L1376.8 1981.6L1377.7 1978.7L1378.6 1975.8L1379.5 1972.9L1380.4 1970.1L1381.3 1967.2L1382.2 1964.3L1383.1 1961.4L1384 1958.6L1384.8 1955.7L1385.7 1952.8L1386.6 1949.9L1387.4 1947L1388.3 1944.2L1389.1 1941.3L1390 1938.4L1390.8 1935.5L1391.7 1932.6L1392.5 1929.8L1393.4 1926.9L1394.2 1924L1395 1921.1L1395.9 1918.2L1396.7 1915.3L1397.5 1912.4L1398.4 1909.6L1399.2 1906.7L1400 1903.8L1400.9 1900.9L1401.7 1898L1402.5 1895.1L1403.3 1892.2L1404.1 1889.4L1405 1886.5L1405.8 1883.6L1406.6 1880.7L1407.4 1877.8L1408.2 1874.9L1409 1872L1409.8 1869.1L1410.7 1866.2L1411.5 1863.3L1412.3 1860.4L1413.1 1857.6L1413.9 1854.7L1414.7 1851.8L1415.5 1848.9L1416.3 1846L1417.1 1843.1L1417.9 1840.2L1418.7 1837.3L1419.5 1834.4L1420.2 1831.5L1421 1828.6L1421.8 1825.7L1422.6 1822.8L1423.4 1819.9L1424.2 1817L1425 1814.1L1425.8 1811.2L1426.6 1808.3L1427.3 1805.4L1428.1 1802.6L1428.9 1799.7L1429.7 1796.8L1430.5 1793.9L1431.3 1791L1432.1 1788.1L1432.9 1785.2L1433.7 1782.3L1434.5 1779.4L1435.3 1776.6L1436.1 1773.7L1436.9 1770.8L1437.7 1767.9L1438.6 1765L1439.4 1762.2L1440.2 1759.3L1441.1 1756.4L1441.9 1753.5L1442.7 1750.6L1443.6 1747.7L1444.4 1744.8L1445.2 1741.9L1446 1739L1446.8 1736.1L1447.5 1733.2L1448.3 1730.2L1449 1727.3L1449.8 1724.4L1450.5 1721.4L1451.2 1718.5L1451.9 1715.6L1452.6 1712.6L1453.3 1709.7L1454 1706.8L1454.6 1703.8L1455.3 1700.9L1456 1698L1456.6 1695L1457.3 1692.1L1458 1689.1L1458.6 1686.2L1459.3 1683.3L1459.9 1680.3L1460.6 1677.4L1461.2 1674.5L1461.8 1671.6L1462.5 1668.6L1463.1 1665.7L1463.8 1662.8L1464.4 1659.8L1465.1 1656.9L1465.7 1654L1466.3 1651L1467 1648.1L1467.6 1645.2L1468.3 1642.2L1468.9 1639.3L1469.5 1636.4L1470.2 1633.4L1470.8 1630.5L1471.5 1627.6L1472.1 1624.6L1472.7 1621.7L1473.4 1618.8L1474 1615.8L1474.6 1612.9L1475.3 1610L1475.9 1607L1476.5 1604.1L1477.1 1601.2L1477.8 1598.2L1478.4 1595.3L1479 1592.3L1479.6 1589.4L1480.3 1586.5L1480.9 1583.5L1481.5 1580.6L1482.1 1577.7L1482.7 1574.7L1483.4 1571.8L1484 1568.8L1484.6 1565.9L1485.2 1563L1485.8 1560L1486.4 1557.1L1487 1554.1L1487.6 1551.2L1488.2 1548.3L1488.8 1545.3L1489.4 1542.4L1490 1539.4L1490.6 1536.5L1491.2 1533.5L1491.8 1530.6L1492.4 1527.7L1493 1524.7L1493.6 1521.8L1494.2 1518.8L1494.8 1515.9L1495.4 1513L1496 1510L1496.6 1507.1L1497.2 1504.1L1497.8 1501.2L1498.4 1498.3L1499 1495.3L1499.6 1492.4L1500.2 1489.4L1500.8 1486.5L1501.4 1483.6L1502 1480.6L1502.6 1477.7L1503.2 1474.7L1503.8 1471.8L1504.4 1468.9L1505 1465.9L1505.6 1463L1506.2 1460L1506.8 1457.1L1507.4 1454.2L1508 1451.2L1508.6 1448.3L1509.2 1445.4L1509.8 1442.4L1510.4 1439.5L1511 1436.6L1511.6 1433.6L1512.2 1430.7L1512.8 1427.7L1513.4 1424.8L1514 1421.9L1514.7 1418.9L1515.3 1416L1515.9 1413.1L1516.5 1410.1L1517.1 1407.2L1517.7 1404.3L1518.3 1401.3L1519 1398.4L1519.6 1395.5L1520.2 1392.6L1520.8 1389.6L1521.5 1386.7L1522.1 1383.8L1522.7 1380.9L1523.4 1377.9L1524 1375L1524.7 1372.1L1525.3 1369.2L1526 1366.3L1526.7 1363.4L1527.4 1360.5L1528.1 1357.6L1528.8 1354.7L1529.5 1351.8L1530.2 1348.9L1530.9 1346L1531.6 1343.1L1532.4 1340.2L1533.1 1337.3L1533.8 1334.4L1534.6 1331.5L1535.3 1328.6L1536.1 1325.6L1536.8 1322.7L1537.5 1319.8L1538.2 1316.9L1539 1314L1539.7 1311.1L1540.4 1308.2L1541.1 1305.2L1541.9 1302.3L1542.6 1299.4L1543.3 1296.5L1544 1293.5L1544.7 1290.6L1545.4 1287.7L1546.1 1284.7L1546.7 1281.8L1547.4 1278.9L1548.1 1275.9L1548.8 1273L1549.4 1270.1L1550.1 1267.2L1550.8 1264.3L1551.4 1261.3L1552.1 1258.4L1552.8 1255.5L1553.5 1252.6L1554.2 1249.8L1554.9 1246.9L1555.7 1244L1556.4 1241.1L1557.2 1238.2L1558 1235.4L1558.7 1232.5L1559.6 1229.7L1560.4 1226.8L1561.2 1224L1562.1 1221.2L1563 1218.4L1563.9 1215.5L1564.9 1212.8L1565.9 1210L1566.9 1207.2L1568 1204.5L1569.1 1201.8L1570.2 1199.1L1571.5 1196.4L1572.7 1193.8L1574.1 1191.2L1575.6 1188.7L1577.1 1186.4L1578.9 1184.1L1580.8 1182.2L1583.1 1180.6L1585.8 1180L1586 1180.0" stroke="#7c7c7c" stroke-width="12.4"/><path d="M1356 2050L1356.7 2047.1L1357.4 2044.2L1358.1 2041.4L1358.9 2038.5L1359.6 2035.6L1360.4 2032.8L1361.2 2029.9L1362 2027.1L1362.9 2024.2L1363.7 2021.4L1364.6 2018.5L1365.5 2015.7L1366.4 2012.9L1367.3 2010L1368.3 2007.2L1369.2 2004.4L1370.2 2001.5L1371.1 1998.7L1372.1 1995.8L1373 1993L1374 1990.1L1374.9 1987.3L1375.9 1984.4L1376.8 1981.6L1377.7 1978.7L1378.6 1975.8L1379.5 1972.9L1380.4 1970.1L1381.3 1967.2L1382.2 1964.3L1383.1 1961.4L1384 1958.6L1384.8 1955.7L1385.7 1952.8L1386.6 1949.9L1387.4 1947L1388.3 1944.2L1389.1 1941.3L1390 1938.4L1390.8 1935.5L1391.7 1932.6L1392.5 1929.8L1393.4 1926.9L1394.2 1924L1395 1921.1L1395.9 1918.2L1396.7 1915.3L1397.5 1912.4L1398.4 1909.6L1399.2 1906.7L1400 1903.8L1400.9 1900.9L1401.7 1898L1402.5 1895.1L1403.3 1892.2L1404.1 1889.4L1405 1886.5L1405.8 1883.6L1406.6 1880.7L1407.4 1877.8L1408.2 1874.9L1409 1872L1409.8 1869.1L1410.7 1866.2L1411.5 1863.3L1412.3 1860.4L1413.1 1857.6L1413.9 1854.7L1414.7 1851.8L1415.5 1848.9L1416.3 1846L1417.1 1843.1L1417.9 1840.2L1418.7 1837.3L1419.5 1834.4L1420.2 1831.5L1421 1828.6L1421.8 1825.7L1422.6 1822.8L1423.4 1819.9L1424.2 1817L1425 1814.1L1425.8 1811.2L1426.6 1808.3L1427.3 1805.4L1428.1 1802.6L1428.9 1799.7L1429.7 1796.8L1430.5 1793.9L1431.3 1791L1432.1 1788.1L1432.9 1785.2L1433.7 1782.3L1434.5 1779.4L1435.3 1776.6L1436.1 1773.7L1436.9 1770.8L1437.7 1767.9L1438.6 1765L1439.4 1762.2L1440.2 1759.3L1441.1 1756.4L1441.9 1753.5L1442.7 1750.6L1443.6 1747.7L1444.4 1744.8L1445.2 1741.9L1446 1739L1446.8 1736.1L1447.5 1733.2L1448.3 1730.2L1449 1727.3L1449.8 1724.4L1450.5 1721.4L1451.2 1718.5L1451.9 1715.6L1452.6 1712.6L1453.3 1709.7L1454 1706.8L1454.6 1703.8L1455.3 1700.9L1456 1698L1456.6 1695L1457.3 1692.1L1458 1689.1L1458.6 1686.2L1459.3 1683.3L1459.9 1680.3L1460.6 1677.4L1461.2 1674.5L1461.8 1671.6L1462.5 1668.6L1463.1 1665.7L1463.8 1662.8L1464.4 1659.8L1465.1 1656.9L1465.7 1654L1466.3 1651L1467 1648.1L1467.6 1645.2L1468.3 1642.2L1468.9 1639.3L1469.5 1636.4L1470.2 1633.4L1470.8 1630.5L1471.5 1627.6L1472.1 1624.6L1472.7 1621.7L1473.4 1618.8L1474 1615.8L1474.6 1612.9L1475.3 1610L1475.9 1607L1476.5 1604.1L1477.1 1601.2L1477.8 1598.2L1478.4 1595.3L1479 1592.3L1479.6 1589.4L1480.3 1586.5L1480.9 1583.5L1481.5 1580.6L1482.1 1577.7L1482.7 1574.7L1483.4 1571.8L1484 1568.8L1484.6 1565.9L1485.2 1563L1485.8 1560L1486.4 1557.1L1487 1554.1L1487.6 1551.2L1488.2 1548.3L1488.8 1545.3L1489.4 1542.4L1490 1539.4L1490.6 1536.5L1491.2 1533.5L1491.8 1530.6L1492.4 1527.7L1493 1524.7L1493.6 1521.8L1494.2 1518.8L1494.8 1515.9L1495.4 1513L1496 1510L1496.6 1507.1L1497.2 1504.1L1497.8 1501.2L1498.4 1498.3L1499 1495.3L1499.6 1492.4L1500.2 1489.4L1500.8 1486.5L1501.4 1483.6L1502 1480.6L1502.6 1477.7L1503.2 1474.7L1503.8 1471.8L1504.4 1468.9L1505 1465.9L1505.6 1463L1506.2 1460L1506.8 1457.1L1507.4 1454.2L1508 1451.2L1508.6 1448.3L1509.2 1445.4L1509.8 1442.4L1510.4 1439.5L1511 1436.6L1511.6 1433.6L1512.2 1430.7L1512.8 1427.7L1513.4 1424.8L1514 1421.9L1514.7 1418.9L1515.3 1416L1515.9 1413.1L1516.5 1410.1L1517.1 1407.2L1517.7 1404.3L1518.3 1401.3L1519 1398.4L1519.6 1395.5L1520.2 1392.6L1520.8 1389.6L1521.5 1386.7L1522.1 1383.8L1522.7 1380.9L1523.4 1377.9L1524 1375L1524.7 1372.1L1525.3 1369.2L1526 1366.3L1526.7 1363.4L1527.4 1360.5L1528.1 1357.6L1528.8 1354.7L1529.5 1351.8L1530.2 1348.9L1530.9 1346L1531.6 1343.1L1532.4 1340.2L1533.1 1337.3L1533.8 1334.4L1534.6 1331.5L1535.3 1328.6L1536.1 1325.6L1536.8 1322.7L1537.5 1319.8L1538.2 1316.9L1539 1314L1539.7 1311.1L1540.4 1308.2L1541.1 1305.2L1541.9 1302.3L1542.6 1299.4L1543.3 1296.5L1544 1293.5L1544.7 1290.6L1545.4 1287.7L1546.1 1284.7L1546.7 1281.8L1547.4 1278.9L1548.1 1275.9L1548.8 1273L1549.4 1270.1L1550.1 1267.2L1550.8 1264.3L1551.4 1261.3L1552.1 1258.4L1552.8 1255.5L1553.5 1252.6L1554.2 1249.8L1554.9 1246.9L1555.7 1244L1556.4 1241.1L1557.2 1238.2L1558 1235.4L1558.7 1232.5L1559.6 1229.7L1560.4 1226.8L1561.2 1224L1562.1 1221.2L1563 1218.4L1563.9 1215.5L1564.9 1212.8L1565.9 1210L1566.9 1207.2L1568 1204.5L1569.1 1201.8L1570.2 1199.1L1571.5 1196.4L1572.7 1193.8L1574.1 1191.2L1575.6 1188.7L1577.1 1186.4L1578.9 1184.1L1580.8 1182.2L1583.1 1180.6L1585.8 1180L1586 1180.0" stroke="url(#gE2)" stroke-width="10"/><path d="M1150 2048L1151.2 2045.2L1152.3 2042.4L1153.5 2039.7L1154.6 2036.9L1155.7 2034.1L1156.9 2031.3L1158 2028.5L1159.1 2025.8L1160.3 2023L1161.4 2020.2L1162.5 2017.4L1163.6 2014.6L1164.8 2011.8L1165.9 2009L1167 2006.2L1168.1 2003.5L1169.2 2000.7L1170.3 1997.9L1171.4 1995.1L1172.5 1992.3L1173.6 1989.5L1174.7 1986.7L1175.8 1983.9L1176.9 1981.1L1178 1978.3L1179.1 1975.5L1180.2 1972.7L1181.3 1969.9L1182.4 1967.1L1183.5 1964.3L1184.6 1961.6L1185.7 1958.8L1186.7 1956L1187.8 1953.2L1188.9 1950.4L1190 1947.6L1191.1 1944.8L1192.2 1942L1193.3 1939.2L1194.4 1936.4L1195.4 1933.6L1196.5 1930.8L1197.6 1928L1198.7 1925.2L1199.8 1922.4L1200.9 1919.6L1202 1916.8L1203.1 1914L1204.1 1911.2L1205.2 1908.4L1206.3 1905.6L1207.4 1902.8L1208.5 1900.1L1209.6 1897.3L1210.7 1894.5L1211.8 1891.7L1212.9 1888.9L1214 1886.1L1215.1 1883.3L1216.2 1880.5L1217.3 1877.7L1218.4 1875L1219.5 1872.2L1220.6 1869.4L1221.7 1866.6L1222.9 1863.8L1224 1861L1225.1 1858.3L1226.2 1855.5L1227.3 1852.7L1228.5 1849.9L1229.6 1847.2L1230.7 1844.4L1231.9 1841.6L1233 1838.8L1234.2 1836.1L1235.3 1833.3L1236.5 1830.5L1237.6 1827.8L1238.8 1825L1239.9 1822.3L1241.1 1819.5L1242.3 1816.8L1243.5 1814L1244.6 1811.2L1245.8 1808.5L1247 1805.8L1248.2 1803L1249.4 1800.3L1250.6 1797.5L1251.8 1794.8L1253.1 1792.1L1254.3 1789.3L1255.5 1786.6L1256.8 1783.9L1258 1781.2L1259.3 1778.5L1260.5 1775.7L1261.8 1773L1263.1 1770.3L1264.4 1767.6L1265.7 1764.9L1267 1762.2L1268.3 1759.6L1269.6 1756.9L1270.9 1754.2L1272.3 1751.5L1273.6 1748.9L1275 1746.2L1276.4 1743.6L1277.8 1740.9L1279.2 1738.3L1280.6 1735.7L1282 1733.1L1283.5 1730.4L1284.9 1727.8L1286.4 1725.2L1287.9 1722.7L1289.4 1720.1L1290.9 1717.5L1292.5 1715L1294.1 1712.5L1295.7 1709.9L1297.3 1707.4L1298.9 1704.9L1300.6 1702.5L1302.3 1700L1304 1697.6L1305.7 1695.2L1307.5 1692.8L1309.3 1690.4L1311.1 1688.1L1313 1685.8L1314.9 1683.5L1316.9 1681.3L1318.8 1679.1L1320.9 1676.9L1322.9 1674.8L1325 1672.7L1327.2 1670.6L1329.4 1668.6L1331.7 1666.7L1334 1664.8L1336.3 1663L1338.7 1661.3L1341.2 1659.7L1343.7 1658.1L1346.3 1656.7L1349 1655.3L1351.7 1654.1L1354.4 1653L1357.2 1652L1360.1 1651.2L1363 1650.6L1365.9 1650L1368.9 1649.7L1371.9 1649.5L1374.9 1649.4L1377.9 1649.4L1380.9 1649.5L1383.9 1649.7L1386.9 1650L1389.9 1650.4L1392.8 1650.8L1395.8 1651.2L1398.8 1651.7L1401.7 1652.1L1404.7 1652.6L1407.6 1653.1L1410.6 1653.5L1413.6 1653.9L1416.6 1654.3L1419 1654.5L1422 1651.8L1423.5 1648.8L1424.8 1645.9L1425.9 1643L1427 1640.2L1428.1 1637.4L1429.2 1634.6L1430.3 1631.7L1431.3 1628.8L1432.2 1625.8L1433.1 1622.7L1433.9 1619.7L1434.6 1616.7L1435.2 1613.6L1435.9 1610.6L1436.4 1607.6L1437 1604.7L1437.6 1601.7L1438.1 1598.7L1438.7 1595.7L1439.2 1592.8L1439.8 1589.8L1440.3 1586.9L1440.8 1584L1441.4 1581.1L1442 1578.1L1442.5 1575.3L1443.1 1572.4L1443.7 1569.5L1444.4 1566.6L1445 1563.7L1445.7 1560.8L1446.4 1557.9L1447.1 1555L1447.8 1552.1L1448.5 1549.2L1449.3 1546.3L1450 1543.4L1450.7 1540.5L1451.5 1537.6L1452.2 1534.7L1452.9 1531.8L1453.6 1528.8L1454.3 1525.9L1455.1 1523L1455.8 1520.1L1456.5 1517.2L1457.2 1514.2L1457.9 1511.3L1458.6 1508.4L1459.3 1505.4L1459.9 1502.5L1460.6 1499.6L1461.3 1496.7L1462 1493.7L1462.7 1490.8L1463.3 1487.9L1464 1485L1464.7 1482L1465.4 1479.1L1466 1476.2L1466.7 1473.3L1467.4 1470.3L1468 1467.4L1468.7 1464.5L1469.4 1461.5L1470 1458.6L1470.7 1455.7L1471.4 1452.8L1472 1449.9L1472.7 1446.9L1473.4 1444L1474 1441.1L1474.7 1438.2L1475.4 1435.2L1476.1 1432.3L1476.7 1429.4L1477.4 1426.5L1478.1 1423.6L1478.8 1420.7L1479.5 1417.8L1480.2 1414.8L1480.9 1411.9L1481.6 1409L1482.3 1406.1L1483 1403.2L1483.7 1400.3L1484.4 1397.4L1485.1 1394.5L1485.8 1391.6L1486.6 1388.7L1487.3 1385.8L1488.1 1382.9L1488.8 1380L1489.6 1377.2L1490.3 1374.3L1491.1 1371.4L1491.9 1368.5L1492.7 1365.6L1493.5 1362.8L1494.3 1359.9L1495.1 1357L1496 1354.1L1496.8 1351.3L1497.6 1348.4L1498.5 1345.5L1499.3 1342.6L1500.2 1339.8L1501 1336.9L1501.9 1334L1502.7 1331.1L1503.5 1328.2L1504.4 1325.4L1505.2 1322.5L1506.1 1319.6L1506.9 1316.7L1507.7 1313.8L1508.5 1310.9L1509.3 1308L1510.1 1305.1L1510.9 1302.2L1511.7 1299.3L1512.5 1296.4L1513.3 1293.5L1514.1 1290.6L1514.9 1287.8L1515.7 1284.9L1516.6 1282L1517.4 1279.1L1518.2 1276.3L1519.1 1273.4L1519.9 1270.6L1520.8 1267.7L1521.7 1264.9L1522.6 1262.1L1523.5 1259.3L1524.4 1256.5L1525.4 1253.7L1526.4 1250.9L1527.5 1248.1L1528.5 1245.4L1529.6 1242.6L1530.8 1239.9L1531.9 1237.1L1533.1 1234.4L1534.3 1231.7L1535.6 1229L1536.9 1226.4L1538.2 1223.7L1539.5 1221L1540.9 1218.4L1542.2 1215.8L1543.6 1213.1L1545.1 1210.5L1546.5 1208L1548 1205.4L1549.6 1202.9L1551.2 1200.5L1552.9 1198L1554.6 1195.7L1556.4 1193.4L1558.4 1191.3L1560.5 1189.3L1562.7 1187.5L1565.2 1185.9L1567.7 1184.5L1570.4 1183.2L1573.2 1182.1L1576 1181.2L1578.9 1180.4L1581.8 1179.9L1584.8 1179.6L1586 1179.5" stroke="#7c7c7c" stroke-width="12.4"/><path d="M1150 2048L1151.2 2045.2L1152.3 2042.4L1153.5 2039.7L1154.6 2036.9L1155.7 2034.1L1156.9 2031.3L1158 2028.5L1159.1 2025.8L1160.3 2023L1161.4 2020.2L1162.5 2017.4L1163.6 2014.6L1164.8 2011.8L1165.9 2009L1167 2006.2L1168.1 2003.5L1169.2 2000.7L1170.3 1997.9L1171.4 1995.1L1172.5 1992.3L1173.6 1989.5L1174.7 1986.7L1175.8 1983.9L1176.9 1981.1L1178 1978.3L1179.1 1975.5L1180.2 1972.7L1181.3 1969.9L1182.4 1967.1L1183.5 1964.3L1184.6 1961.6L1185.7 1958.8L1186.7 1956L1187.8 1953.2L1188.9 1950.4L1190 1947.6L1191.1 1944.8L1192.2 1942L1193.3 1939.2L1194.4 1936.4L1195.4 1933.6L1196.5 1930.8L1197.6 1928L1198.7 1925.2L1199.8 1922.4L1200.9 1919.6L1202 1916.8L1203.1 1914L1204.1 1911.2L1205.2 1908.4L1206.3 1905.6L1207.4 1902.8L1208.5 1900.1L1209.6 1897.3L1210.7 1894.5L1211.8 1891.7L1212.9 1888.9L1214 1886.1L1215.1 1883.3L1216.2 1880.5L1217.3 1877.7L1218.4 1875L1219.5 1872.2L1220.6 1869.4L1221.7 1866.6L1222.9 1863.8L1224 1861L1225.1 1858.3L1226.2 1855.5L1227.3 1852.7L1228.5 1849.9L1229.6 1847.2L1230.7 1844.4L1231.9 1841.6L1233 1838.8L1234.2 1836.1L1235.3 1833.3L1236.5 1830.5L1237.6 1827.8L1238.8 1825L1239.9 1822.3L1241.1 1819.5L1242.3 1816.8L1243.5 1814L1244.6 1811.2L1245.8 1808.5L1247 1805.8L1248.2 1803L1249.4 1800.3L1250.6 1797.5L1251.8 1794.8L1253.1 1792.1L1254.3 1789.3L1255.5 1786.6L1256.8 1783.9L1258 1781.2L1259.3 1778.5L1260.5 1775.7L1261.8 1773L1263.1 1770.3L1264.4 1767.6L1265.7 1764.9L1267 1762.2L1268.3 1759.6L1269.6 1756.9L1270.9 1754.2L1272.3 1751.5L1273.6 1748.9L1275 1746.2L1276.4 1743.6L1277.8 1740.9L1279.2 1738.3L1280.6 1735.7L1282 1733.1L1283.5 1730.4L1284.9 1727.8L1286.4 1725.2L1287.9 1722.7L1289.4 1720.1L1290.9 1717.5L1292.5 1715L1294.1 1712.5L1295.7 1709.9L1297.3 1707.4L1298.9 1704.9L1300.6 1702.5L1302.3 1700L1304 1697.6L1305.7 1695.2L1307.5 1692.8L1309.3 1690.4L1311.1 1688.1L1313 1685.8L1314.9 1683.5L1316.9 1681.3L1318.8 1679.1L1320.9 1676.9L1322.9 1674.8L1325 1672.7L1327.2 1670.6L1329.4 1668.6L1331.7 1666.7L1334 1664.8L1336.3 1663L1338.7 1661.3L1341.2 1659.7L1343.7 1658.1L1346.3 1656.7L1349 1655.3L1351.7 1654.1L1354.4 1653L1357.2 1652L1360.1 1651.2L1363 1650.6L1365.9 1650L1368.9 1649.7L1371.9 1649.5L1374.9 1649.4L1377.9 1649.4L1380.9 1649.5L1383.9 1649.7L1386.9 1650L1389.9 1650.4L1392.8 1650.8L1395.8 1651.2L1398.8 1651.7L1401.7 1652.1L1404.7 1652.6L1407.6 1653.1L1410.6 1653.5L1413.6 1653.9L1416.6 1654.3L1419 1654.5L1422 1651.8L1423.5 1648.8L1424.8 1645.9L1425.9 1643L1427 1640.2L1428.1 1637.4L1429.2 1634.6L1430.3 1631.7L1431.3 1628.8L1432.2 1625.8L1433.1 1622.7L1433.9 1619.7L1434.6 1616.7L1435.2 1613.6L1435.9 1610.6L1436.4 1607.6L1437 1604.7L1437.6 1601.7L1438.1 1598.7L1438.7 1595.7L1439.2 1592.8L1439.8 1589.8L1440.3 1586.9L1440.8 1584L1441.4 1581.1L1442 1578.1L1442.5 1575.3L1443.1 1572.4L1443.7 1569.5L1444.4 1566.6L1445 1563.7L1445.7 1560.8L1446.4 1557.9L1447.1 1555L1447.8 1552.1L1448.5 1549.2L1449.3 1546.3L1450 1543.4L1450.7 1540.5L1451.5 1537.6L1452.2 1534.7L1452.9 1531.8L1453.6 1528.8L1454.3 1525.9L1455.1 1523L1455.8 1520.1L1456.5 1517.2L1457.2 1514.2L1457.9 1511.3L1458.6 1508.4L1459.3 1505.4L1459.9 1502.5L1460.6 1499.6L1461.3 1496.7L1462 1493.7L1462.7 1490.8L1463.3 1487.9L1464 1485L1464.7 1482L1465.4 1479.1L1466 1476.2L1466.7 1473.3L1467.4 1470.3L1468 1467.4L1468.7 1464.5L1469.4 1461.5L1470 1458.6L1470.7 1455.7L1471.4 1452.8L1472 1449.9L1472.7 1446.9L1473.4 1444L1474 1441.1L1474.7 1438.2L1475.4 1435.2L1476.1 1432.3L1476.7 1429.4L1477.4 1426.5L1478.1 1423.6L1478.8 1420.7L1479.5 1417.8L1480.2 1414.8L1480.9 1411.9L1481.6 1409L1482.3 1406.1L1483 1403.2L1483.7 1400.3L1484.4 1397.4L1485.1 1394.5L1485.8 1391.6L1486.6 1388.7L1487.3 1385.8L1488.1 1382.9L1488.8 1380L1489.6 1377.2L1490.3 1374.3L1491.1 1371.4L1491.9 1368.5L1492.7 1365.6L1493.5 1362.8L1494.3 1359.9L1495.1 1357L1496 1354.1L1496.8 1351.3L1497.6 1348.4L1498.5 1345.5L1499.3 1342.6L1500.2 1339.8L1501 1336.9L1501.9 1334L1502.7 1331.1L1503.5 1328.2L1504.4 1325.4L1505.2 1322.5L1506.1 1319.6L1506.9 1316.7L1507.7 1313.8L1508.5 1310.9L1509.3 1308L1510.1 1305.1L1510.9 1302.2L1511.7 1299.3L1512.5 1296.4L1513.3 1293.5L1514.1 1290.6L1514.9 1287.8L1515.7 1284.9L1516.6 1282L1517.4 1279.1L1518.2 1276.3L1519.1 1273.4L1519.9 1270.6L1520.8 1267.7L1521.7 1264.9L1522.6 1262.1L1523.5 1259.3L1524.4 1256.5L1525.4 1253.7L1526.4 1250.9L1527.5 1248.1L1528.5 1245.4L1529.6 1242.6L1530.8 1239.9L1531.9 1237.1L1533.1 1234.4L1534.3 1231.7L1535.6 1229L1536.9 1226.4L1538.2 1223.7L1539.5 1221L1540.9 1218.4L1542.2 1215.8L1543.6 1213.1L1545.1 1210.5L1546.5 1208L1548 1205.4L1549.6 1202.9L1551.2 1200.5L1552.9 1198L1554.6 1195.7L1556.4 1193.4L1558.4 1191.3L1560.5 1189.3L1562.7 1187.5L1565.2 1185.9L1567.7 1184.5L1570.4 1183.2L1573.2 1182.1L1576 1181.2L1578.9 1180.4L1581.8 1179.9L1584.8 1179.6L1586 1179.5" stroke="url(#gF2)" stroke-width="10"/></g><line x1="728.5" y1="49" x2="728.5" y2="2028" stroke="#000" stroke-opacity="0.5" stroke-width="2.6"/><line x1="1014.4" y1="49" x2="1014.4" y2="2028" stroke="#000" stroke-opacity="0.5" stroke-width="2.6"/><g stroke="#000"><line x1="216" y1="49" x2="233" y2="49" stroke-width="4"/><line x1="216" y1="378.833" x2="233" y2="378.833" stroke-width="4"/><line x1="216" y1="708.667" x2="233" y2="708.667" stroke-width="4"/><line x1="216" y1="1038.5" x2="233" y2="1038.5" stroke-width="4"/><line x1="216" y1="1368.33" x2="233" y2="1368.33" stroke-width="4"/><line x1="216" y1="1698.17" x2="233" y2="1698.17" stroke-width="4"/><line x1="216" y1="2028" x2="233" y2="2028" stroke-width="4"/><line x1="223" y1="214.417" x2="233" y2="214.417" stroke-width="3"/><line x1="223" y1="544.25" x2="233" y2="544.25" stroke-width="3"/><line x1="223" y1="874.083" x2="233" y2="874.083" stroke-width="3"/><line x1="223" y1="1203.92" x2="233" y2="1203.92" stroke-width="3"/><line x1="223" y1="1533.75" x2="233" y2="1533.75" stroke-width="3"/><line x1="223" y1="1863.58" x2="233" y2="1863.58" stroke-width="3"/><line x1="233" y1="2028" x2="233" y2="2046" stroke-width="4"/><line x1="728.5" y1="2028" x2="728.5" y2="2046" stroke-width="4"/><line x1="1014.4" y1="2028" x2="1014.4" y2="2046" stroke-width="4"/><line x1="1586" y1="2028" x2="1586" y2="2046" stroke-width="4"/><line x1="1634" y1="438" x2="1652" y2="438" stroke-width="4"/><line x1="1634" y1="836" x2="1652" y2="836" stroke-width="4"/><line x1="1634" y1="1234" x2="1652" y2="1234" stroke-width="4"/><line x1="1634" y1="1632" x2="1652" y2="1632" stroke-width="4"/></g><rect x="1593" y="49" width="41" height="1979" fill="url(#jet)" stroke="#000" stroke-width="4"/><rect x="233" y="49" width="1353" height="1979" fill="none" stroke="#000" stroke-width="4"/><g font-family="'Liberation Serif', 'Times New Roman', Times, serif" font-weight="bold" font-size="87.5px" fill="#000"><text transform="translate(150.92 77.95) scale(1.0263 1.0542)">3</text><text transform="translate(151.64 408.00) scale(1.0541 1.0379)">2</text><text transform="translate(152.93 737.34) scale(0.9818 1.0552)">1</text><text transform="translate(152.92 1067.02) scale(1.0263 1.0400)">0</text><text transform="translate(122.04 1397.34) scale(0.9879 1.0552)">-1</text><text transform="translate(121.96 1727.00) scale(1.0149 1.0379)">-2</text><text transform="translate(121.99 2057.34) scale(1.0030 1.0610)">-3</text><text transform="translate(206.64 2122.20) scale(1.0560 1.0386)">Γ</text><text transform="translate(686.48 2122.00) scale(1.0250 1.0386)">M</text><text transform="translate(979.77 2122.00) scale(1.0328 1.0386)">K</text><text transform="translate(1559.93 2122.40) scale(1.0720 1.0386)">Γ</text><text transform="translate(1668.95 467.12) scale(1.0173 1.0400)">0.8</text><text transform="translate(1668.95 865.12) scale(1.0173 1.0400)">0.6</text><text transform="translate(1668.95 1263.12) scale(1.0173 1.0400)">0.4</text><text transform="translate(1668.95 1661.12) scale(1.0173 1.0400)">0.2</text><text transform="translate(78.4 1272.2) rotate(-90) scale(1.021 1.02)">Energy [eV]</text></g></svg></body></html>
